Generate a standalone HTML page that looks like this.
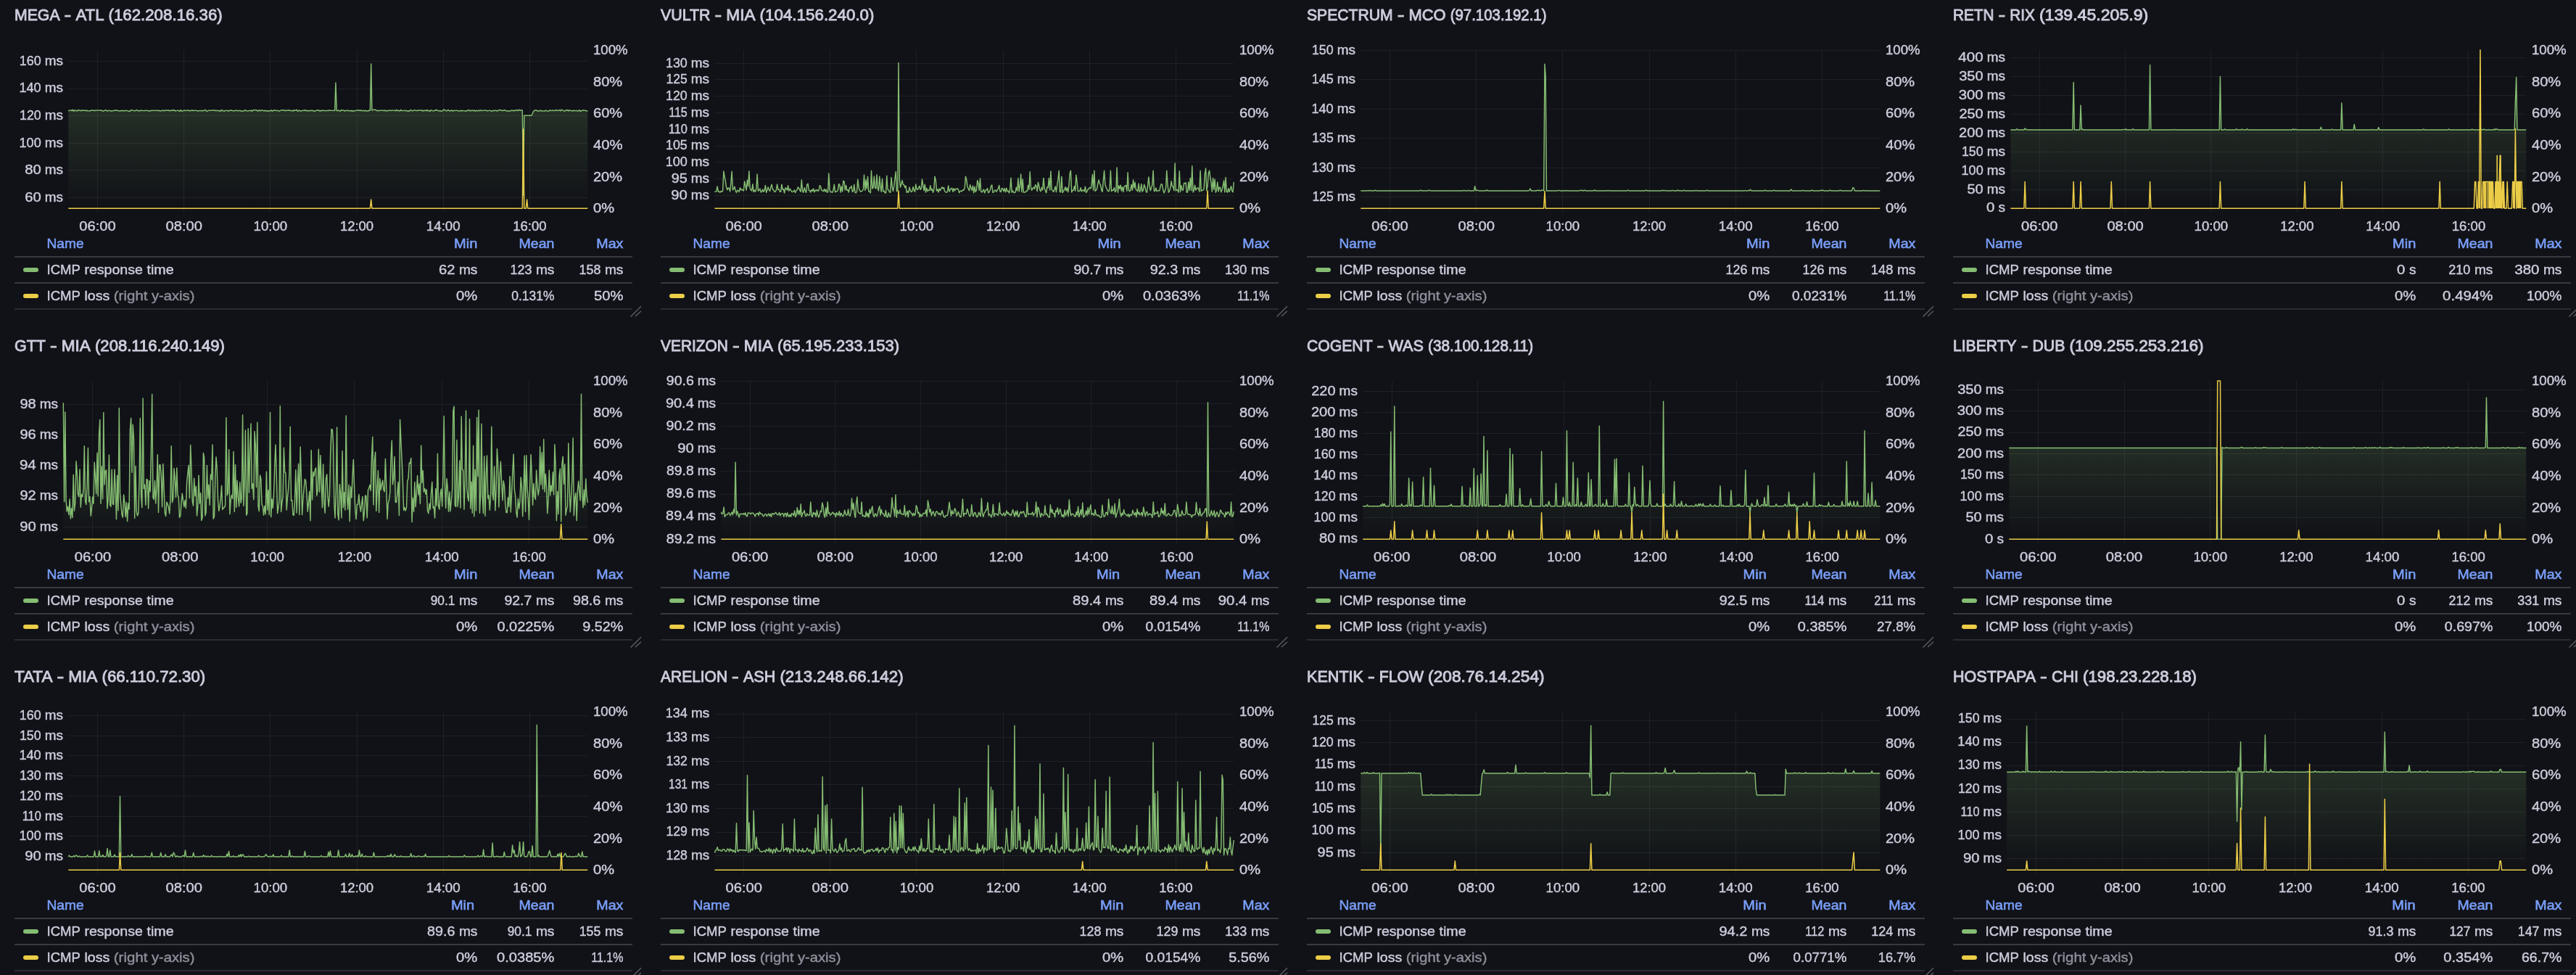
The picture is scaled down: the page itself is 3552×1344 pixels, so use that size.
<!DOCTYPE html>
<html><head><meta charset="utf-8"><title>ICMP dashboard</title><style>
html,body{margin:0;padding:0;background:#111217;}
body{width:3552px;height:1344px;overflow:hidden;}
svg{display:block;font-family:"Liberation Sans",sans-serif;font-size:19px;fill:#ccccdc;will-change:transform;}
text{stroke:#ccccdc;stroke-width:0.45px;}
.t{font-size:22.2px;stroke-width:0.9px;}
.h{stroke:#799ef8;stroke-width:0.6px;}
.g{stroke:#1f2025;stroke-width:1px;fill:none;shape-rendering:crispEdges;}
.gl{stroke:#85bd72;stroke-width:1.45px;fill:none;stroke-linejoin:round;}
.yl{stroke:#eccd47;stroke-width:1.5px;fill:none;stroke-linejoin:round;}
.r{stroke:#393a41;stroke-width:2px;fill:none;}
.r2{stroke:#2b2c32;stroke-width:2px;fill:none;}
.rh{stroke:#5a5b65;stroke-width:1.5px;fill:none;}
</style></head><body>
<svg width="3552" height="1344" viewBox="0 0 3552 1344">
<defs><linearGradient id="gf" gradientUnits="userSpaceOnUse" x1="0" y1="68.9" x2="0" y2="287.2"><stop offset="0" stop-color="#85bd72" stop-opacity="0.27"/><stop offset="1" stop-color="#85bd72" stop-opacity="0"/></linearGradient></defs>
<g transform="translate(0,0)">
<text x="20" y="28" class="t" textLength="62.57" lengthAdjust="spacingAndGlyphs">MEGA</text><text x="88.6" y="28" class="t" textLength="9.70" lengthAdjust="spacingAndGlyphs">-</text><text x="104.4" y="28" class="t" textLength="39.11" lengthAdjust="spacingAndGlyphs">ATL</text><text x="149.5" y="28" class="t" textLength="157.20" lengthAdjust="spacingAndGlyphs">(162.208.16.36)</text>
<path class="g" d="M94.3 84.5H810.3M94.3 122.5H810.3M94.3 159.5H810.3M94.3 197.5H810.3M94.3 234.5H810.3M94.3 272.5H810.3M134.5 68.9V293.2M253.5 68.9V293.2M372.5 68.9V293.2M492.5 68.9V293.2M611.5 68.9V293.2M730.5 68.9V293.2"/>
<path d="M94.3 153.2L95.5 152.1L96.8 152.1L98 151.9L99.3 152.8L100.5 151.2L101.8 153.3L103 152L104.3 152.6L105.5 152.3L106.8 153.1L108 151.4L109.3 152.2L110.5 152.2L111.8 153L113 151.9L114.3 152.3L115.5 152L116.8 152.4L118 152.7L119.3 151.8L120.5 153L121.8 152.9L123 152.7L124.3 152.9L125.5 152.1L126.8 152.3L128 151.9L129.3 152.3L130.5 152.7L131.8 152.1L133 152.2L134.3 152.1L135.5 152L136.8 152.1L138 152.4L139.3 151.8L140.5 152.5L141.8 153.2L143 152.8L144.3 152.3L145.5 152L146.8 152L148 153.2L149.3 152.4L150.5 152.1L151.8 152.5L153 153.5L154.3 152.5L155.5 152.7L156.8 152.6L158 152.2L159.3 151.8L160.5 152.2L161.8 152.3L163 152.7L164.3 152.8L165.5 152.9L166.8 152.5L168 152.8L169.3 152L170.5 153L171.8 152.7L173 152.3L174.3 152.6L175.5 152.4L176.8 153L178 153.2L179.3 153.5L180.5 151.7L181.8 151.7L183 152.1L184.3 152.5L185.5 152.8L186.8 152.6L188 151.4L189.3 152.2L190.5 152.8L191.8 152.5L193 152.8L194.3 152.3L195.5 152.3L196.8 152.5L198 152.6L199.3 152.5L200.5 152.5L201.8 152.1L203 152.6L204.3 152.5L205.5 153L206.8 153L208 152.5L209.3 152.2L210.5 152.1L211.8 152.6L213 152.4L214.3 152.2L215.5 152.4L216.8 152.1L218 152.7L219.3 152.2L220.5 153L221.8 152.6L223 152.7L224.3 151.9L225.5 152.5L226.8 152.8L228 151.9L229.3 152.3L230.5 152.4L231.8 151.7L233 152.6L234.3 152.8L235.5 152L236.8 152.6L238 151.7L239.2 152.4L240.5 151.6L241.7 153L243 152.6L244.2 152.4L245.5 152L246.7 153L248 153.4L249.2 151.5L250.5 153L251.7 153.2L253 152.6L254.2 151.8L255.5 152.8L256.7 152.3L258 152.1L259.2 151.8L260.5 152.7L261.7 152.8L263 152.1L264.2 152.7L265.5 151.8L266.7 152.8L268 152.4L269.2 152.3L270.5 152.3L271.7 152.8L273 152.8L274.2 152.7L275.5 152.5L276.7 152.4L278 152.7L279.2 152.5L280.5 152.7L281.7 152.2L283 151.2L284.2 152.9L285.5 153.5L286.7 152.6L288 152.3L290.5 152.3L291.7 152.4L293 151.8L294.2 152.1L295.5 151.9L296.7 152.5L298 152.3L299.2 152.6L300.5 152.3L301.7 152.9L303 152.5L304.2 153.5L305.5 151.5L306.7 152.1L308 152.9L309.2 153.6L310.5 152.3L311.7 152.4L313 152.3L314.2 153.1L315.5 152.3L316.7 152.7L318 152.2L319.2 151.8L320.5 152.6L321.7 152.7L323 153L324.2 152.3L325.5 152.1L326.7 152.7L328 152.5L329.2 152.5L330.5 152.4L331.7 153L333 152.6L334.2 153.4L335.5 153L336.7 152.7L338 151.6L339.2 152.7L340.5 152.6L341.7 152.8L343 152.9L344.2 152.2L345.5 152.8L346.7 152.1L348 153.4L349.2 151.7L350.5 151.5L351.7 151.6L353 152L354.2 151.8L355.5 153.4L356.7 152.2L358 151.7L359.2 153L360.5 152.1L361.7 151.8L363 152.8L364.2 152.7L365.5 152.2L366.7 153.1L368 152.5L369.2 153.2L370.5 152.7L371.7 153.2L373 152.5L374.2 151.8L375.5 153.6L376.7 152.1L378 152.3L379.2 152L380.5 152.3L381.7 152.5L382.9 152.5L384.2 152.7L385.4 153.3L386.7 152.3L387.9 151.8L389.2 151.8L390.4 152.1L391.7 151.6L392.9 152.8L394.2 152.2L395.4 152.2L396.7 152.4L397.9 151.7L399.2 152L400.4 152.7L401.7 152.7L402.9 152.2L404.2 153.3L405.4 151.7L406.7 152.2L407.9 152.3L409.2 151.2L410.4 153.4L411.7 152.6L412.9 151.9L414.2 153.4L415.4 152.7L416.7 152.6L417.9 152.1L419.2 152.5L420.4 151.6L421.7 152.8L422.9 152.2L424.2 152.5L425.4 153L426.7 152.5L429.2 152.5L430.4 152L431.7 152.8L432.9 153.2L434.2 152.8L435.4 152.8L436.7 152L437.9 152L439.2 151.7L440.4 153L441.7 152.3L442.9 153.1L444.2 152L445.4 152.2L446.7 152.4L447.9 152.9L449.2 152.4L450.4 152.5L451.7 152.4L452.9 152.5L454.2 151.8L455.4 152.4L456.7 152.3L457.9 152.4L459.2 152.6L460.4 152.1L461.7 152.4L462.9 114L464.2 152.6L465.4 152.8L466.7 151.9L467.9 152.7L469.2 153.4L470.4 151.7L471.7 152L472.9 152L474.2 152.3L475.4 153.2L476.7 152.4L477.9 152.1L479.2 152.7L480.4 152.1L481.7 153L482.9 152.6L484.2 153.1L485.4 152.1L486.7 153.6L487.9 152.8L489.2 152.7L490.4 152.4L491.7 152L492.9 152L494.2 152.3L495.4 152L496.7 152.5L497.9 152L499.2 152.7L500.4 152.9L501.7 152L502.9 153L504.2 152.3L505.4 153L506.7 152.6L507.9 153L509.2 151.9L510.4 152.3L511.7 88L512.9 152.1L514.2 151.4L515.4 151.4L516.7 151.2L517.9 151.3L519.2 152.2L520.4 153L521.7 152.2L522.9 152.6L524.1 152.3L525.4 152.4L526.6 152.3L527.9 152.3L529.1 152.6L530.4 151.8L531.6 152.9L532.9 152.9L534.1 152.3L535.4 152.8L536.6 152L537.9 152.1L539.1 152.5L540.4 152.3L541.6 152.2L542.9 152.1L544.1 152.1L545.4 152.9L546.6 151.4L547.9 152.6L549.1 152.3L550.4 152.8L551.6 152.7L552.9 151.2L554.1 152.7L555.4 152.6L556.6 152.4L557.9 152.2L559.1 152.8L560.4 152.2L561.6 153.3L562.9 152.7L564.1 153.5L565.4 152L566.6 151.5L567.9 152.8L569.1 152.8L570.4 152.4L571.6 151.6L572.9 152.2L574.1 152.7L575.4 152.3L576.6 152.3L577.9 152.3L579.1 151.9L580.4 152.1L581.6 151.7L582.9 153.3L584.1 152.2L585.4 152.6L586.6 151.9L587.9 152.8L589.1 151.5L590.4 152.9L591.6 152.4L592.9 153.5L594.1 151.7L595.4 152.4L596.6 152.6L597.9 153L599.1 152.2L600.4 152.4L601.6 151.3L602.9 152L604.1 152.6L605.4 153L606.6 152.3L607.9 153.4L609.1 153.3L610.4 152.4L611.6 151.2L612.9 151.5L614.1 152L615.4 153L616.6 152.6L617.9 151.4L619.1 152.3L620.4 153.2L621.6 152.2L622.9 152L624.1 153.4L625.4 152.4L626.6 152.2L627.9 152.6L629.1 152.4L630.4 152.2L631.6 153L632.9 153L634.1 152.8L635.4 152.3L636.6 153L637.9 152.4L639.1 152.6L640.4 152.9L641.6 152.8L642.9 153.3L644.1 152.6L645.4 151.6L646.6 151.8L647.9 153.1L649.1 152.2L650.4 152.6L651.6 152L652.9 152.9L654.1 152.2L655.4 153.1L656.6 152.1L657.9 153L659.1 152.7L660.4 152L661.6 152.9L662.9 151.9L664.1 152L665.4 152.8L666.6 152.1L667.8 152.1L669.1 152.2L670.3 151.9L671.6 152.9L672.8 152.7L674.1 152.4L675.3 152.3L676.6 152.6L677.8 153.3L679.1 152.8L680.3 152.1L681.6 152.8L682.8 152.3L684.1 152.3L685.3 153.3L686.6 152.2L687.8 152.2L689.1 151.4L690.3 151.7L691.6 152.6L692.8 152.1L694.1 152.7L695.3 151.8L696.6 152L697.8 152.7L699.1 153.1L700.3 152.7L701.6 153L702.8 153.3L704.1 152.9L705.3 151.9L706.6 152.3L707.8 152.7L709.1 152.2L710.3 152.6L711.6 151.6L712.8 152L714.1 152.7L715.3 151.3L716.6 151.8L717.8 152.4L719.1 151.5L720.3 152.4L721.6 269.4L722.8 159.3L732.8 159.3L734.1 157L735.3 154L736.6 152.7L737.8 152L739.1 152L740.3 152.7L741.6 152.5L742.8 153L744.1 153.1L745.3 152.1L746.6 152.5L747.8 153.3L749.1 152.9L750.3 152.8L751.6 153.1L752.8 152.1L754.1 152.7L755.3 153.1L756.6 153.2L757.8 152L759.1 152.3L760.3 152.6L761.6 152.3L762.8 152.2L764.1 152.7L765.3 152.2L766.6 151.5L767.8 152.6L769.1 152.2L770.3 152L771.6 151.6L772.8 152.9L774.1 151.3L775.3 151.6L776.6 152.3L777.8 153L779.1 153.1L780.3 151.8L781.6 152.3L782.8 151.6L784.1 152.9L785.3 151.7L786.6 152.3L787.8 152.9L789.1 152.3L790.3 153.1L791.6 152L792.8 152.6L794.1 152.8L795.3 152.3L796.6 153.1L797.8 152.7L799.1 151.6L800.3 153.6L801.6 152.7L802.8 152.5L804.1 151.7L805.3 152.4L806.6 152.2L807.8 152.7L809.1 152.6L810.3 153.3L810.3 287.2L94.3 287.2Z" fill="url(#gf)" stroke="none"/>
<path class="gl" d="M94.3 153.2L95.5 152.1L96.8 152.1L98 151.9L99.3 152.8L100.5 151.2L101.8 153.3L103 152L104.3 152.6L105.5 152.3L106.8 153.1L108 151.4L109.3 152.2L110.5 152.2L111.8 153L113 151.9L114.3 152.3L115.5 152L116.8 152.4L118 152.7L119.3 151.8L120.5 153L121.8 152.9L123 152.7L124.3 152.9L125.5 152.1L126.8 152.3L128 151.9L129.3 152.3L130.5 152.7L131.8 152.1L133 152.2L134.3 152.1L135.5 152L136.8 152.1L138 152.4L139.3 151.8L140.5 152.5L141.8 153.2L143 152.8L144.3 152.3L145.5 152L146.8 152L148 153.2L149.3 152.4L150.5 152.1L151.8 152.5L153 153.5L154.3 152.5L155.5 152.7L156.8 152.6L158 152.2L159.3 151.8L160.5 152.2L161.8 152.3L163 152.7L164.3 152.8L165.5 152.9L166.8 152.5L168 152.8L169.3 152L170.5 153L171.8 152.7L173 152.3L174.3 152.6L175.5 152.4L176.8 153L178 153.2L179.3 153.5L180.5 151.7L181.8 151.7L183 152.1L184.3 152.5L185.5 152.8L186.8 152.6L188 151.4L189.3 152.2L190.5 152.8L191.8 152.5L193 152.8L194.3 152.3L195.5 152.3L196.8 152.5L198 152.6L199.3 152.5L200.5 152.5L201.8 152.1L203 152.6L204.3 152.5L205.5 153L206.8 153L208 152.5L209.3 152.2L210.5 152.1L211.8 152.6L213 152.4L214.3 152.2L215.5 152.4L216.8 152.1L218 152.7L219.3 152.2L220.5 153L221.8 152.6L223 152.7L224.3 151.9L225.5 152.5L226.8 152.8L228 151.9L229.3 152.3L230.5 152.4L231.8 151.7L233 152.6L234.3 152.8L235.5 152L236.8 152.6L238 151.7L239.2 152.4L240.5 151.6L241.7 153L243 152.6L244.2 152.4L245.5 152L246.7 153L248 153.4L249.2 151.5L250.5 153L251.7 153.2L253 152.6L254.2 151.8L255.5 152.8L256.7 152.3L258 152.1L259.2 151.8L260.5 152.7L261.7 152.8L263 152.1L264.2 152.7L265.5 151.8L266.7 152.8L268 152.4L269.2 152.3L270.5 152.3L271.7 152.8L273 152.8L274.2 152.7L275.5 152.5L276.7 152.4L278 152.7L279.2 152.5L280.5 152.7L281.7 152.2L283 151.2L284.2 152.9L285.5 153.5L286.7 152.6L288 152.3L290.5 152.3L291.7 152.4L293 151.8L294.2 152.1L295.5 151.9L296.7 152.5L298 152.3L299.2 152.6L300.5 152.3L301.7 152.9L303 152.5L304.2 153.5L305.5 151.5L306.7 152.1L308 152.9L309.2 153.6L310.5 152.3L311.7 152.4L313 152.3L314.2 153.1L315.5 152.3L316.7 152.7L318 152.2L319.2 151.8L320.5 152.6L321.7 152.7L323 153L324.2 152.3L325.5 152.1L326.7 152.7L328 152.5L329.2 152.5L330.5 152.4L331.7 153L333 152.6L334.2 153.4L335.5 153L336.7 152.7L338 151.6L339.2 152.7L340.5 152.6L341.7 152.8L343 152.9L344.2 152.2L345.5 152.8L346.7 152.1L348 153.4L349.2 151.7L350.5 151.5L351.7 151.6L353 152L354.2 151.8L355.5 153.4L356.7 152.2L358 151.7L359.2 153L360.5 152.1L361.7 151.8L363 152.8L364.2 152.7L365.5 152.2L366.7 153.1L368 152.5L369.2 153.2L370.5 152.7L371.7 153.2L373 152.5L374.2 151.8L375.5 153.6L376.7 152.1L378 152.3L379.2 152L380.5 152.3L381.7 152.5L382.9 152.5L384.2 152.7L385.4 153.3L386.7 152.3L387.9 151.8L389.2 151.8L390.4 152.1L391.7 151.6L392.9 152.8L394.2 152.2L395.4 152.2L396.7 152.4L397.9 151.7L399.2 152L400.4 152.7L401.7 152.7L402.9 152.2L404.2 153.3L405.4 151.7L406.7 152.2L407.9 152.3L409.2 151.2L410.4 153.4L411.7 152.6L412.9 151.9L414.2 153.4L415.4 152.7L416.7 152.6L417.9 152.1L419.2 152.5L420.4 151.6L421.7 152.8L422.9 152.2L424.2 152.5L425.4 153L426.7 152.5L429.2 152.5L430.4 152L431.7 152.8L432.9 153.2L434.2 152.8L435.4 152.8L436.7 152L437.9 152L439.2 151.7L440.4 153L441.7 152.3L442.9 153.1L444.2 152L445.4 152.2L446.7 152.4L447.9 152.9L449.2 152.4L450.4 152.5L451.7 152.4L452.9 152.5L454.2 151.8L455.4 152.4L456.7 152.3L457.9 152.4L459.2 152.6L460.4 152.1L461.7 152.4L462.9 114L464.2 152.6L465.4 152.8L466.7 151.9L467.9 152.7L469.2 153.4L470.4 151.7L471.7 152L472.9 152L474.2 152.3L475.4 153.2L476.7 152.4L477.9 152.1L479.2 152.7L480.4 152.1L481.7 153L482.9 152.6L484.2 153.1L485.4 152.1L486.7 153.6L487.9 152.8L489.2 152.7L490.4 152.4L491.7 152L492.9 152L494.2 152.3L495.4 152L496.7 152.5L497.9 152L499.2 152.7L500.4 152.9L501.7 152L502.9 153L504.2 152.3L505.4 153L506.7 152.6L507.9 153L509.2 151.9L510.4 152.3L511.7 88L512.9 152.1L514.2 151.4L515.4 151.4L516.7 151.2L517.9 151.3L519.2 152.2L520.4 153L521.7 152.2L522.9 152.6L524.1 152.3L525.4 152.4L526.6 152.3L527.9 152.3L529.1 152.6L530.4 151.8L531.6 152.9L532.9 152.9L534.1 152.3L535.4 152.8L536.6 152L537.9 152.1L539.1 152.5L540.4 152.3L541.6 152.2L542.9 152.1L544.1 152.1L545.4 152.9L546.6 151.4L547.9 152.6L549.1 152.3L550.4 152.8L551.6 152.7L552.9 151.2L554.1 152.7L555.4 152.6L556.6 152.4L557.9 152.2L559.1 152.8L560.4 152.2L561.6 153.3L562.9 152.7L564.1 153.5L565.4 152L566.6 151.5L567.9 152.8L569.1 152.8L570.4 152.4L571.6 151.6L572.9 152.2L574.1 152.7L575.4 152.3L576.6 152.3L577.9 152.3L579.1 151.9L580.4 152.1L581.6 151.7L582.9 153.3L584.1 152.2L585.4 152.6L586.6 151.9L587.9 152.8L589.1 151.5L590.4 152.9L591.6 152.4L592.9 153.5L594.1 151.7L595.4 152.4L596.6 152.6L597.9 153L599.1 152.2L600.4 152.4L601.6 151.3L602.9 152L604.1 152.6L605.4 153L606.6 152.3L607.9 153.4L609.1 153.3L610.4 152.4L611.6 151.2L612.9 151.5L614.1 152L615.4 153L616.6 152.6L617.9 151.4L619.1 152.3L620.4 153.2L621.6 152.2L622.9 152L624.1 153.4L625.4 152.4L626.6 152.2L627.9 152.6L629.1 152.4L630.4 152.2L631.6 153L632.9 153L634.1 152.8L635.4 152.3L636.6 153L637.9 152.4L639.1 152.6L640.4 152.9L641.6 152.8L642.9 153.3L644.1 152.6L645.4 151.6L646.6 151.8L647.9 153.1L649.1 152.2L650.4 152.6L651.6 152L652.9 152.9L654.1 152.2L655.4 153.1L656.6 152.1L657.9 153L659.1 152.7L660.4 152L661.6 152.9L662.9 151.9L664.1 152L665.4 152.8L666.6 152.1L667.8 152.1L669.1 152.2L670.3 151.9L671.6 152.9L672.8 152.7L674.1 152.4L675.3 152.3L676.6 152.6L677.8 153.3L679.1 152.8L680.3 152.1L681.6 152.8L682.8 152.3L684.1 152.3L685.3 153.3L686.6 152.2L687.8 152.2L689.1 151.4L690.3 151.7L691.6 152.6L692.8 152.1L694.1 152.7L695.3 151.8L696.6 152L697.8 152.7L699.1 153.1L700.3 152.7L701.6 153L702.8 153.3L704.1 152.9L705.3 151.9L706.6 152.3L707.8 152.7L709.1 152.2L710.3 152.6L711.6 151.6L712.8 152L714.1 152.7L715.3 151.3L716.6 151.8L717.8 152.4L719.1 151.5L720.3 152.4L721.6 269.4L722.8 159.3L732.8 159.3L734.1 157L735.3 154L736.6 152.7L737.8 152L739.1 152L740.3 152.7L741.6 152.5L742.8 153L744.1 153.1L745.3 152.1L746.6 152.5L747.8 153.3L749.1 152.9L750.3 152.8L751.6 153.1L752.8 152.1L754.1 152.7L755.3 153.1L756.6 153.2L757.8 152L759.1 152.3L760.3 152.6L761.6 152.3L762.8 152.2L764.1 152.7L765.3 152.2L766.6 151.5L767.8 152.6L769.1 152.2L770.3 152L771.6 151.6L772.8 152.9L774.1 151.3L775.3 151.6L776.6 152.3L777.8 153L779.1 153.1L780.3 151.8L781.6 152.3L782.8 151.6L784.1 152.9L785.3 151.7L786.6 152.3L787.8 152.9L789.1 152.3L790.3 153.1L791.6 152L792.8 152.6L794.1 152.8L795.3 152.3L796.6 153.1L797.8 152.7L799.1 151.6L800.3 153.6L801.6 152.7L802.8 152.5L804.1 151.7L805.3 152.4L806.6 152.2L807.8 152.7L809.1 152.6L810.3 153.3"/>
<path class="yl" d="M94.3 287.2L510.4 287.2L511.7 275.1L512.9 287.2L720.3 287.2L721.6 178L722.8 287.2L725.3 287.2L726.6 275.1L727.8 287.2L810.3 287.2"/>
<text x="26.8" y="89.7" textLength="29.84" lengthAdjust="spacingAndGlyphs">160</text><text x="61.7" y="89.7" textLength="25.27" lengthAdjust="spacingAndGlyphs">ms</text>
<text x="26.4" y="127.3" textLength="30.31" lengthAdjust="spacingAndGlyphs">140</text><text x="61.7" y="127.3" textLength="25.27" lengthAdjust="spacingAndGlyphs">ms</text>
<text x="27" y="165" textLength="29.67" lengthAdjust="spacingAndGlyphs">120</text><text x="61.7" y="165" textLength="25.27" lengthAdjust="spacingAndGlyphs">ms</text>
<text x="26.6" y="202.6" textLength="30.05" lengthAdjust="spacingAndGlyphs">100</text><text x="61.7" y="202.6" textLength="25.27" lengthAdjust="spacingAndGlyphs">ms</text>
<text x="34.2" y="240.3" textLength="22.50" lengthAdjust="spacingAndGlyphs">80</text><text x="61.7" y="240.3" textLength="25.27" lengthAdjust="spacingAndGlyphs">ms</text>
<text x="34.2" y="277.9" textLength="22.52" lengthAdjust="spacingAndGlyphs">60</text><text x="61.7" y="277.9" textLength="25.27" lengthAdjust="spacingAndGlyphs">ms</text>
<text x="818" y="75.1" textLength="47.72" lengthAdjust="spacingAndGlyphs">100%</text>
<text x="818" y="118.8" textLength="40.17" lengthAdjust="spacingAndGlyphs">80%</text>
<text x="818" y="162.4" textLength="40.19" lengthAdjust="spacingAndGlyphs">60%</text>
<text x="818" y="206.1" textLength="40.66" lengthAdjust="spacingAndGlyphs">40%</text>
<text x="818" y="249.7" textLength="40.02" lengthAdjust="spacingAndGlyphs">20%</text>
<text x="818" y="293.4" textLength="29.03" lengthAdjust="spacingAndGlyphs">0%</text>
<text x="109.3" y="318.2" textLength="50.42" lengthAdjust="spacingAndGlyphs">06:00</text>
<text x="228.5" y="318.2" textLength="50.41" lengthAdjust="spacingAndGlyphs">08:00</text>
<text x="349.6" y="318.2" textLength="46.59" lengthAdjust="spacingAndGlyphs">10:00</text>
<text x="468.9" y="318.2" textLength="46.22" lengthAdjust="spacingAndGlyphs">12:00</text>
<text x="587.8" y="318.2" textLength="46.86" lengthAdjust="spacingAndGlyphs">14:00</text>
<text x="707.2" y="318.2" textLength="46.39" lengthAdjust="spacingAndGlyphs">16:00</text>
<text x="64.5" y="341.8" class="h" style="fill:#799ef8;stroke:#799ef8" textLength="51.07" lengthAdjust="spacingAndGlyphs">Name</text>
<text x="626.1" y="341.8" class="h" style="fill:#799ef8;stroke:#799ef8" textLength="32.23" lengthAdjust="spacingAndGlyphs">Min</text>
<text x="715.5" y="341.8" class="h" style="fill:#799ef8;stroke:#799ef8" textLength="48.89" lengthAdjust="spacingAndGlyphs">Mean</text>
<text x="822.3" y="341.8" class="h" style="fill:#799ef8;stroke:#799ef8" textLength="37.12" lengthAdjust="spacingAndGlyphs">Max</text>
<path class="r" d="M20 354H872M20 390H872"/><path class="r2" d="M20 426H872"/>
<rect x="32" y="369" width="21" height="6" rx="3" fill="#85bd72"/>
<rect x="32" y="405" width="21" height="6" rx="3" fill="#eccd47"/>
<text x="64.5" y="377.9" textLength="46.42" lengthAdjust="spacingAndGlyphs">ICMP</text><text x="116.4" y="377.9" textLength="80.51" lengthAdjust="spacingAndGlyphs">response</text><text x="202.5" y="377.9" textLength="37.19" lengthAdjust="spacingAndGlyphs">time</text>
<text x="64.5" y="413.9" textLength="46.42" lengthAdjust="spacingAndGlyphs">ICMP</text><text x="116.4" y="413.9" textLength="34.83" lengthAdjust="spacingAndGlyphs">loss</text>
<text x="156.8" y="413.9" style="fill:#8e8e9b;stroke:#8e8e9b" textLength="46.69" lengthAdjust="spacingAndGlyphs">(right</text><text x="209" y="413.9" style="fill:#8e8e9b;stroke:#8e8e9b" textLength="59.38" lengthAdjust="spacingAndGlyphs">y-axis)</text>
<text x="605" y="377.9" textLength="22.37" lengthAdjust="spacingAndGlyphs">62</text><text x="632.9" y="377.9" textLength="25.49" lengthAdjust="spacingAndGlyphs">ms</text>
<text x="703.5" y="377.9" textLength="29.89" lengthAdjust="spacingAndGlyphs">123</text><text x="738.9" y="377.9" textLength="25.49" lengthAdjust="spacingAndGlyphs">ms</text>
<text x="798.5" y="377.9" textLength="29.86" lengthAdjust="spacingAndGlyphs">158</text><text x="833.9" y="377.9" textLength="25.49" lengthAdjust="spacingAndGlyphs">ms</text>
<text x="629.1" y="413.9" textLength="29.26" lengthAdjust="spacingAndGlyphs">0%</text>
<text x="705.3" y="413.9" textLength="59.11" lengthAdjust="spacingAndGlyphs">0.131%</text>
<text x="819" y="413.9" textLength="40.42" lengthAdjust="spacingAndGlyphs">50%</text>
<path class="rh" d="M869.5 436.5L884 422.3M876 436L884 428.8"/>
</g>
<g transform="translate(891,0)">
<text x="20" y="28" class="t" textLength="68.54" lengthAdjust="spacingAndGlyphs">VULTR</text><text x="94.6" y="28" class="t" textLength="9.70" lengthAdjust="spacingAndGlyphs">-</text><text x="110.3" y="28" class="t" textLength="40.23" lengthAdjust="spacingAndGlyphs">MIA</text><text x="156.6" y="28" class="t" textLength="157.92" lengthAdjust="spacingAndGlyphs">(104.156.240.0)</text>
<path class="g" d="M94.4 87.5H810.3M94.4 109.5H810.3M94.4 132.5H810.3M94.4 155.5H810.3M94.4 178.5H810.3M94.4 201.5H810.3M94.4 223.5H810.3M94.4 246.5H810.3M94.4 269.5H810.3M134.5 68.9V293.2M253.5 68.9V293.2M372.5 68.9V293.2M492.5 68.9V293.2M611.5 68.9V293.2M730.5 68.9V293.2"/>
<path d="M94.4 264.2L95.6 264.3L96.9 263.7L98.1 257L99.4 264.3L100.6 263.9L101.9 265.2L103.1 263.4L104.4 264.3L105.6 263.2L106.9 236L108.1 243.3L109.4 250.1L110.6 258.5L111.9 261.6L113.1 258.9L114.4 259.9L115.6 263.9L116.9 252.1L118.1 236.3L119.4 261.7L120.6 260.5L121.9 257.2L123.1 262.7L124.4 265.5L125.6 262.2L126.9 262.8L128.1 264.7L129.4 258.8L130.6 262.1L131.9 260.7L133.1 262.3L134.4 263L135.6 250L136.9 255.9L138.1 262L139.4 248.5L140.6 256.6L141.9 235.7L143.1 259.2L144.4 261.9L145.6 263.1L146.9 253.7L148.1 264.6L149.4 262.1L150.6 264.2L151.9 259.5L153.1 240L154.4 263.4L155.6 262L156.9 260.1L158.1 264.8L159.4 264.5L160.6 261L161.9 264.3L163.1 262.3L164.4 255.5L165.6 265.5L166.9 261.8L168.1 257.9L169.4 261.9L170.6 263.5L171.9 257.9L173.1 254.3L174.4 261.1L175.6 261.6L176.9 264.5L178.1 264.2L179.4 261.8L180.6 254L181.9 261.2L183.1 260.9L184.4 264.3L185.6 264.4L186.9 254.2L188.1 261.2L189.4 260.7L190.6 266L191.9 258.9L193.1 259.8L194.4 262.2L195.6 255.8L196.8 263.2L198.1 260.3L199.3 261.7L200.6 264.3L201.8 264.6L203.1 263.7L204.3 261.9L205.6 265.6L206.8 262.7L208.1 261.7L209.3 258L210.6 259.4L211.8 262.2L213.1 264.3L214.3 248L215.6 263.2L216.8 265.3L218.1 258.8L219.3 262.7L220.6 265.5L221.8 254.4L223.1 253.3L224.3 262.6L225.6 262.6L226.8 265.1L228.1 261.5L229.3 263.5L230.6 260L231.8 264.9L233.1 262.1L234.3 263L235.6 261.5L236.8 263.4L238.1 262.5L239.3 255.6L240.6 257.1L241.8 262L243.1 263.1L244.3 263.7L245.6 260.6L246.8 264.1L248.1 261L249.3 265L250.6 264.9L251.8 239L253.1 262.3L254.3 264.8L255.6 264.4L256.8 265.3L258.1 261.7L259.3 254.3L260.6 264.8L261.8 264L263.1 263.7L264.3 262.4L265.6 253.5L266.8 254.6L268.1 265.1L269.3 257L270.6 264L271.8 249.2L273.1 250.3L274.3 262L275.6 255.4L276.8 262.4L278.1 261.6L279.3 265.1L280.6 258.7L281.8 259L283.1 256.3L284.3 264.5L285.6 263.5L286.8 254.3L288.1 265.4L289.3 265.9L290.6 263.5L291.8 247.4L293.1 258.4L294.3 262.3L295.6 264.2L296.8 263.4L298.1 263.2L299.3 260.7L300.5 241L301.8 262.5L303 248L304.3 260.3L305.5 243.4L306.8 263.9L308 263.8L309.3 265.9L310.5 235.3L311.8 260L313 258.7L314.3 243.3L315.5 258.8L316.8 259.9L318 240.9L319.3 259.9L320.5 263.1L321.8 243.3L323 257.6L324.3 264.3L325.5 246.4L326.8 264L328 263L329.3 266L330.5 266L331.8 242.2L333 261.1L334.3 261.8L335.5 264.9L336.8 265.2L338 244.6L339.3 257.8L340.5 263.6L341.8 256.2L343 246.2L344.3 236.5L345.5 263.9L346.8 261.9L348 86.6L349.3 246.2L350.5 258.1L351.8 253.6L353 248.7L354.3 254.3L355.5 254.7L356.8 258.6L358 256.1L359.3 265.5L360.5 263.7L361.8 265.2L363 258.1L364.3 262.7L365.5 264.6L366.8 263.6L368 257.6L369.3 262.5L370.5 264.5L371.8 254L373 260.8L374.3 261.4L375.5 259.2L376.8 256.2L378 261.3L379.3 259.9L380.5 247L381.8 255.6L383 262.7L384.3 254.2L385.5 265.1L386.8 259.5L388 263.6L389.3 262L390.5 262.5L391.8 255.8L393 262.4L394.3 260.3L395.5 265.3L396.8 261.4L398 243.2L399.3 248.9L400.5 263.1L401.7 260.7L403 265L404.2 260.2L405.5 262.7L406.7 260L408 257.8L409.2 260.2L410.5 258.4L411.7 263.8L413 264.8L414.2 265.3L415.5 263.7L416.7 255.9L418 264.2L419.2 262L420.5 259.9L421.7 259.3L423 264.2L424.2 259.7L425.5 263L426.7 260.4L428 260.8L429.2 259.7L430.5 261.4L431.7 265.7L433 263.6L434.2 263L435.5 263.7L436.7 261.8L438 262.1L439.2 258.9L440.5 243.1L441.7 247.6L443 257.5L444.2 260L445.5 262.9L446.7 254.6L448 259.1L449.2 262.4L450.5 256.1L451.7 265.8L453 257.3L454.2 264.6L455.5 261.9L456.7 248.7L458 252.7L459.2 262.5L460.5 246L461.7 263.9L463 265L464.2 263.2L465.5 261.1L466.7 266L468 262.2L469.2 262.1L470.5 259.7L471.7 265.7L473 264.7L474.2 262L475.5 256.9L476.7 254.9L478 265.3L479.2 265L480.5 262.3L481.7 262.2L483 264.3L484.2 261.9L485.5 259.8L486.7 255.5L488 264.1L489.2 264.6L490.5 259.4L491.7 260.1L493 263.7L494.2 259.8L495.5 264.9L496.7 259.3L498 263.7L499.2 263.2L500.5 266L501.7 260.3L503 245.3L504.2 265.3L505.4 262.9L506.7 265.2L507.9 265.8L509.2 264.6L510.4 258.2L511.7 263L512.9 245.7L514.2 263.8L515.4 256.2L516.7 240L517.9 264.8L519.2 247L520.4 265.2L521.7 264.9L522.9 265L524.2 263.1L525.4 263.3L526.7 255.2L527.9 261.4L529.2 236.8L530.4 257.9L531.7 262.4L532.9 259.6L534.2 258.1L535.4 260.5L536.7 254.7L537.9 256.2L539.2 263.6L540.4 251.3L541.7 256L542.9 262.3L544.2 263.7L545.4 258.5L546.7 261.8L547.9 245.4L549.2 259.4L550.4 262.7L551.7 265.9L552.9 257.9L554.2 258.5L555.4 245.5L556.7 262L557.9 236L559.2 261.5L560.4 262.5L561.7 264.5L562.9 261.2L564.2 257.1L565.4 264.7L566.7 255.5L567.9 247.5L569.2 235.3L570.4 264.5L571.7 264.7L572.9 243.5L574.2 265.7L575.4 263.1L576.7 262L577.9 257.7L579.2 263.1L580.4 258.8L581.7 264.8L582.9 255.7L584.2 238.9L585.4 235.3L586.7 265L587.9 262.4L589.2 262.3L590.4 256.7L591.7 263.2L592.9 241.3L594.2 252.2L595.4 263.6L596.7 263.7L597.9 263.2L599.2 258.8L600.4 263.9L601.7 262.7L602.9 261.9L604.2 263.8L605.4 257.2L606.6 265.5L607.9 263.9L609.1 261.1L610.4 259.9L611.6 258.5L612.9 259.9L614.1 256.1L615.4 240.5L616.6 262.3L617.9 235.3L619.1 263.5L620.4 262.1L621.6 260.4L622.9 252.7L624.1 248.1L625.4 253.2L626.6 255L627.9 262.4L629.1 264.3L630.4 248.3L631.6 235.3L632.9 254.7L634.1 258L635.4 260.7L636.6 263.3L637.9 263.7L639.1 260.2L640.4 235.3L641.6 263.8L642.9 262.1L644.1 262.4L645.4 258.7L646.6 264.5L647.9 263.1L649.1 231L650.4 265.2L651.6 255.9L652.9 260.1L654.1 255.2L655.4 263.2L656.6 257.7L657.9 264.5L659.1 257L660.4 256.2L661.6 255.6L662.9 263.3L664.1 237.8L665.4 262L666.6 263.8L667.9 262L669.1 254.4L670.4 262.4L671.6 247.9L672.9 259L674.1 251.3L675.4 261.6L676.6 262L677.9 263.7L679.1 252.9L680.4 264.7L681.6 262.4L682.9 253.6L684.1 264.2L685.4 262.1L686.6 254.3L687.9 257.7L689.1 263.6L690.4 265.3L691.6 256.2L692.9 243.9L694.1 257.3L695.4 262.8L696.6 258.3L697.9 254.7L699.1 235.3L700.4 263.2L701.6 263.5L702.9 259L704.1 263.5L705.4 262.9L706.6 262.7L707.9 262.9L709.1 256.7L710.3 253.5L711.6 254.7L712.8 262L714.1 265.9L715.3 263.2L716.6 258.5L717.8 235.3L719.1 255.7L720.3 265.2L721.6 263.2L722.8 259.1L724.1 249.8L725.3 256.6L726.6 257.2L727.8 262.7L729.1 225L730.3 262.9L731.6 261.3L732.8 262.4L734.1 265.2L735.3 235.8L736.6 264.5L737.8 255.7L739.1 261.6L740.3 262.4L741.6 252.4L742.8 252.9L744.1 251.7L745.3 265.1L746.6 265L747.8 250.9L749.1 262.2L750.3 245.4L751.6 262.6L752.8 228.7L754.1 265L755.3 262.5L756.6 255.2L757.8 262.2L759.1 259.9L760.3 258.9L761.6 259.8L762.8 264L764.1 235.3L765.3 263.6L766.6 262.2L767.8 262L769.1 260.7L770.3 240.3L771.6 232L772.8 262.7L774.1 256.2L775.3 239.3L776.6 235.3L777.8 244.1L779.1 252.2L780.3 264.1L781.6 245.4L782.8 261.2L784.1 247.3L785.3 265.3L786.6 262L787.8 251.1L789.1 264L790.3 258.3L791.6 258.3L792.8 264.8L794.1 261.4L795.3 256.5L796.6 248.9L797.8 264.9L799.1 244.5L800.3 264.2L801.6 265.1L802.8 259.7L804.1 264.6L805.3 260.8L806.6 256.8L807.8 263.1L809.1 264.8L810.3 251.1L810.3 287.2L94.4 287.2Z" fill="url(#gf)" stroke="none"/>
<path class="gl" d="M94.4 264.2L95.6 264.3L96.9 263.7L98.1 257L99.4 264.3L100.6 263.9L101.9 265.2L103.1 263.4L104.4 264.3L105.6 263.2L106.9 236L108.1 243.3L109.4 250.1L110.6 258.5L111.9 261.6L113.1 258.9L114.4 259.9L115.6 263.9L116.9 252.1L118.1 236.3L119.4 261.7L120.6 260.5L121.9 257.2L123.1 262.7L124.4 265.5L125.6 262.2L126.9 262.8L128.1 264.7L129.4 258.8L130.6 262.1L131.9 260.7L133.1 262.3L134.4 263L135.6 250L136.9 255.9L138.1 262L139.4 248.5L140.6 256.6L141.9 235.7L143.1 259.2L144.4 261.9L145.6 263.1L146.9 253.7L148.1 264.6L149.4 262.1L150.6 264.2L151.9 259.5L153.1 240L154.4 263.4L155.6 262L156.9 260.1L158.1 264.8L159.4 264.5L160.6 261L161.9 264.3L163.1 262.3L164.4 255.5L165.6 265.5L166.9 261.8L168.1 257.9L169.4 261.9L170.6 263.5L171.9 257.9L173.1 254.3L174.4 261.1L175.6 261.6L176.9 264.5L178.1 264.2L179.4 261.8L180.6 254L181.9 261.2L183.1 260.9L184.4 264.3L185.6 264.4L186.9 254.2L188.1 261.2L189.4 260.7L190.6 266L191.9 258.9L193.1 259.8L194.4 262.2L195.6 255.8L196.8 263.2L198.1 260.3L199.3 261.7L200.6 264.3L201.8 264.6L203.1 263.7L204.3 261.9L205.6 265.6L206.8 262.7L208.1 261.7L209.3 258L210.6 259.4L211.8 262.2L213.1 264.3L214.3 248L215.6 263.2L216.8 265.3L218.1 258.8L219.3 262.7L220.6 265.5L221.8 254.4L223.1 253.3L224.3 262.6L225.6 262.6L226.8 265.1L228.1 261.5L229.3 263.5L230.6 260L231.8 264.9L233.1 262.1L234.3 263L235.6 261.5L236.8 263.4L238.1 262.5L239.3 255.6L240.6 257.1L241.8 262L243.1 263.1L244.3 263.7L245.6 260.6L246.8 264.1L248.1 261L249.3 265L250.6 264.9L251.8 239L253.1 262.3L254.3 264.8L255.6 264.4L256.8 265.3L258.1 261.7L259.3 254.3L260.6 264.8L261.8 264L263.1 263.7L264.3 262.4L265.6 253.5L266.8 254.6L268.1 265.1L269.3 257L270.6 264L271.8 249.2L273.1 250.3L274.3 262L275.6 255.4L276.8 262.4L278.1 261.6L279.3 265.1L280.6 258.7L281.8 259L283.1 256.3L284.3 264.5L285.6 263.5L286.8 254.3L288.1 265.4L289.3 265.9L290.6 263.5L291.8 247.4L293.1 258.4L294.3 262.3L295.6 264.2L296.8 263.4L298.1 263.2L299.3 260.7L300.5 241L301.8 262.5L303 248L304.3 260.3L305.5 243.4L306.8 263.9L308 263.8L309.3 265.9L310.5 235.3L311.8 260L313 258.7L314.3 243.3L315.5 258.8L316.8 259.9L318 240.9L319.3 259.9L320.5 263.1L321.8 243.3L323 257.6L324.3 264.3L325.5 246.4L326.8 264L328 263L329.3 266L330.5 266L331.8 242.2L333 261.1L334.3 261.8L335.5 264.9L336.8 265.2L338 244.6L339.3 257.8L340.5 263.6L341.8 256.2L343 246.2L344.3 236.5L345.5 263.9L346.8 261.9L348 86.6L349.3 246.2L350.5 258.1L351.8 253.6L353 248.7L354.3 254.3L355.5 254.7L356.8 258.6L358 256.1L359.3 265.5L360.5 263.7L361.8 265.2L363 258.1L364.3 262.7L365.5 264.6L366.8 263.6L368 257.6L369.3 262.5L370.5 264.5L371.8 254L373 260.8L374.3 261.4L375.5 259.2L376.8 256.2L378 261.3L379.3 259.9L380.5 247L381.8 255.6L383 262.7L384.3 254.2L385.5 265.1L386.8 259.5L388 263.6L389.3 262L390.5 262.5L391.8 255.8L393 262.4L394.3 260.3L395.5 265.3L396.8 261.4L398 243.2L399.3 248.9L400.5 263.1L401.7 260.7L403 265L404.2 260.2L405.5 262.7L406.7 260L408 257.8L409.2 260.2L410.5 258.4L411.7 263.8L413 264.8L414.2 265.3L415.5 263.7L416.7 255.9L418 264.2L419.2 262L420.5 259.9L421.7 259.3L423 264.2L424.2 259.7L425.5 263L426.7 260.4L428 260.8L429.2 259.7L430.5 261.4L431.7 265.7L433 263.6L434.2 263L435.5 263.7L436.7 261.8L438 262.1L439.2 258.9L440.5 243.1L441.7 247.6L443 257.5L444.2 260L445.5 262.9L446.7 254.6L448 259.1L449.2 262.4L450.5 256.1L451.7 265.8L453 257.3L454.2 264.6L455.5 261.9L456.7 248.7L458 252.7L459.2 262.5L460.5 246L461.7 263.9L463 265L464.2 263.2L465.5 261.1L466.7 266L468 262.2L469.2 262.1L470.5 259.7L471.7 265.7L473 264.7L474.2 262L475.5 256.9L476.7 254.9L478 265.3L479.2 265L480.5 262.3L481.7 262.2L483 264.3L484.2 261.9L485.5 259.8L486.7 255.5L488 264.1L489.2 264.6L490.5 259.4L491.7 260.1L493 263.7L494.2 259.8L495.5 264.9L496.7 259.3L498 263.7L499.2 263.2L500.5 266L501.7 260.3L503 245.3L504.2 265.3L505.4 262.9L506.7 265.2L507.9 265.8L509.2 264.6L510.4 258.2L511.7 263L512.9 245.7L514.2 263.8L515.4 256.2L516.7 240L517.9 264.8L519.2 247L520.4 265.2L521.7 264.9L522.9 265L524.2 263.1L525.4 263.3L526.7 255.2L527.9 261.4L529.2 236.8L530.4 257.9L531.7 262.4L532.9 259.6L534.2 258.1L535.4 260.5L536.7 254.7L537.9 256.2L539.2 263.6L540.4 251.3L541.7 256L542.9 262.3L544.2 263.7L545.4 258.5L546.7 261.8L547.9 245.4L549.2 259.4L550.4 262.7L551.7 265.9L552.9 257.9L554.2 258.5L555.4 245.5L556.7 262L557.9 236L559.2 261.5L560.4 262.5L561.7 264.5L562.9 261.2L564.2 257.1L565.4 264.7L566.7 255.5L567.9 247.5L569.2 235.3L570.4 264.5L571.7 264.7L572.9 243.5L574.2 265.7L575.4 263.1L576.7 262L577.9 257.7L579.2 263.1L580.4 258.8L581.7 264.8L582.9 255.7L584.2 238.9L585.4 235.3L586.7 265L587.9 262.4L589.2 262.3L590.4 256.7L591.7 263.2L592.9 241.3L594.2 252.2L595.4 263.6L596.7 263.7L597.9 263.2L599.2 258.8L600.4 263.9L601.7 262.7L602.9 261.9L604.2 263.8L605.4 257.2L606.6 265.5L607.9 263.9L609.1 261.1L610.4 259.9L611.6 258.5L612.9 259.9L614.1 256.1L615.4 240.5L616.6 262.3L617.9 235.3L619.1 263.5L620.4 262.1L621.6 260.4L622.9 252.7L624.1 248.1L625.4 253.2L626.6 255L627.9 262.4L629.1 264.3L630.4 248.3L631.6 235.3L632.9 254.7L634.1 258L635.4 260.7L636.6 263.3L637.9 263.7L639.1 260.2L640.4 235.3L641.6 263.8L642.9 262.1L644.1 262.4L645.4 258.7L646.6 264.5L647.9 263.1L649.1 231L650.4 265.2L651.6 255.9L652.9 260.1L654.1 255.2L655.4 263.2L656.6 257.7L657.9 264.5L659.1 257L660.4 256.2L661.6 255.6L662.9 263.3L664.1 237.8L665.4 262L666.6 263.8L667.9 262L669.1 254.4L670.4 262.4L671.6 247.9L672.9 259L674.1 251.3L675.4 261.6L676.6 262L677.9 263.7L679.1 252.9L680.4 264.7L681.6 262.4L682.9 253.6L684.1 264.2L685.4 262.1L686.6 254.3L687.9 257.7L689.1 263.6L690.4 265.3L691.6 256.2L692.9 243.9L694.1 257.3L695.4 262.8L696.6 258.3L697.9 254.7L699.1 235.3L700.4 263.2L701.6 263.5L702.9 259L704.1 263.5L705.4 262.9L706.6 262.7L707.9 262.9L709.1 256.7L710.3 253.5L711.6 254.7L712.8 262L714.1 265.9L715.3 263.2L716.6 258.5L717.8 235.3L719.1 255.7L720.3 265.2L721.6 263.2L722.8 259.1L724.1 249.8L725.3 256.6L726.6 257.2L727.8 262.7L729.1 225L730.3 262.9L731.6 261.3L732.8 262.4L734.1 265.2L735.3 235.8L736.6 264.5L737.8 255.7L739.1 261.6L740.3 262.4L741.6 252.4L742.8 252.9L744.1 251.7L745.3 265.1L746.6 265L747.8 250.9L749.1 262.2L750.3 245.4L751.6 262.6L752.8 228.7L754.1 265L755.3 262.5L756.6 255.2L757.8 262.2L759.1 259.9L760.3 258.9L761.6 259.8L762.8 264L764.1 235.3L765.3 263.6L766.6 262.2L767.8 262L769.1 260.7L770.3 240.3L771.6 232L772.8 262.7L774.1 256.2L775.3 239.3L776.6 235.3L777.8 244.1L779.1 252.2L780.3 264.1L781.6 245.4L782.8 261.2L784.1 247.3L785.3 265.3L786.6 262L787.8 251.1L789.1 264L790.3 258.3L791.6 258.3L792.8 264.8L794.1 261.4L795.3 256.5L796.6 248.9L797.8 264.9L799.1 244.5L800.3 264.2L801.6 265.1L802.8 259.7L804.1 264.6L805.3 260.8L806.6 256.8L807.8 263.1L809.1 264.8L810.3 251.1"/>
<path class="yl" d="M94.4 287.2L346.8 287.2L348 263L349.3 287.2L772.8 287.2L774.1 263L775.3 287.2L810.3 287.2"/>
<text x="27" y="92.5" textLength="29.81" lengthAdjust="spacingAndGlyphs">130</text><text x="61.8" y="92.5" textLength="25.27" lengthAdjust="spacingAndGlyphs">ms</text>
<text x="27.5" y="115.3" textLength="29.25" lengthAdjust="spacingAndGlyphs">125</text><text x="61.8" y="115.3" textLength="25.27" lengthAdjust="spacingAndGlyphs">ms</text>
<text x="27.1" y="138.1" textLength="29.67" lengthAdjust="spacingAndGlyphs">120</text><text x="61.8" y="138.1" textLength="25.27" lengthAdjust="spacingAndGlyphs">ms</text>
<text x="31.2" y="160.9" textLength="25.59" lengthAdjust="spacingAndGlyphs">115</text><text x="61.8" y="160.9" textLength="25.27" lengthAdjust="spacingAndGlyphs">ms</text>
<text x="30.8" y="183.7" textLength="26.02" lengthAdjust="spacingAndGlyphs">110</text><text x="61.8" y="183.7" textLength="25.27" lengthAdjust="spacingAndGlyphs">ms</text>
<text x="27.1" y="206.4" textLength="29.62" lengthAdjust="spacingAndGlyphs">105</text><text x="61.8" y="206.4" textLength="25.27" lengthAdjust="spacingAndGlyphs">ms</text>
<text x="26.7" y="229.2" textLength="30.05" lengthAdjust="spacingAndGlyphs">100</text><text x="61.8" y="229.2" textLength="25.27" lengthAdjust="spacingAndGlyphs">ms</text>
<text x="34.7" y="252" textLength="22.09" lengthAdjust="spacingAndGlyphs">95</text><text x="61.8" y="252" textLength="25.27" lengthAdjust="spacingAndGlyphs">ms</text>
<text x="34.3" y="274.8" textLength="22.52" lengthAdjust="spacingAndGlyphs">90</text><text x="61.8" y="274.8" textLength="25.27" lengthAdjust="spacingAndGlyphs">ms</text>
<text x="818" y="75.1" textLength="47.72" lengthAdjust="spacingAndGlyphs">100%</text>
<text x="818" y="118.8" textLength="40.17" lengthAdjust="spacingAndGlyphs">80%</text>
<text x="818" y="162.4" textLength="40.19" lengthAdjust="spacingAndGlyphs">60%</text>
<text x="818" y="206.1" textLength="40.66" lengthAdjust="spacingAndGlyphs">40%</text>
<text x="818" y="249.7" textLength="40.02" lengthAdjust="spacingAndGlyphs">20%</text>
<text x="818" y="293.4" textLength="29.03" lengthAdjust="spacingAndGlyphs">0%</text>
<text x="109.4" y="318.2" textLength="50.42" lengthAdjust="spacingAndGlyphs">06:00</text>
<text x="228.6" y="318.2" textLength="50.41" lengthAdjust="spacingAndGlyphs">08:00</text>
<text x="349.6" y="318.2" textLength="46.59" lengthAdjust="spacingAndGlyphs">10:00</text>
<text x="469" y="318.2" textLength="46.22" lengthAdjust="spacingAndGlyphs">12:00</text>
<text x="587.8" y="318.2" textLength="46.86" lengthAdjust="spacingAndGlyphs">14:00</text>
<text x="707.2" y="318.2" textLength="46.39" lengthAdjust="spacingAndGlyphs">16:00</text>
<text x="64.5" y="341.8" class="h" style="fill:#799ef8;stroke:#799ef8" textLength="51.07" lengthAdjust="spacingAndGlyphs">Name</text>
<text x="622.5" y="341.8" class="h" style="fill:#799ef8;stroke:#799ef8" textLength="32.23" lengthAdjust="spacingAndGlyphs">Min</text>
<text x="715.5" y="341.8" class="h" style="fill:#799ef8;stroke:#799ef8" textLength="48.89" lengthAdjust="spacingAndGlyphs">Mean</text>
<text x="822.3" y="341.8" class="h" style="fill:#799ef8;stroke:#799ef8" textLength="37.12" lengthAdjust="spacingAndGlyphs">Max</text>
<path class="r" d="M20 354H872M20 390H872"/><path class="r2" d="M20 426H872"/>
<rect x="32" y="369" width="21" height="6" rx="3" fill="#85bd72"/>
<rect x="32" y="405" width="21" height="6" rx="3" fill="#eccd47"/>
<text x="64.5" y="377.9" textLength="46.42" lengthAdjust="spacingAndGlyphs">ICMP</text><text x="116.4" y="377.9" textLength="80.51" lengthAdjust="spacingAndGlyphs">response</text><text x="202.5" y="377.9" textLength="37.19" lengthAdjust="spacingAndGlyphs">time</text>
<text x="64.5" y="413.9" textLength="46.42" lengthAdjust="spacingAndGlyphs">ICMP</text><text x="116.4" y="413.9" textLength="34.83" lengthAdjust="spacingAndGlyphs">loss</text>
<text x="156.8" y="413.9" style="fill:#8e8e9b;stroke:#8e8e9b" textLength="46.69" lengthAdjust="spacingAndGlyphs">(right</text><text x="209" y="413.9" style="fill:#8e8e9b;stroke:#8e8e9b" textLength="59.38" lengthAdjust="spacingAndGlyphs">y-axis)</text>
<text x="589.5" y="377.9" textLength="37.86" lengthAdjust="spacingAndGlyphs">90.7</text><text x="632.9" y="377.9" textLength="25.49" lengthAdjust="spacingAndGlyphs">ms</text>
<text x="694.7" y="377.9" textLength="38.64" lengthAdjust="spacingAndGlyphs">92.3</text><text x="738.9" y="377.9" textLength="25.49" lengthAdjust="spacingAndGlyphs">ms</text>
<text x="798.1" y="377.9" textLength="30.26" lengthAdjust="spacingAndGlyphs">130</text><text x="833.9" y="377.9" textLength="25.49" lengthAdjust="spacingAndGlyphs">ms</text>
<text x="629.1" y="413.9" textLength="29.26" lengthAdjust="spacingAndGlyphs">0%</text>
<text x="684.9" y="413.9" textLength="79.43" lengthAdjust="spacingAndGlyphs">0.0363%</text>
<text x="815.2" y="413.9" textLength="44.18" lengthAdjust="spacingAndGlyphs">11.1%</text>
<path class="rh" d="M869.5 436.5L884 422.3M876 436L884 428.8"/>
</g>
<g transform="translate(1782,0)">
<text x="20" y="28" class="t" textLength="118.70" lengthAdjust="spacingAndGlyphs">SPECTRUM</text><text x="144.7" y="28" class="t" textLength="9.70" lengthAdjust="spacingAndGlyphs">-</text><text x="160.5" y="28" class="t" textLength="51.12" lengthAdjust="spacingAndGlyphs">MCO</text><text x="217.7" y="28" class="t" textLength="132.78" lengthAdjust="spacingAndGlyphs">(97.103.192.1)</text>
<path class="g" d="M94.3 69.5H810.3M94.3 109.5H810.3M94.3 150.5H810.3M94.3 190.5H810.3M94.3 231.5H810.3M94.3 271.5H810.3M134.5 68.9V293.2M253.5 68.9V293.2M372.5 68.9V293.2M492.5 68.9V293.2M611.5 68.9V293.2M730.5 68.9V293.2"/>
<path d="M94.3 262.9L103 262.9L104.3 262.6L105.5 262.9L106.8 262.5L108 262.9L113 262.9L114.3 262.2L115.5 262.9L175.5 262.9L176.8 262.1L178 262.9L186.8 262.9L188 262.3L189.3 262.5L190.5 262.9L235.5 262.9L236.8 262.3L238 262.9L241.7 262.9L243 262.4L244.2 262.9L250.5 262.9L251.7 256.6L253 262.9L254.2 262.1L255.5 262.3L256.7 262.9L266.7 262.9L268 261.9L269.2 262.9L325.5 262.9L326.7 262.5L328 260L329.2 262.9L336.7 262.9L338 262L339.2 262.9L340.5 262.2L341.7 262.9L343 262.9L344.2 262L345.5 262.1L346.7 262.9L348 88.2L349.2 105L350.5 262.9L365.5 262.9L366.7 262.6L368 262.4L369.2 262.9L376.7 262.9L378 262.5L379.2 262.9L395.4 262.9L396.7 262.4L397.9 262.9L399.2 262L400.4 262.9L401.7 262.9L402.9 262L404.2 262.9L415.4 262.9L416.7 261.9L417.9 262.9L434.2 262.9L435.4 262.5L436.7 262.9L461.7 262.9L462.9 262.1L464.2 262.9L486.7 262.9L487.9 262L489.2 262.9L509.2 262.9L510.4 262.2L511.7 262.9L512.9 262.9L514.2 262.4L515.4 262.9L522.9 262.9L524.1 262.4L525.4 262.9L530.4 262.9L531.6 262L532.9 262.9L539.1 262.9L540.4 262.2L541.6 262.9L555.4 262.9L556.6 262.4L557.9 262.9L570.4 262.9L571.6 262.2L572.9 262.9L622.9 262.9L624.1 262.6L625.4 262.9L627.9 262.9L629.1 262.4L630.4 262.9L631.6 261.3L632.9 262.9L650.4 262.9L651.6 262.1L652.9 262.9L662.9 262.9L664.1 262.2L665.4 262.9L686.6 262.9L687.8 261L689.1 262.9L702.8 262.9L704.1 262.4L705.3 262.9L715.3 262.9L716.6 262.1L717.8 262.9L727.8 262.9L729.1 262.1L730.3 262.9L731.6 262.1L732.8 262.9L740.3 262.9L741.6 262.1L742.8 262.9L754.1 262.9L755.3 262L756.6 262.9L771.6 262.9L772.8 258.7L774.1 258.9L775.3 262.9L786.6 262.9L787.8 262.3L789.1 262.9L810.3 262.9L810.3 287.2L94.3 287.2Z" fill="url(#gf)" stroke="none"/>
<path class="gl" d="M94.3 262.9L103 262.9L104.3 262.6L105.5 262.9L106.8 262.5L108 262.9L113 262.9L114.3 262.2L115.5 262.9L175.5 262.9L176.8 262.1L178 262.9L186.8 262.9L188 262.3L189.3 262.5L190.5 262.9L235.5 262.9L236.8 262.3L238 262.9L241.7 262.9L243 262.4L244.2 262.9L250.5 262.9L251.7 256.6L253 262.9L254.2 262.1L255.5 262.3L256.7 262.9L266.7 262.9L268 261.9L269.2 262.9L325.5 262.9L326.7 262.5L328 260L329.2 262.9L336.7 262.9L338 262L339.2 262.9L340.5 262.2L341.7 262.9L343 262.9L344.2 262L345.5 262.1L346.7 262.9L348 88.2L349.2 105L350.5 262.9L365.5 262.9L366.7 262.6L368 262.4L369.2 262.9L376.7 262.9L378 262.5L379.2 262.9L395.4 262.9L396.7 262.4L397.9 262.9L399.2 262L400.4 262.9L401.7 262.9L402.9 262L404.2 262.9L415.4 262.9L416.7 261.9L417.9 262.9L434.2 262.9L435.4 262.5L436.7 262.9L461.7 262.9L462.9 262.1L464.2 262.9L486.7 262.9L487.9 262L489.2 262.9L509.2 262.9L510.4 262.2L511.7 262.9L512.9 262.9L514.2 262.4L515.4 262.9L522.9 262.9L524.1 262.4L525.4 262.9L530.4 262.9L531.6 262L532.9 262.9L539.1 262.9L540.4 262.2L541.6 262.9L555.4 262.9L556.6 262.4L557.9 262.9L570.4 262.9L571.6 262.2L572.9 262.9L622.9 262.9L624.1 262.6L625.4 262.9L627.9 262.9L629.1 262.4L630.4 262.9L631.6 261.3L632.9 262.9L650.4 262.9L651.6 262.1L652.9 262.9L662.9 262.9L664.1 262.2L665.4 262.9L686.6 262.9L687.8 261L689.1 262.9L702.8 262.9L704.1 262.4L705.3 262.9L715.3 262.9L716.6 262.1L717.8 262.9L727.8 262.9L729.1 262.1L730.3 262.9L731.6 262.1L732.8 262.9L740.3 262.9L741.6 262.1L742.8 262.9L754.1 262.9L755.3 262L756.6 262.9L771.6 262.9L772.8 258.7L774.1 258.9L775.3 262.9L786.6 262.9L787.8 262.3L789.1 262.9L810.3 262.9"/>
<path class="yl" d="M94.3 287.2L346.7 287.2L348 263.6L349.2 287.2L810.3 287.2"/>
<text x="27" y="74.8" textLength="29.62" lengthAdjust="spacingAndGlyphs">150</text><text x="61.7" y="74.8" textLength="25.27" lengthAdjust="spacingAndGlyphs">ms</text>
<text x="26.8" y="115.2" textLength="29.89" lengthAdjust="spacingAndGlyphs">145</text><text x="61.7" y="115.2" textLength="25.27" lengthAdjust="spacingAndGlyphs">ms</text>
<text x="26.4" y="155.6" textLength="30.31" lengthAdjust="spacingAndGlyphs">140</text><text x="61.7" y="155.6" textLength="25.27" lengthAdjust="spacingAndGlyphs">ms</text>
<text x="27.3" y="196.1" textLength="29.39" lengthAdjust="spacingAndGlyphs">135</text><text x="61.7" y="196.1" textLength="25.27" lengthAdjust="spacingAndGlyphs">ms</text>
<text x="26.9" y="236.5" textLength="29.81" lengthAdjust="spacingAndGlyphs">130</text><text x="61.7" y="236.5" textLength="25.27" lengthAdjust="spacingAndGlyphs">ms</text>
<text x="27.4" y="276.9" textLength="29.25" lengthAdjust="spacingAndGlyphs">125</text><text x="61.7" y="276.9" textLength="25.27" lengthAdjust="spacingAndGlyphs">ms</text>
<text x="818" y="75.1" textLength="47.72" lengthAdjust="spacingAndGlyphs">100%</text>
<text x="818" y="118.8" textLength="40.17" lengthAdjust="spacingAndGlyphs">80%</text>
<text x="818" y="162.4" textLength="40.19" lengthAdjust="spacingAndGlyphs">60%</text>
<text x="818" y="206.1" textLength="40.66" lengthAdjust="spacingAndGlyphs">40%</text>
<text x="818" y="249.7" textLength="40.02" lengthAdjust="spacingAndGlyphs">20%</text>
<text x="818" y="293.4" textLength="29.03" lengthAdjust="spacingAndGlyphs">0%</text>
<text x="109.3" y="318.2" textLength="50.42" lengthAdjust="spacingAndGlyphs">06:00</text>
<text x="228.5" y="318.2" textLength="50.41" lengthAdjust="spacingAndGlyphs">08:00</text>
<text x="349.6" y="318.2" textLength="46.59" lengthAdjust="spacingAndGlyphs">10:00</text>
<text x="468.9" y="318.2" textLength="46.22" lengthAdjust="spacingAndGlyphs">12:00</text>
<text x="587.8" y="318.2" textLength="46.86" lengthAdjust="spacingAndGlyphs">14:00</text>
<text x="707.2" y="318.2" textLength="46.39" lengthAdjust="spacingAndGlyphs">16:00</text>
<text x="64.5" y="341.8" class="h" style="fill:#799ef8;stroke:#799ef8" textLength="51.07" lengthAdjust="spacingAndGlyphs">Name</text>
<text x="626.1" y="341.8" class="h" style="fill:#799ef8;stroke:#799ef8" textLength="32.23" lengthAdjust="spacingAndGlyphs">Min</text>
<text x="715.5" y="341.8" class="h" style="fill:#799ef8;stroke:#799ef8" textLength="48.89" lengthAdjust="spacingAndGlyphs">Mean</text>
<text x="822.3" y="341.8" class="h" style="fill:#799ef8;stroke:#799ef8" textLength="37.12" lengthAdjust="spacingAndGlyphs">Max</text>
<path class="r" d="M20 354H872M20 390H872"/><path class="r2" d="M20 426H872"/>
<rect x="32" y="369" width="21" height="6" rx="3" fill="#85bd72"/>
<rect x="32" y="405" width="21" height="6" rx="3" fill="#eccd47"/>
<text x="64.5" y="377.9" textLength="46.42" lengthAdjust="spacingAndGlyphs">ICMP</text><text x="116.4" y="377.9" textLength="80.51" lengthAdjust="spacingAndGlyphs">response</text><text x="202.5" y="377.9" textLength="37.19" lengthAdjust="spacingAndGlyphs">time</text>
<text x="64.5" y="413.9" textLength="46.42" lengthAdjust="spacingAndGlyphs">ICMP</text><text x="116.4" y="413.9" textLength="34.83" lengthAdjust="spacingAndGlyphs">loss</text>
<text x="156.8" y="413.9" style="fill:#8e8e9b;stroke:#8e8e9b" textLength="46.69" lengthAdjust="spacingAndGlyphs">(right</text><text x="209" y="413.9" style="fill:#8e8e9b;stroke:#8e8e9b" textLength="59.38" lengthAdjust="spacingAndGlyphs">y-axis)</text>
<text x="597.5" y="377.9" textLength="29.92" lengthAdjust="spacingAndGlyphs">126</text><text x="632.9" y="377.9" textLength="25.49" lengthAdjust="spacingAndGlyphs">ms</text>
<text x="703.5" y="377.9" textLength="29.92" lengthAdjust="spacingAndGlyphs">126</text><text x="738.9" y="377.9" textLength="25.49" lengthAdjust="spacingAndGlyphs">ms</text>
<text x="797.8" y="377.9" textLength="30.54" lengthAdjust="spacingAndGlyphs">148</text><text x="833.9" y="377.9" textLength="25.49" lengthAdjust="spacingAndGlyphs">ms</text>
<text x="629.1" y="413.9" textLength="29.26" lengthAdjust="spacingAndGlyphs">0%</text>
<text x="688.9" y="413.9" textLength="75.46" lengthAdjust="spacingAndGlyphs">0.0231%</text>
<text x="815.2" y="413.9" textLength="44.18" lengthAdjust="spacingAndGlyphs">11.1%</text>
<path class="rh" d="M869.5 436.5L884 422.3M876 436L884 428.8"/>
</g>
<g transform="translate(2673,0)">
<text x="20" y="28" class="t" textLength="56.53" lengthAdjust="spacingAndGlyphs">RETN</text><text x="82.6" y="28" class="t" textLength="9.70" lengthAdjust="spacingAndGlyphs">-</text><text x="98.3" y="28" class="t" textLength="34.50" lengthAdjust="spacingAndGlyphs">RIX</text><text x="138.9" y="28" class="t" textLength="150.32" lengthAdjust="spacingAndGlyphs">(139.45.205.9)</text>
<path class="g" d="M99.3 79.5H810.3M99.3 105.5H810.3M99.3 131.5H810.3M99.3 157.5H810.3M99.3 183.5H810.3M99.3 209.5H810.3M99.3 235.5H810.3M99.3 261.5H810.3M139.5 68.9V293.2M257.5 68.9V293.2M375.5 68.9V293.2M494.5 68.9V293.2M612.5 68.9V293.2M730.5 68.9V293.2"/>
<path d="M99.3 178.9L106.7 178.9L108 177.8L109.2 178.9L117.9 178.9L119.2 177L120.4 178.9L121.6 178.3L122.9 178.9L184.9 178.9L186.2 113.4L187.4 178.9L194.8 178.9L196.1 145.1L197.3 178.9L198.6 178L199.8 178.9L253.2 178.9L254.4 178.5L255.6 178.6L256.9 178.9L258.1 177.7L259.4 178.9L266.8 178.9L268.1 177.7L269.3 178.9L290.4 178.9L291.6 89.5L292.9 178.9L323.9 178.9L325.1 178.4L326.4 178.9L387.2 178.9L388.4 105.5L389.7 178.9L393.4 178.9L394.6 178L395.9 178.9L409.5 178.9L410.8 177.9L412 178.9L417 178.9L418.2 178L419.4 178.9L424.4 178.9L425.6 177.8L426.9 178.9L487.7 178.9L488.9 177.8L490.2 178.9L491.4 178.9L492.6 178.1L493.9 178.9L526.1 178.9L527.4 175.2L528.6 178.9L541 178.9L542.3 178.2L543.5 178.9L554.7 178.9L555.9 142L557.2 178.9L572.1 178.9L573.3 171.4L574.5 178.9L595.6 178.9L596.9 178.5L598.1 178.9L605.6 178.9L606.8 175.5L608 178.9L667.6 178.9L668.8 178.1L670.1 178.9L702.3 178.9L703.6 178.1L704.8 178.9L734.6 178.9L735.8 178.1L737.1 178.9L747 178.9L748.3 178.2L749.5 178.9L750.7 178.9L752 178L753.2 178.9L765.6 178.9L766.9 177.7L768.1 178.9L769.4 177.9L770.6 178.2L771.8 178.9L794.2 178.9L795.4 140.7L796.7 106.5L797.9 178.9L810.3 178.9L810.3 287.2L99.3 287.2Z" fill="url(#gf)" stroke="none"/>
<path class="gl" d="M99.3 178.9L106.7 178.9L108 177.8L109.2 178.9L117.9 178.9L119.2 177L120.4 178.9L121.6 178.3L122.9 178.9L184.9 178.9L186.2 113.4L187.4 178.9L194.8 178.9L196.1 145.1L197.3 178.9L198.6 178L199.8 178.9L253.2 178.9L254.4 178.5L255.6 178.6L256.9 178.9L258.1 177.7L259.4 178.9L266.8 178.9L268.1 177.7L269.3 178.9L290.4 178.9L291.6 89.5L292.9 178.9L323.9 178.9L325.1 178.4L326.4 178.9L387.2 178.9L388.4 105.5L389.7 178.9L393.4 178.9L394.6 178L395.9 178.9L409.5 178.9L410.8 177.9L412 178.9L417 178.9L418.2 178L419.4 178.9L424.4 178.9L425.6 177.8L426.9 178.9L487.7 178.9L488.9 177.8L490.2 178.9L491.4 178.9L492.6 178.1L493.9 178.9L526.1 178.9L527.4 175.2L528.6 178.9L541 178.9L542.3 178.2L543.5 178.9L554.7 178.9L555.9 142L557.2 178.9L572.1 178.9L573.3 171.4L574.5 178.9L595.6 178.9L596.9 178.5L598.1 178.9L605.6 178.9L606.8 175.5L608 178.9L667.6 178.9L668.8 178.1L670.1 178.9L702.3 178.9L703.6 178.1L704.8 178.9L734.6 178.9L735.8 178.1L737.1 178.9L747 178.9L748.3 178.2L749.5 178.9L750.7 178.9L752 178L753.2 178.9L765.6 178.9L766.9 177.7L768.1 178.9L769.4 177.9L770.6 178.2L771.8 178.9L794.2 178.9L795.4 140.7L796.7 106.5L797.9 178.9L810.3 178.9"/>
<path class="yl" d="M99.3 287.2L117.9 287.2L119.2 250.5L120.4 287.2L184.9 287.2L186.2 250.5L187.4 287.2L194.8 287.2L196.1 250.5L197.3 287.2L237 287.2L238.3 250.5L239.5 287.2L290.4 287.2L291.6 250.5L292.9 287.2L387.2 287.2L388.4 250.5L389.7 287.2L503.8 287.2L505.1 250.5L506.3 287.2L554.7 287.2L555.9 250.5L557.2 287.2L689.9 287.2L691.2 250.5L692.4 287.2L738.3 287.2L739.6 250.5L740.8 250.5L742.1 287.2L743.3 287.2L744.5 250.5L745.8 250.5L747 68.7L748.3 287.2L749.5 287.2L750.7 250.5L764.4 250.5L765.6 287.2L766.9 287.2L768.1 250.5L773.1 250.5L774.3 214L775.6 250.5L776.8 287.2L778 250.5L779.3 250.5L780.5 287.2L783 287.2L784.2 250.5L785.5 287.2L790.4 287.2L791.7 250.5L792.9 250.5L794.2 287.2L795.4 177.4L796.7 287.2L797.9 250.5L804.1 250.5L805.3 287.2L810.3 287.2"/>
<g fill="#eccd47"><rect x="744.4" y="250.5" width="2.5" height="36.7"/><rect x="751.2" y="250.5" width="4" height="36.7"/><rect x="755.9" y="250.5" width="1.3" height="36.7"/><rect x="757.9" y="250.5" width="6.9" height="36.7"/><rect x="767.6" y="250.5" width="8.6" height="36.7"/><rect x="778" y="250.5" width="2" height="36.7"/><rect x="792" y="250.5" width="2.2" height="36.7"/><rect x="797.6" y="250.5" width="6" height="36.7"/><rect x="769.4" y="214" width="1.6" height="40"/><rect x="774.2" y="214" width="1.6" height="40"/></g>
<text x="27.3" y="85.1" textLength="34.34" lengthAdjust="spacingAndGlyphs">400</text><text x="66.7" y="85.1" textLength="25.27" lengthAdjust="spacingAndGlyphs">ms</text>
<text x="28.2" y="111" textLength="33.42" lengthAdjust="spacingAndGlyphs">350</text><text x="66.7" y="111" textLength="25.27" lengthAdjust="spacingAndGlyphs">ms</text>
<text x="27.8" y="136.9" textLength="33.84" lengthAdjust="spacingAndGlyphs">300</text><text x="66.7" y="136.9" textLength="25.27" lengthAdjust="spacingAndGlyphs">ms</text>
<text x="28.4" y="162.8" textLength="33.28" lengthAdjust="spacingAndGlyphs">250</text><text x="66.7" y="162.8" textLength="25.27" lengthAdjust="spacingAndGlyphs">ms</text>
<text x="28" y="188.8" textLength="33.70" lengthAdjust="spacingAndGlyphs">200</text><text x="66.7" y="188.8" textLength="25.27" lengthAdjust="spacingAndGlyphs">ms</text>
<text x="32" y="214.7" textLength="29.62" lengthAdjust="spacingAndGlyphs">150</text><text x="66.7" y="214.7" textLength="25.27" lengthAdjust="spacingAndGlyphs">ms</text>
<text x="31.6" y="240.6" textLength="30.05" lengthAdjust="spacingAndGlyphs">100</text><text x="66.7" y="240.6" textLength="25.27" lengthAdjust="spacingAndGlyphs">ms</text>
<text x="39.4" y="266.5" textLength="22.30" lengthAdjust="spacingAndGlyphs">50</text><text x="66.7" y="266.5" textLength="25.27" lengthAdjust="spacingAndGlyphs">ms</text>
<text x="66.1" y="292.4" textLength="11.36" lengthAdjust="spacingAndGlyphs">0</text><text x="82.5" y="292.4" textLength="9.50" lengthAdjust="spacingAndGlyphs">s</text>
<text x="818" y="75.1" textLength="47.72" lengthAdjust="spacingAndGlyphs">100%</text>
<text x="818" y="118.8" textLength="40.17" lengthAdjust="spacingAndGlyphs">80%</text>
<text x="818" y="162.4" textLength="40.19" lengthAdjust="spacingAndGlyphs">60%</text>
<text x="818" y="206.1" textLength="40.66" lengthAdjust="spacingAndGlyphs">40%</text>
<text x="818" y="249.7" textLength="40.02" lengthAdjust="spacingAndGlyphs">20%</text>
<text x="818" y="293.4" textLength="29.03" lengthAdjust="spacingAndGlyphs">0%</text>
<text x="114" y="318.2" textLength="50.42" lengthAdjust="spacingAndGlyphs">06:00</text>
<text x="232.4" y="318.2" textLength="50.41" lengthAdjust="spacingAndGlyphs">08:00</text>
<text x="352.6" y="318.2" textLength="46.59" lengthAdjust="spacingAndGlyphs">10:00</text>
<text x="471.2" y="318.2" textLength="46.22" lengthAdjust="spacingAndGlyphs">12:00</text>
<text x="589.2" y="318.2" textLength="46.86" lengthAdjust="spacingAndGlyphs">14:00</text>
<text x="707.8" y="318.2" textLength="46.39" lengthAdjust="spacingAndGlyphs">16:00</text>
<text x="64.5" y="341.8" class="h" style="fill:#799ef8;stroke:#799ef8" textLength="51.07" lengthAdjust="spacingAndGlyphs">Name</text>
<text x="626.1" y="341.8" class="h" style="fill:#799ef8;stroke:#799ef8" textLength="32.23" lengthAdjust="spacingAndGlyphs">Min</text>
<text x="715.5" y="341.8" class="h" style="fill:#799ef8;stroke:#799ef8" textLength="48.89" lengthAdjust="spacingAndGlyphs">Mean</text>
<text x="822.3" y="341.8" class="h" style="fill:#799ef8;stroke:#799ef8" textLength="37.12" lengthAdjust="spacingAndGlyphs">Max</text>
<path class="r" d="M20 354H872M20 390H872"/><path class="r2" d="M20 426H872"/>
<rect x="32" y="369" width="21" height="6" rx="3" fill="#85bd72"/>
<rect x="32" y="405" width="21" height="6" rx="3" fill="#eccd47"/>
<text x="64.5" y="377.9" textLength="46.42" lengthAdjust="spacingAndGlyphs">ICMP</text><text x="116.4" y="377.9" textLength="80.51" lengthAdjust="spacingAndGlyphs">response</text><text x="202.5" y="377.9" textLength="37.19" lengthAdjust="spacingAndGlyphs">time</text>
<text x="64.5" y="413.9" textLength="46.42" lengthAdjust="spacingAndGlyphs">ICMP</text><text x="116.4" y="413.9" textLength="34.83" lengthAdjust="spacingAndGlyphs">loss</text>
<text x="156.8" y="413.9" style="fill:#8e8e9b;stroke:#8e8e9b" textLength="46.69" lengthAdjust="spacingAndGlyphs">(right</text><text x="209" y="413.9" style="fill:#8e8e9b;stroke:#8e8e9b" textLength="59.38" lengthAdjust="spacingAndGlyphs">y-axis)</text>
<text x="632" y="377.9" textLength="11.36" lengthAdjust="spacingAndGlyphs">0</text><text x="648.9" y="377.9" textLength="9.50" lengthAdjust="spacingAndGlyphs">s</text>
<text x="703.2" y="377.9" textLength="30.12" lengthAdjust="spacingAndGlyphs">210</text><text x="738.9" y="377.9" textLength="25.49" lengthAdjust="spacingAndGlyphs">ms</text>
<text x="794.3" y="377.9" textLength="34.08" lengthAdjust="spacingAndGlyphs">380</text><text x="833.9" y="377.9" textLength="25.49" lengthAdjust="spacingAndGlyphs">ms</text>
<text x="629.1" y="413.9" textLength="29.26" lengthAdjust="spacingAndGlyphs">0%</text>
<text x="695.1" y="413.9" textLength="69.30" lengthAdjust="spacingAndGlyphs">0.494%</text>
<text x="811" y="413.9" textLength="48.39" lengthAdjust="spacingAndGlyphs">100%</text>
<path class="rh" d="M869.5 436.5L884 422.3M876 436L884 428.8"/>
</g>
<g transform="translate(0,456)">
<text x="20" y="28" class="t" textLength="42.92" lengthAdjust="spacingAndGlyphs">GTT</text><text x="69" y="28" class="t" textLength="9.70" lengthAdjust="spacingAndGlyphs">-</text><text x="84.7" y="28" class="t" textLength="40.23" lengthAdjust="spacingAndGlyphs">MIA</text><text x="131" y="28" class="t" textLength="178.88" lengthAdjust="spacingAndGlyphs">(208.116.240.149)</text>
<path class="g" d="M87.3 101.5H810.3M87.3 143.5H810.3M87.3 185.5H810.3M87.3 228.5H810.3M87.3 270.5H810.3M127.5 68.9V293.2M248.5 68.9V293.2M368.5 68.9V293.2M488.5 68.9V293.2M609.5 68.9V293.2M729.5 68.9V293.2"/>
<path d="M87.3 99.3L88.6 235.6L89.8 112.1L91.1 233.3L92.3 248.9L93.6 242.3L94.9 253.6L96.1 231.9L97.4 259L98.7 244.7L99.9 257.5L101.2 198.5L102.4 248.2L103.7 238.1L105 179.8L106.2 195.2L107.5 225.2L108.8 228.8L110 191L111.3 243.2L112.5 225.5L113.8 228.7L115.1 218.1L116.3 158.7L117.6 234.9L118.8 239.5L120.1 215.2L121.4 161.5L122.6 235.7L123.9 228.6L125.2 255.2L126.4 244.5L127.7 228.9L128.9 238.4L130.2 181.2L131.5 202.2L132.7 224.8L134 168.2L135.2 227.8L136.5 144.4L137.8 122.5L139 238.2L140.3 186.8L141.6 231.8L142.8 112.8L144.1 212L145.3 193.5L146.6 191.9L147.9 245L149.1 232.2L150.4 171.1L151.7 240.1L152.9 242.3L154.2 191.3L155.4 238.7L156.7 239.6L158 191.1L159.2 219.1L160.5 259.8L161.7 199.2L163 247.7L164.3 106.4L165.5 223.7L166.8 239.8L168.1 253.2L169.3 257.2L170.6 225.9L171.8 236.8L173.1 256.5L174.4 236.6L175.6 262.6L176.9 237.7L178.1 245.9L179.4 136.9L180.7 120.2L181.9 195.3L183.2 129.2L184.5 149.7L185.7 258.4L187 186.5L188.2 248.6L189.5 255.1L190.8 251.6L192 210.2L193.3 120.4L194.6 226.5L195.8 243.6L197.1 93L198.3 217.6L199.6 212.1L200.9 240.3L202.1 204.6L203.4 205.4L204.6 244.9L205.9 206.8L207.2 221.7L208.4 166.1L209.7 87.5L211 230L212.2 232.5L213.5 206.4L214.7 237.9L216 216L217.3 170.8L218.5 250.5L219.8 184.9L221 184.7L222.3 199.8L223.6 242.7L224.8 183.4L226.1 217.5L227.4 251L228.6 255.5L229.9 236.1L231.1 238.6L232.4 243L233.7 251.9L234.9 232.7L236.2 158.7L237.5 236.6L238.7 231.5L240 189.6L241.2 203.9L242.5 229.7L243.8 188.9L245 225.9L246.3 229.5L247.5 257.3L248.8 254.8L250.1 236.8L251.3 224.1L252.6 235.1L253.9 242.7L255.1 233.4L256.4 244.6L257.6 209L258.9 196L260.2 185.3L261.4 230.7L262.7 157.5L263.9 187.5L265.2 234.4L266.5 241.1L267.7 203.2L269 227.6L270.3 214.1L271.5 255.1L272.8 241.8L274 199.3L275.3 238.2L276.6 223.6L277.8 261.6L279.1 257.4L280.4 168.4L281.6 175L282.9 254.8L284.1 250.4L285.4 185.5L286.7 231L287.9 212.1L289.2 240.2L290.4 198.1L291.7 205.1L293 157L294.2 259.3L295.5 256L296.8 202.5L298 173.9L299.3 190.6L300.5 232.5L301.8 248.3L303.1 241.5L304.3 231.4L305.6 213.4L306.8 246.4L308.1 244.3L309.4 243.1L310.6 240.8L311.9 119.7L313.2 226.8L314.4 223.5L315.7 163.7L316.9 252.8L318.2 233L319.5 226.5L320.7 231.3L322 166.5L323.3 249.4L324.5 184.6L325.8 243.6L327 206.3L328.3 229.3L329.6 242L330.8 208.8L332.1 237.2L333.3 230.7L334.6 116L335.9 241.3L337.1 211L338.4 136.9L339.7 254.2L340.9 251.6L342.2 134.8L343.4 223L344.7 161.9L346 127.9L347.2 217.4L348.5 210.8L349.8 232.6L351 138.6L352.3 158.1L353.5 215.5L354.8 126.2L356.1 241.9L357.3 248.7L358.6 199.1L359.8 203.8L361.1 239.4L362.4 242L363.6 254.2L364.9 241.5L366.2 252.9L367.4 194.3L368.7 247.1L369.9 219.6L371.2 253.7L372.5 112.4L373.7 256.8L375 231.7L376.2 244.4L377.5 225.9L378.8 184.4L380 157.1L381.3 200.5L382.6 251.7L383.8 244.2L385.1 233L386.3 103.7L387.6 249.4L388.9 235.9L390.1 228.8L391.4 161.2L392.7 194.9L393.9 195.9L395.2 246.9L396.4 230.1L397.7 217.9L399 196.9L400.2 132.3L401.5 234.3L402.7 233.3L404 253.8L405.3 254.2L406.5 234.5L407.8 191.7L409.1 251L410.3 211L411.6 183.3L412.8 253.4L414.1 159.9L415.4 201.7L416.6 253.6L417.9 230.9L419.1 217.7L420.4 204.4L421.7 207.2L422.9 224.1L424.2 249.3L425.5 236L426.7 221.3L428 261.7L429.2 164.6L430.5 233L431.8 194.4L433 200.3L434.3 192.1L435.6 188.8L436.8 227.1L438.1 219.2L439.3 163.2L440.6 222L441.9 171.6L443.1 207.6L444.4 243.8L445.6 184L446.9 237.4L448.2 251.1L449.4 204.2L450.7 197.8L452 228.1L453.2 242.3L454.5 226.3L455.7 167.5L457 135.6L458.3 136.2L459.5 154.8L460.8 236.9L462 258L463.3 220.9L464.6 133L465.8 252.3L467.1 260.8L468.4 211.4L469.6 224.8L470.9 258L472.1 165.7L473.4 243.8L474.7 222.8L475.9 247.1L477.2 117L478.5 228L479.7 246.3L481 212.3L482.2 262.7L483.5 214.7L484.8 230.2L486 201.6L487.3 177.5L488.5 212.5L489.8 246L491.1 259.6L492.3 239.2L493.6 239.3L494.9 225.5L496.1 241.1L497.4 249.2L498.6 239.3L499.9 228.6L501.2 261.8L502.4 250.9L503.7 226.7L504.9 228.3L506.2 257.9L507.5 219.5L508.7 217.2L510 212.4L511.3 220.3L512.5 174.2L513.8 146.3L515 239.9L516.3 179.4L517.6 167.2L518.8 248.4L520.1 217.7L521.4 192.6L522.6 250.4L523.9 203.8L525.1 219.3L526.4 211.7L527.7 206.1L528.9 218.9L530.2 221.8L531.4 176.5L532.7 212.9L534 259.5L535.2 237.9L536.5 233.3L537.8 222.7L539 176.7L540.3 151.2L541.5 211.7L542.8 203.2L544.1 173.4L545.3 236.3L546.6 236.5L547.8 224.5L549.1 208.5L550.4 254.5L551.6 122.4L552.9 152.4L554.2 178.8L555.4 207.8L556.7 247.5L557.9 243.6L559.2 248.1L560.5 243.5L561.7 207.1L563 203.7L564.3 182L565.5 182.8L566.8 175.5L568 263.6L569.3 230.4L570.6 249.3L571.8 208.5L573.1 242.6L574.3 223.8L575.6 199.6L576.9 226.2L578.1 211L579.4 238.5L580.7 158.1L581.9 209.6L583.2 192.6L584.4 222.1L585.7 217.4L587 225.2L588.2 218.8L589.5 247.5L590.8 251.7L592 238L593.3 246.4L594.5 224L595.8 208.3L597.1 244.2L598.3 242.4L599.6 258.3L600.8 217.6L602.1 241L603.4 169.3L604.6 241.9L605.9 246.1L607.2 224.7L608.4 218.1L609.7 241.9L610.9 200.1L612.2 117.4L613.5 212.3L614.7 244.5L616 203.6L617.2 216.3L618.5 249.2L619.8 221.9L621 248.7L622.3 234.3L623.6 218.7L624.8 111L626.1 104.2L627.3 240.3L628.6 242.7L629.9 150.4L631.1 242.3L632.4 228L633.7 178.9L634.9 243.9L636.2 117.9L637.4 191.1L638.7 192.1L640 246.3L641.2 203.9L642.5 110.1L643.7 215.5L645 229.8L646.3 234.9L647.5 121.7L648.8 245.1L650.1 208.1L651.3 251.3L652.6 158.3L653.8 255.8L655.1 191.3L656.4 248L657.6 119.5L658.9 200.8L660.1 109.2L661.4 251.3L662.7 224.8L663.9 128.3L665.2 227.7L666.5 251.8L667.7 173L669 255.2L670.2 199.5L671.5 172.1L672.8 231.1L674 226.7L675.3 247.2L676.6 226.7L677.8 132.1L679.1 224.4L680.3 233.2L681.6 186.9L682.9 247.7L684.1 218.6L685.4 162.7L686.6 182.3L687.9 243L689.2 198.5L690.4 180.1L691.7 209.9L693 233.8L694.2 206.8L695.5 214.2L696.7 237.2L698 250.2L699.3 250.7L700.5 229.8L701.8 242.4L703 200.7L704.3 249.9L705.6 221.9L706.8 194.1L708.1 170L709.4 219.1L710.6 226.8L711.9 250.5L713.1 257.2L714.4 231.3L715.7 245.2L716.9 235.4L718.2 201.9L719.5 216.3L720.7 255.8L722 219.2L723.2 172.2L724.5 249.2L725.8 171.8L727 215.8L728.3 232.2L729.5 260.4L730.8 210.4L732.1 170.6L733.3 201L734.6 240.2L735.9 210.5L737.1 228.2L738.4 232.4L739.6 192.2L740.9 214.2L742.2 226.4L743.4 217.4L744.7 159.7L745.9 212.3L747.2 167.8L748.5 218.3L749.7 149.4L751 222L752.3 197.3L753.5 214.2L754.8 251.7L756 234.8L757.3 192.1L758.6 227.1L759.8 213.3L761.1 221.3L762.4 194.8L763.6 226L764.9 156.7L766.1 186.1L767.4 261.8L768.7 221.4L769.9 252.6L771.2 199.3L772.4 190.2L773.7 262.9L775 183.1L776.2 173.3L777.5 211.2L778.8 184L780 254.2L781.3 246.3L782.5 241.8L783.8 155L785.1 215.7L786.3 249.8L787.6 227.1L788.8 206.3L790.1 147.8L791.4 254.7L792.6 230.7L793.9 223.4L795.2 261.8L796.4 220.3L797.7 207.3L798.9 221.4L800.2 233.8L801.5 87.3L802.7 222.6L804 243.6L805.3 219.1L806.5 240.1L807.8 203.9L809 227.2L810.3 236.8L810.3 287.2L87.3 287.2Z" fill="url(#gf)" stroke="none"/>
<path class="gl" d="M87.3 99.3L88.6 235.6L89.8 112.1L91.1 233.3L92.3 248.9L93.6 242.3L94.9 253.6L96.1 231.9L97.4 259L98.7 244.7L99.9 257.5L101.2 198.5L102.4 248.2L103.7 238.1L105 179.8L106.2 195.2L107.5 225.2L108.8 228.8L110 191L111.3 243.2L112.5 225.5L113.8 228.7L115.1 218.1L116.3 158.7L117.6 234.9L118.8 239.5L120.1 215.2L121.4 161.5L122.6 235.7L123.9 228.6L125.2 255.2L126.4 244.5L127.7 228.9L128.9 238.4L130.2 181.2L131.5 202.2L132.7 224.8L134 168.2L135.2 227.8L136.5 144.4L137.8 122.5L139 238.2L140.3 186.8L141.6 231.8L142.8 112.8L144.1 212L145.3 193.5L146.6 191.9L147.9 245L149.1 232.2L150.4 171.1L151.7 240.1L152.9 242.3L154.2 191.3L155.4 238.7L156.7 239.6L158 191.1L159.2 219.1L160.5 259.8L161.7 199.2L163 247.7L164.3 106.4L165.5 223.7L166.8 239.8L168.1 253.2L169.3 257.2L170.6 225.9L171.8 236.8L173.1 256.5L174.4 236.6L175.6 262.6L176.9 237.7L178.1 245.9L179.4 136.9L180.7 120.2L181.9 195.3L183.2 129.2L184.5 149.7L185.7 258.4L187 186.5L188.2 248.6L189.5 255.1L190.8 251.6L192 210.2L193.3 120.4L194.6 226.5L195.8 243.6L197.1 93L198.3 217.6L199.6 212.1L200.9 240.3L202.1 204.6L203.4 205.4L204.6 244.9L205.9 206.8L207.2 221.7L208.4 166.1L209.7 87.5L211 230L212.2 232.5L213.5 206.4L214.7 237.9L216 216L217.3 170.8L218.5 250.5L219.8 184.9L221 184.7L222.3 199.8L223.6 242.7L224.8 183.4L226.1 217.5L227.4 251L228.6 255.5L229.9 236.1L231.1 238.6L232.4 243L233.7 251.9L234.9 232.7L236.2 158.7L237.5 236.6L238.7 231.5L240 189.6L241.2 203.9L242.5 229.7L243.8 188.9L245 225.9L246.3 229.5L247.5 257.3L248.8 254.8L250.1 236.8L251.3 224.1L252.6 235.1L253.9 242.7L255.1 233.4L256.4 244.6L257.6 209L258.9 196L260.2 185.3L261.4 230.7L262.7 157.5L263.9 187.5L265.2 234.4L266.5 241.1L267.7 203.2L269 227.6L270.3 214.1L271.5 255.1L272.8 241.8L274 199.3L275.3 238.2L276.6 223.6L277.8 261.6L279.1 257.4L280.4 168.4L281.6 175L282.9 254.8L284.1 250.4L285.4 185.5L286.7 231L287.9 212.1L289.2 240.2L290.4 198.1L291.7 205.1L293 157L294.2 259.3L295.5 256L296.8 202.5L298 173.9L299.3 190.6L300.5 232.5L301.8 248.3L303.1 241.5L304.3 231.4L305.6 213.4L306.8 246.4L308.1 244.3L309.4 243.1L310.6 240.8L311.9 119.7L313.2 226.8L314.4 223.5L315.7 163.7L316.9 252.8L318.2 233L319.5 226.5L320.7 231.3L322 166.5L323.3 249.4L324.5 184.6L325.8 243.6L327 206.3L328.3 229.3L329.6 242L330.8 208.8L332.1 237.2L333.3 230.7L334.6 116L335.9 241.3L337.1 211L338.4 136.9L339.7 254.2L340.9 251.6L342.2 134.8L343.4 223L344.7 161.9L346 127.9L347.2 217.4L348.5 210.8L349.8 232.6L351 138.6L352.3 158.1L353.5 215.5L354.8 126.2L356.1 241.9L357.3 248.7L358.6 199.1L359.8 203.8L361.1 239.4L362.4 242L363.6 254.2L364.9 241.5L366.2 252.9L367.4 194.3L368.7 247.1L369.9 219.6L371.2 253.7L372.5 112.4L373.7 256.8L375 231.7L376.2 244.4L377.5 225.9L378.8 184.4L380 157.1L381.3 200.5L382.6 251.7L383.8 244.2L385.1 233L386.3 103.7L387.6 249.4L388.9 235.9L390.1 228.8L391.4 161.2L392.7 194.9L393.9 195.9L395.2 246.9L396.4 230.1L397.7 217.9L399 196.9L400.2 132.3L401.5 234.3L402.7 233.3L404 253.8L405.3 254.2L406.5 234.5L407.8 191.7L409.1 251L410.3 211L411.6 183.3L412.8 253.4L414.1 159.9L415.4 201.7L416.6 253.6L417.9 230.9L419.1 217.7L420.4 204.4L421.7 207.2L422.9 224.1L424.2 249.3L425.5 236L426.7 221.3L428 261.7L429.2 164.6L430.5 233L431.8 194.4L433 200.3L434.3 192.1L435.6 188.8L436.8 227.1L438.1 219.2L439.3 163.2L440.6 222L441.9 171.6L443.1 207.6L444.4 243.8L445.6 184L446.9 237.4L448.2 251.1L449.4 204.2L450.7 197.8L452 228.1L453.2 242.3L454.5 226.3L455.7 167.5L457 135.6L458.3 136.2L459.5 154.8L460.8 236.9L462 258L463.3 220.9L464.6 133L465.8 252.3L467.1 260.8L468.4 211.4L469.6 224.8L470.9 258L472.1 165.7L473.4 243.8L474.7 222.8L475.9 247.1L477.2 117L478.5 228L479.7 246.3L481 212.3L482.2 262.7L483.5 214.7L484.8 230.2L486 201.6L487.3 177.5L488.5 212.5L489.8 246L491.1 259.6L492.3 239.2L493.6 239.3L494.9 225.5L496.1 241.1L497.4 249.2L498.6 239.3L499.9 228.6L501.2 261.8L502.4 250.9L503.7 226.7L504.9 228.3L506.2 257.9L507.5 219.5L508.7 217.2L510 212.4L511.3 220.3L512.5 174.2L513.8 146.3L515 239.9L516.3 179.4L517.6 167.2L518.8 248.4L520.1 217.7L521.4 192.6L522.6 250.4L523.9 203.8L525.1 219.3L526.4 211.7L527.7 206.1L528.9 218.9L530.2 221.8L531.4 176.5L532.7 212.9L534 259.5L535.2 237.9L536.5 233.3L537.8 222.7L539 176.7L540.3 151.2L541.5 211.7L542.8 203.2L544.1 173.4L545.3 236.3L546.6 236.5L547.8 224.5L549.1 208.5L550.4 254.5L551.6 122.4L552.9 152.4L554.2 178.8L555.4 207.8L556.7 247.5L557.9 243.6L559.2 248.1L560.5 243.5L561.7 207.1L563 203.7L564.3 182L565.5 182.8L566.8 175.5L568 263.6L569.3 230.4L570.6 249.3L571.8 208.5L573.1 242.6L574.3 223.8L575.6 199.6L576.9 226.2L578.1 211L579.4 238.5L580.7 158.1L581.9 209.6L583.2 192.6L584.4 222.1L585.7 217.4L587 225.2L588.2 218.8L589.5 247.5L590.8 251.7L592 238L593.3 246.4L594.5 224L595.8 208.3L597.1 244.2L598.3 242.4L599.6 258.3L600.8 217.6L602.1 241L603.4 169.3L604.6 241.9L605.9 246.1L607.2 224.7L608.4 218.1L609.7 241.9L610.9 200.1L612.2 117.4L613.5 212.3L614.7 244.5L616 203.6L617.2 216.3L618.5 249.2L619.8 221.9L621 248.7L622.3 234.3L623.6 218.7L624.8 111L626.1 104.2L627.3 240.3L628.6 242.7L629.9 150.4L631.1 242.3L632.4 228L633.7 178.9L634.9 243.9L636.2 117.9L637.4 191.1L638.7 192.1L640 246.3L641.2 203.9L642.5 110.1L643.7 215.5L645 229.8L646.3 234.9L647.5 121.7L648.8 245.1L650.1 208.1L651.3 251.3L652.6 158.3L653.8 255.8L655.1 191.3L656.4 248L657.6 119.5L658.9 200.8L660.1 109.2L661.4 251.3L662.7 224.8L663.9 128.3L665.2 227.7L666.5 251.8L667.7 173L669 255.2L670.2 199.5L671.5 172.1L672.8 231.1L674 226.7L675.3 247.2L676.6 226.7L677.8 132.1L679.1 224.4L680.3 233.2L681.6 186.9L682.9 247.7L684.1 218.6L685.4 162.7L686.6 182.3L687.9 243L689.2 198.5L690.4 180.1L691.7 209.9L693 233.8L694.2 206.8L695.5 214.2L696.7 237.2L698 250.2L699.3 250.7L700.5 229.8L701.8 242.4L703 200.7L704.3 249.9L705.6 221.9L706.8 194.1L708.1 170L709.4 219.1L710.6 226.8L711.9 250.5L713.1 257.2L714.4 231.3L715.7 245.2L716.9 235.4L718.2 201.9L719.5 216.3L720.7 255.8L722 219.2L723.2 172.2L724.5 249.2L725.8 171.8L727 215.8L728.3 232.2L729.5 260.4L730.8 210.4L732.1 170.6L733.3 201L734.6 240.2L735.9 210.5L737.1 228.2L738.4 232.4L739.6 192.2L740.9 214.2L742.2 226.4L743.4 217.4L744.7 159.7L745.9 212.3L747.2 167.8L748.5 218.3L749.7 149.4L751 222L752.3 197.3L753.5 214.2L754.8 251.7L756 234.8L757.3 192.1L758.6 227.1L759.8 213.3L761.1 221.3L762.4 194.8L763.6 226L764.9 156.7L766.1 186.1L767.4 261.8L768.7 221.4L769.9 252.6L771.2 199.3L772.4 190.2L773.7 262.9L775 183.1L776.2 173.3L777.5 211.2L778.8 184L780 254.2L781.3 246.3L782.5 241.8L783.8 155L785.1 215.7L786.3 249.8L787.6 227.1L788.8 206.3L790.1 147.8L791.4 254.7L792.6 230.7L793.9 223.4L795.2 261.8L796.4 220.3L797.7 207.3L798.9 221.4L800.2 233.8L801.5 87.3L802.7 222.6L804 243.6L805.3 219.1L806.5 240.1L807.8 203.9L809 227.2L810.3 236.8"/>
<path class="yl" d="M87.3 287.2L772.4 287.2L773.7 266.4L775 287.2L810.3 287.2"/>
<text x="27.4" y="106.7" textLength="22.30" lengthAdjust="spacingAndGlyphs">98</text><text x="54.7" y="106.7" textLength="25.27" lengthAdjust="spacingAndGlyphs">ms</text>
<text x="27.4" y="149" textLength="22.31" lengthAdjust="spacingAndGlyphs">96</text><text x="54.7" y="149" textLength="25.27" lengthAdjust="spacingAndGlyphs">ms</text>
<text x="26.9" y="191.2" textLength="22.78" lengthAdjust="spacingAndGlyphs">94</text><text x="54.7" y="191.2" textLength="25.27" lengthAdjust="spacingAndGlyphs">ms</text>
<text x="27.5" y="233.4" textLength="22.14" lengthAdjust="spacingAndGlyphs">92</text><text x="54.7" y="233.4" textLength="25.27" lengthAdjust="spacingAndGlyphs">ms</text>
<text x="27.2" y="275.7" textLength="22.52" lengthAdjust="spacingAndGlyphs">90</text><text x="54.7" y="275.7" textLength="25.27" lengthAdjust="spacingAndGlyphs">ms</text>
<text x="818" y="75.1" textLength="47.72" lengthAdjust="spacingAndGlyphs">100%</text>
<text x="818" y="118.8" textLength="40.17" lengthAdjust="spacingAndGlyphs">80%</text>
<text x="818" y="162.4" textLength="40.19" lengthAdjust="spacingAndGlyphs">60%</text>
<text x="818" y="206.1" textLength="40.66" lengthAdjust="spacingAndGlyphs">40%</text>
<text x="818" y="249.7" textLength="40.02" lengthAdjust="spacingAndGlyphs">20%</text>
<text x="818" y="293.4" textLength="29.03" lengthAdjust="spacingAndGlyphs">0%</text>
<text x="102.7" y="318.2" textLength="50.42" lengthAdjust="spacingAndGlyphs">06:00</text>
<text x="223" y="318.2" textLength="50.41" lengthAdjust="spacingAndGlyphs">08:00</text>
<text x="345.3" y="318.2" textLength="46.59" lengthAdjust="spacingAndGlyphs">10:00</text>
<text x="465.8" y="318.2" textLength="46.22" lengthAdjust="spacingAndGlyphs">12:00</text>
<text x="585.8" y="318.2" textLength="46.86" lengthAdjust="spacingAndGlyphs">14:00</text>
<text x="706.4" y="318.2" textLength="46.39" lengthAdjust="spacingAndGlyphs">16:00</text>
<text x="64.5" y="341.8" class="h" style="fill:#799ef8;stroke:#799ef8" textLength="51.07" lengthAdjust="spacingAndGlyphs">Name</text>
<text x="626.1" y="341.8" class="h" style="fill:#799ef8;stroke:#799ef8" textLength="32.23" lengthAdjust="spacingAndGlyphs">Min</text>
<text x="715.5" y="341.8" class="h" style="fill:#799ef8;stroke:#799ef8" textLength="48.89" lengthAdjust="spacingAndGlyphs">Mean</text>
<text x="822.3" y="341.8" class="h" style="fill:#799ef8;stroke:#799ef8" textLength="37.12" lengthAdjust="spacingAndGlyphs">Max</text>
<path class="r" d="M20 354H872M20 390H872"/><path class="r2" d="M20 426H872"/>
<rect x="32" y="369" width="21" height="6" rx="3" fill="#85bd72"/>
<rect x="32" y="405" width="21" height="6" rx="3" fill="#eccd47"/>
<text x="64.5" y="377.9" textLength="46.42" lengthAdjust="spacingAndGlyphs">ICMP</text><text x="116.4" y="377.9" textLength="80.51" lengthAdjust="spacingAndGlyphs">response</text><text x="202.5" y="377.9" textLength="37.19" lengthAdjust="spacingAndGlyphs">time</text>
<text x="64.5" y="413.9" textLength="46.42" lengthAdjust="spacingAndGlyphs">ICMP</text><text x="116.4" y="413.9" textLength="34.83" lengthAdjust="spacingAndGlyphs">loss</text>
<text x="156.8" y="413.9" style="fill:#8e8e9b;stroke:#8e8e9b" textLength="46.69" lengthAdjust="spacingAndGlyphs">(right</text><text x="209" y="413.9" style="fill:#8e8e9b;stroke:#8e8e9b" textLength="59.38" lengthAdjust="spacingAndGlyphs">y-axis)</text>
<text x="593.7" y="377.9" textLength="33.69" lengthAdjust="spacingAndGlyphs">90.1</text><text x="632.9" y="377.9" textLength="25.49" lengthAdjust="spacingAndGlyphs">ms</text>
<text x="695.4" y="377.9" textLength="37.94" lengthAdjust="spacingAndGlyphs">92.7</text><text x="738.9" y="377.9" textLength="25.49" lengthAdjust="spacingAndGlyphs">ms</text>
<text x="789.9" y="377.9" textLength="38.46" lengthAdjust="spacingAndGlyphs">98.6</text><text x="833.9" y="377.9" textLength="25.49" lengthAdjust="spacingAndGlyphs">ms</text>
<text x="629.1" y="413.9" textLength="29.26" lengthAdjust="spacingAndGlyphs">0%</text>
<text x="685.4" y="413.9" textLength="78.93" lengthAdjust="spacingAndGlyphs">0.0225%</text>
<text x="803.2" y="413.9" textLength="56.13" lengthAdjust="spacingAndGlyphs">9.52%</text>
<path class="rh" d="M869.5 436.5L884 422.3M876 436L884 428.8"/>
</g>
<g transform="translate(891,456)">
<text x="20" y="28" class="t" textLength="92.96" lengthAdjust="spacingAndGlyphs">VERIZON</text><text x="119" y="28" class="t" textLength="9.70" lengthAdjust="spacingAndGlyphs">-</text><text x="134.8" y="28" class="t" textLength="40.23" lengthAdjust="spacingAndGlyphs">MIA</text><text x="181" y="28" class="t" textLength="168.06" lengthAdjust="spacingAndGlyphs">(65.195.233.153)</text>
<path class="g" d="M103.4 69.5H810.3M103.4 100.5H810.3M103.4 131.5H810.3M103.4 162.5H810.3M103.4 193.5H810.3M103.4 225.5H810.3M103.4 256.5H810.3M143.5 68.9V293.2M260.5 68.9V293.2M378.5 68.9V293.2M496.5 68.9V293.2M613.5 68.9V293.2M731.5 68.9V293.2"/>
<path d="M103.4 249.8L104.6 252.6L105.9 251.9L107.1 243L108.3 256.4L109.6 253.7L110.8 253.4L112 253.5L113.3 251L114.5 250.9L115.7 254.6L117 252.6L118.2 249.9L119.4 253.8L120.7 246.1L121.9 251L123.1 181.2L124.4 254.2L125.6 248.6L126.8 252.2L128.1 257L129.3 252.5L130.5 252.3L131.8 252.8L133 253L134.2 251.6L135.5 253.6L136.7 250.8L137.9 254.6L139.2 255.8L140.4 251L141.6 250.9L142.9 251.3L144.1 252.7L145.3 251.2L146.6 251.3L147.8 251.5L149 253.4L150.3 255.8L151.5 252.3L152.7 252.4L154 251.2L155.2 254.6L156.4 249.7L157.7 252.3L158.9 252.3L160.1 253L161.4 255.7L162.6 254.9L163.9 252.6L165.1 252.6L166.3 255.6L167.6 253.7L168.8 252.1L170 255.3L171.3 252.5L172.5 256.2L173.7 251.7L175 251.8L176.2 253.3L177.4 251.9L178.7 250.3L179.9 252.2L181.1 253.8L182.4 253.2L183.6 250.4L184.8 254.9L186.1 252.2L187.3 252.2L188.5 251.6L189.8 256.1L191 252L192.2 251.4L193.5 256.2L194.7 250.7L195.9 254.8L197.2 256.3L198.4 253.1L199.6 256.3L200.9 251.5L202.1 252.8L203.3 254.6L204.6 247.9L205.8 256.5L207 254.2L208.3 243.7L209.5 253.3L210.7 247.7L212 253.6L213.2 238.7L214.4 256.6L215.7 251.1L216.9 251.1L218.1 247.6L219.4 254.9L220.6 255.4L221.8 252L223.1 253.9L224.3 253.9L225.5 254.4L226.8 235.9L228 254.7L229.2 256.5L230.5 250.2L231.7 252.8L232.9 251L234.2 256.2L235.4 247.2L236.6 253.6L237.9 257.1L239.1 253.9L240.3 248.3L241.6 249.7L242.8 236.9L244 241.6L245.3 254.3L246.5 257.1L247.7 244L249 255.3L250.2 235.9L251.4 251.7L252.7 250.4L253.9 254.3L255.1 253.3L256.4 250.8L257.6 250.1L258.8 253L260.1 251.9L261.3 256.6L262.5 250.4L263.8 253.4L265 254.1L266.2 248.8L267.5 255.6L268.7 251.2L269.9 253.5L271.2 255.8L272.4 254.1L273.6 247.3L274.9 252.1L276.1 254.4L277.3 253.5L278.6 245.9L279.8 254.3L281.1 255.1L282.3 251.3L283.5 231L284.8 246.5L286 237.6L287.2 253L288.5 257.2L289.7 237.3L290.9 229L292.2 249.6L293.4 250.9L294.6 251.9L295.9 252.6L297.1 235.9L298.3 255.5L299.6 254.4L300.8 255.7L302 256.5L303.3 249.2L304.5 255.8L305.7 251.4L307 257.1L308.2 246L309.4 251.9L310.7 245.8L311.9 241.9L313.1 254L314.4 256.5L315.6 252L316.8 253.1L318.1 255.7L319.3 251.4L320.5 245.4L321.8 241.8L323 254.2L324.2 246.1L325.5 251.7L326.7 251.7L327.9 254.1L329.2 256L330.4 247.4L331.6 255.7L332.9 257.2L334.1 250.7L335.3 254.8L336.6 256.6L337.8 249.4L339 230L340.3 244.1L341.5 245.8L342.7 255.3L344 226L345.2 257.3L346.4 247.4L347.7 251.6L348.9 251.8L350.1 246.5L351.4 252.5L352.6 252.3L353.8 253.3L355.1 253.2L356.3 240.8L357.5 255.6L358.8 252.1L360 248.6L361.2 256.8L362.5 247.8L363.7 248.7L364.9 250.9L366.2 252L367.4 255.1L368.6 251.3L369.9 254.4L371.1 253.6L372.3 240.8L373.6 243.7L374.8 251.7L376 250.2L377.3 256.7L378.5 252.4L379.7 255.7L381 254.5L382.2 251.2L383.4 251.7L384.7 252L385.9 246.7L387.1 255.8L388.4 234L389.6 240.4L390.8 250.1L392.1 245.7L393.3 254.7L394.5 251L395.8 248.8L397 252.9L398.3 255.5L399.5 249.8L400.7 248.8L402 250.8L403.2 253.1L404.4 251.2L405.7 254.3L406.9 252.1L408.1 247.7L409.4 253L410.6 256.4L411.8 257.2L413.1 254.6L414.3 254.5L415.5 254.4L416.8 246.1L418 236.3L419.2 246.3L420.5 255.2L421.7 247.4L422.9 252.3L424.2 251.1L425.4 244.9L426.6 246.5L427.9 255L429.1 253.4L430.3 249.4L431.6 253.3L432.8 256.6L434 256.8L435.3 248.2L436.5 232L437.7 255.4L439 251.8L440.2 252L441.4 252.4L442.7 245.5L443.9 249.1L445.1 253.6L446.4 255.8L447.6 253.7L448.8 239.8L450.1 253.2L451.3 255.6L452.5 251L453.8 250.4L455 254.6L456.2 257L457.5 254.7L458.7 250.2L459.9 252.8L461.2 255.6L462.4 231L463.6 251.9L464.9 256.4L466.1 251.2L467.3 250L468.6 246.6L469.8 246.7L471 236.6L472.3 254.7L473.5 252.6L474.7 254.1L476 256.9L477.2 252.5L478.4 239.2L479.7 255.9L480.9 252L482.1 252.4L483.4 252.1L484.6 254.3L485.8 253.6L487.1 237L488.3 251.9L489.5 252.2L490.8 254.3L492 253.7L493.2 250.9L494.5 255L495.7 253.5L496.9 248L498.2 252L499.4 250.5L500.6 253.8L501.9 252.7L503.1 254.9L504.3 251.1L505.6 246.5L506.8 251.5L508 256.1L509.3 249L510.5 254.1L511.7 248L513 256.3L514.2 255.5L515.4 251L516.7 249.2L517.9 251.7L519.2 249.7L520.4 248.7L521.6 252.8L522.9 256L524.1 256.5L525.3 236.3L526.6 253.5L527.8 252.3L529 252.4L530.3 253.2L531.5 252.5L532.7 249.9L534 254.7L535.2 252.2L536.4 251.7L537.7 235.9L538.9 256.8L540.1 243L541.4 245.1L542.6 251.5L543.8 256.8L545.1 251.5L546.3 253.4L547.5 254.7L548.8 253.1L550 241L551.2 253.4L552.5 252.3L553.7 255L554.9 256.7L556.2 257.3L557.4 239.8L558.6 250.6L559.9 246.1L561.1 251.9L562.3 251.4L563.6 256.9L564.8 247.6L566 249.5L567.3 243.9L568.5 253.2L569.7 248.8L571 245.6L572.2 251.2L573.4 256L574.7 253.7L575.9 257L577.1 247L578.4 254.9L579.6 251.4L580.8 246.9L582.1 255.5L583.3 233L584.5 248.5L585.8 254.5L587 252.6L588.2 252.3L589.5 253.7L590.7 255.6L591.9 256.1L593.2 249.4L594.4 254.3L595.6 242.3L596.9 256.6L598.1 253.1L599.3 246.7L600.6 253.9L601.8 237L603 256.9L604.3 255.5L605.5 253.4L606.7 248L608 254.4L609.2 243.7L610.4 253L611.7 245.5L612.9 239.9L614.1 253.7L615.4 251.5L616.6 253L617.8 254.5L619.1 246.4L620.3 253.8L621.5 253.6L622.8 254.9L624 254L625.2 256.3L626.5 257.2L627.7 257L628.9 240.1L630.2 253.7L631.4 256.4L632.6 255L633.9 250.5L635.1 250.3L636.4 254L637.6 232L638.8 244.9L640.1 249.9L641.3 252.1L642.5 241.6L643.8 252.4L645 252.8L646.2 238.3L647.5 257.3L648.7 253.1L649.9 248.2L651.2 244.1L652.4 232L653.6 251L654.9 255.9L656.1 251.2L657.3 254L658.6 246.5L659.8 252.4L661 252.8L662.3 254.2L663.5 255.1L664.7 252.6L666 256.6L667.2 252.9L668.4 254.6L669.7 254L670.9 247.3L672.1 251.4L673.4 253.8L674.6 250.4L675.8 256.6L677.1 245.6L678.3 252.9L679.5 250.1L680.8 253.9L682 253.4L683.2 250.2L684.5 255.2L685.7 242.9L686.9 249.4L688.2 255.7L689.4 250.5L690.6 249.2L691.9 254.5L693.1 253.1L694.3 252.1L695.6 252.8L696.8 253.9L698 257.2L699.3 235.9L700.5 254L701.7 251.1L703 251.9L704.2 251.2L705.4 248.8L706.7 256.5L707.9 255.2L709.1 253.4L710.4 244.2L711.6 251.7L712.8 248.3L714.1 254L715.3 237.9L716.5 254.8L717.8 255L719 253.1L720.2 251.5L721.5 253.7L722.7 254.5L723.9 254.7L725.2 253.9L726.4 252.3L727.6 247.6L728.9 247.2L730.1 252.7L731.3 256.6L732.6 239.3L733.8 246.2L735 255.6L736.3 253.8L737.5 255L738.7 247.9L740 252.2L741.2 254L742.4 253.6L743.7 252.9L744.9 236L746.1 251L747.4 253.3L748.6 252.9L749.8 253.5L751.1 253.9L752.3 257L753.6 253.9L754.8 253.6L756 253.7L757.3 253L758.5 236.4L759.7 249.5L761 251.9L762.2 254.8L763.4 244.8L764.7 254.5L765.9 254.9L767.1 252.1L768.4 251.2L769.6 249.8L770.8 245.6L772.1 244.9L773.3 256.4L774.5 98.7L775.8 253.3L777 255.7L778.2 252.4L779.5 247.7L780.7 254.4L781.9 253.6L783.2 247.9L784.4 256.6L785.6 254L786.9 249.7L788.1 252.1L789.3 256.4L790.6 253.7L791.8 247L793 248.9L794.3 251.9L795.5 251.4L796.7 253.5L798 256.8L799.2 249.8L800.4 253.2L801.7 249.8L802.9 249.9L804.1 252.7L805.4 255L806.6 236L807.8 256.2L809.1 255.2L810.3 249.1L810.3 287.2L103.4 287.2Z" fill="url(#gf)" stroke="none"/>
<path class="gl" d="M103.4 249.8L104.6 252.6L105.9 251.9L107.1 243L108.3 256.4L109.6 253.7L110.8 253.4L112 253.5L113.3 251L114.5 250.9L115.7 254.6L117 252.6L118.2 249.9L119.4 253.8L120.7 246.1L121.9 251L123.1 181.2L124.4 254.2L125.6 248.6L126.8 252.2L128.1 257L129.3 252.5L130.5 252.3L131.8 252.8L133 253L134.2 251.6L135.5 253.6L136.7 250.8L137.9 254.6L139.2 255.8L140.4 251L141.6 250.9L142.9 251.3L144.1 252.7L145.3 251.2L146.6 251.3L147.8 251.5L149 253.4L150.3 255.8L151.5 252.3L152.7 252.4L154 251.2L155.2 254.6L156.4 249.7L157.7 252.3L158.9 252.3L160.1 253L161.4 255.7L162.6 254.9L163.9 252.6L165.1 252.6L166.3 255.6L167.6 253.7L168.8 252.1L170 255.3L171.3 252.5L172.5 256.2L173.7 251.7L175 251.8L176.2 253.3L177.4 251.9L178.7 250.3L179.9 252.2L181.1 253.8L182.4 253.2L183.6 250.4L184.8 254.9L186.1 252.2L187.3 252.2L188.5 251.6L189.8 256.1L191 252L192.2 251.4L193.5 256.2L194.7 250.7L195.9 254.8L197.2 256.3L198.4 253.1L199.6 256.3L200.9 251.5L202.1 252.8L203.3 254.6L204.6 247.9L205.8 256.5L207 254.2L208.3 243.7L209.5 253.3L210.7 247.7L212 253.6L213.2 238.7L214.4 256.6L215.7 251.1L216.9 251.1L218.1 247.6L219.4 254.9L220.6 255.4L221.8 252L223.1 253.9L224.3 253.9L225.5 254.4L226.8 235.9L228 254.7L229.2 256.5L230.5 250.2L231.7 252.8L232.9 251L234.2 256.2L235.4 247.2L236.6 253.6L237.9 257.1L239.1 253.9L240.3 248.3L241.6 249.7L242.8 236.9L244 241.6L245.3 254.3L246.5 257.1L247.7 244L249 255.3L250.2 235.9L251.4 251.7L252.7 250.4L253.9 254.3L255.1 253.3L256.4 250.8L257.6 250.1L258.8 253L260.1 251.9L261.3 256.6L262.5 250.4L263.8 253.4L265 254.1L266.2 248.8L267.5 255.6L268.7 251.2L269.9 253.5L271.2 255.8L272.4 254.1L273.6 247.3L274.9 252.1L276.1 254.4L277.3 253.5L278.6 245.9L279.8 254.3L281.1 255.1L282.3 251.3L283.5 231L284.8 246.5L286 237.6L287.2 253L288.5 257.2L289.7 237.3L290.9 229L292.2 249.6L293.4 250.9L294.6 251.9L295.9 252.6L297.1 235.9L298.3 255.5L299.6 254.4L300.8 255.7L302 256.5L303.3 249.2L304.5 255.8L305.7 251.4L307 257.1L308.2 246L309.4 251.9L310.7 245.8L311.9 241.9L313.1 254L314.4 256.5L315.6 252L316.8 253.1L318.1 255.7L319.3 251.4L320.5 245.4L321.8 241.8L323 254.2L324.2 246.1L325.5 251.7L326.7 251.7L327.9 254.1L329.2 256L330.4 247.4L331.6 255.7L332.9 257.2L334.1 250.7L335.3 254.8L336.6 256.6L337.8 249.4L339 230L340.3 244.1L341.5 245.8L342.7 255.3L344 226L345.2 257.3L346.4 247.4L347.7 251.6L348.9 251.8L350.1 246.5L351.4 252.5L352.6 252.3L353.8 253.3L355.1 253.2L356.3 240.8L357.5 255.6L358.8 252.1L360 248.6L361.2 256.8L362.5 247.8L363.7 248.7L364.9 250.9L366.2 252L367.4 255.1L368.6 251.3L369.9 254.4L371.1 253.6L372.3 240.8L373.6 243.7L374.8 251.7L376 250.2L377.3 256.7L378.5 252.4L379.7 255.7L381 254.5L382.2 251.2L383.4 251.7L384.7 252L385.9 246.7L387.1 255.8L388.4 234L389.6 240.4L390.8 250.1L392.1 245.7L393.3 254.7L394.5 251L395.8 248.8L397 252.9L398.3 255.5L399.5 249.8L400.7 248.8L402 250.8L403.2 253.1L404.4 251.2L405.7 254.3L406.9 252.1L408.1 247.7L409.4 253L410.6 256.4L411.8 257.2L413.1 254.6L414.3 254.5L415.5 254.4L416.8 246.1L418 236.3L419.2 246.3L420.5 255.2L421.7 247.4L422.9 252.3L424.2 251.1L425.4 244.9L426.6 246.5L427.9 255L429.1 253.4L430.3 249.4L431.6 253.3L432.8 256.6L434 256.8L435.3 248.2L436.5 232L437.7 255.4L439 251.8L440.2 252L441.4 252.4L442.7 245.5L443.9 249.1L445.1 253.6L446.4 255.8L447.6 253.7L448.8 239.8L450.1 253.2L451.3 255.6L452.5 251L453.8 250.4L455 254.6L456.2 257L457.5 254.7L458.7 250.2L459.9 252.8L461.2 255.6L462.4 231L463.6 251.9L464.9 256.4L466.1 251.2L467.3 250L468.6 246.6L469.8 246.7L471 236.6L472.3 254.7L473.5 252.6L474.7 254.1L476 256.9L477.2 252.5L478.4 239.2L479.7 255.9L480.9 252L482.1 252.4L483.4 252.1L484.6 254.3L485.8 253.6L487.1 237L488.3 251.9L489.5 252.2L490.8 254.3L492 253.7L493.2 250.9L494.5 255L495.7 253.5L496.9 248L498.2 252L499.4 250.5L500.6 253.8L501.9 252.7L503.1 254.9L504.3 251.1L505.6 246.5L506.8 251.5L508 256.1L509.3 249L510.5 254.1L511.7 248L513 256.3L514.2 255.5L515.4 251L516.7 249.2L517.9 251.7L519.2 249.7L520.4 248.7L521.6 252.8L522.9 256L524.1 256.5L525.3 236.3L526.6 253.5L527.8 252.3L529 252.4L530.3 253.2L531.5 252.5L532.7 249.9L534 254.7L535.2 252.2L536.4 251.7L537.7 235.9L538.9 256.8L540.1 243L541.4 245.1L542.6 251.5L543.8 256.8L545.1 251.5L546.3 253.4L547.5 254.7L548.8 253.1L550 241L551.2 253.4L552.5 252.3L553.7 255L554.9 256.7L556.2 257.3L557.4 239.8L558.6 250.6L559.9 246.1L561.1 251.9L562.3 251.4L563.6 256.9L564.8 247.6L566 249.5L567.3 243.9L568.5 253.2L569.7 248.8L571 245.6L572.2 251.2L573.4 256L574.7 253.7L575.9 257L577.1 247L578.4 254.9L579.6 251.4L580.8 246.9L582.1 255.5L583.3 233L584.5 248.5L585.8 254.5L587 252.6L588.2 252.3L589.5 253.7L590.7 255.6L591.9 256.1L593.2 249.4L594.4 254.3L595.6 242.3L596.9 256.6L598.1 253.1L599.3 246.7L600.6 253.9L601.8 237L603 256.9L604.3 255.5L605.5 253.4L606.7 248L608 254.4L609.2 243.7L610.4 253L611.7 245.5L612.9 239.9L614.1 253.7L615.4 251.5L616.6 253L617.8 254.5L619.1 246.4L620.3 253.8L621.5 253.6L622.8 254.9L624 254L625.2 256.3L626.5 257.2L627.7 257L628.9 240.1L630.2 253.7L631.4 256.4L632.6 255L633.9 250.5L635.1 250.3L636.4 254L637.6 232L638.8 244.9L640.1 249.9L641.3 252.1L642.5 241.6L643.8 252.4L645 252.8L646.2 238.3L647.5 257.3L648.7 253.1L649.9 248.2L651.2 244.1L652.4 232L653.6 251L654.9 255.9L656.1 251.2L657.3 254L658.6 246.5L659.8 252.4L661 252.8L662.3 254.2L663.5 255.1L664.7 252.6L666 256.6L667.2 252.9L668.4 254.6L669.7 254L670.9 247.3L672.1 251.4L673.4 253.8L674.6 250.4L675.8 256.6L677.1 245.6L678.3 252.9L679.5 250.1L680.8 253.9L682 253.4L683.2 250.2L684.5 255.2L685.7 242.9L686.9 249.4L688.2 255.7L689.4 250.5L690.6 249.2L691.9 254.5L693.1 253.1L694.3 252.1L695.6 252.8L696.8 253.9L698 257.2L699.3 235.9L700.5 254L701.7 251.1L703 251.9L704.2 251.2L705.4 248.8L706.7 256.5L707.9 255.2L709.1 253.4L710.4 244.2L711.6 251.7L712.8 248.3L714.1 254L715.3 237.9L716.5 254.8L717.8 255L719 253.1L720.2 251.5L721.5 253.7L722.7 254.5L723.9 254.7L725.2 253.9L726.4 252.3L727.6 247.6L728.9 247.2L730.1 252.7L731.3 256.6L732.6 239.3L733.8 246.2L735 255.6L736.3 253.8L737.5 255L738.7 247.9L740 252.2L741.2 254L742.4 253.6L743.7 252.9L744.9 236L746.1 251L747.4 253.3L748.6 252.9L749.8 253.5L751.1 253.9L752.3 257L753.6 253.9L754.8 253.6L756 253.7L757.3 253L758.5 236.4L759.7 249.5L761 251.9L762.2 254.8L763.4 244.8L764.7 254.5L765.9 254.9L767.1 252.1L768.4 251.2L769.6 249.8L770.8 245.6L772.1 244.9L773.3 256.4L774.5 98.7L775.8 253.3L777 255.7L778.2 252.4L779.5 247.7L780.7 254.4L781.9 253.6L783.2 247.9L784.4 256.6L785.6 254L786.9 249.7L788.1 252.1L789.3 256.4L790.6 253.7L791.8 247L793 248.9L794.3 251.9L795.5 251.4L796.7 253.5L798 256.8L799.2 249.8L800.4 253.2L801.7 249.8L802.9 249.9L804.1 252.7L805.4 255L806.6 236L807.8 256.2L809.1 255.2L810.3 249.1"/>
<path class="yl" d="M103.4 287.2L772.1 287.2L773.3 263L774.5 287.2L810.3 287.2"/>
<text x="27.8" y="74.9" textLength="37.95" lengthAdjust="spacingAndGlyphs">90.6</text><text x="70.8" y="74.9" textLength="25.27" lengthAdjust="spacingAndGlyphs">ms</text>
<text x="26.9" y="106" textLength="38.88" lengthAdjust="spacingAndGlyphs">90.4</text><text x="70.8" y="106" textLength="25.27" lengthAdjust="spacingAndGlyphs">ms</text>
<text x="27.5" y="137.1" textLength="38.23" lengthAdjust="spacingAndGlyphs">90.2</text><text x="70.8" y="137.1" textLength="25.27" lengthAdjust="spacingAndGlyphs">ms</text>
<text x="43.3" y="168.2" textLength="22.52" lengthAdjust="spacingAndGlyphs">90</text><text x="70.8" y="168.2" textLength="25.27" lengthAdjust="spacingAndGlyphs">ms</text>
<text x="28" y="199.2" textLength="37.77" lengthAdjust="spacingAndGlyphs">89.8</text><text x="70.8" y="199.2" textLength="25.27" lengthAdjust="spacingAndGlyphs">ms</text>
<text x="28" y="230.3" textLength="37.73" lengthAdjust="spacingAndGlyphs">89.6</text><text x="70.8" y="230.3" textLength="25.27" lengthAdjust="spacingAndGlyphs">ms</text>
<text x="27.1" y="261.4" textLength="38.66" lengthAdjust="spacingAndGlyphs">89.4</text><text x="70.8" y="261.4" textLength="25.27" lengthAdjust="spacingAndGlyphs">ms</text>
<text x="27.8" y="292.5" textLength="38.02" lengthAdjust="spacingAndGlyphs">89.2</text><text x="70.8" y="292.5" textLength="25.27" lengthAdjust="spacingAndGlyphs">ms</text>
<text x="818" y="75.1" textLength="47.72" lengthAdjust="spacingAndGlyphs">100%</text>
<text x="818" y="118.8" textLength="40.17" lengthAdjust="spacingAndGlyphs">80%</text>
<text x="818" y="162.4" textLength="40.19" lengthAdjust="spacingAndGlyphs">60%</text>
<text x="818" y="206.1" textLength="40.66" lengthAdjust="spacingAndGlyphs">40%</text>
<text x="818" y="249.7" textLength="40.02" lengthAdjust="spacingAndGlyphs">20%</text>
<text x="818" y="293.4" textLength="29.03" lengthAdjust="spacingAndGlyphs">0%</text>
<text x="117.9" y="318.2" textLength="50.42" lengthAdjust="spacingAndGlyphs">06:00</text>
<text x="235.5" y="318.2" textLength="50.41" lengthAdjust="spacingAndGlyphs">08:00</text>
<text x="355.1" y="318.2" textLength="46.59" lengthAdjust="spacingAndGlyphs">10:00</text>
<text x="473" y="318.2" textLength="46.22" lengthAdjust="spacingAndGlyphs">12:00</text>
<text x="590.3" y="318.2" textLength="46.86" lengthAdjust="spacingAndGlyphs">14:00</text>
<text x="708.2" y="318.2" textLength="46.39" lengthAdjust="spacingAndGlyphs">16:00</text>
<text x="64.5" y="341.8" class="h" style="fill:#799ef8;stroke:#799ef8" textLength="51.07" lengthAdjust="spacingAndGlyphs">Name</text>
<text x="621" y="341.8" class="h" style="fill:#799ef8;stroke:#799ef8" textLength="32.23" lengthAdjust="spacingAndGlyphs">Min</text>
<text x="715.5" y="341.8" class="h" style="fill:#799ef8;stroke:#799ef8" textLength="48.89" lengthAdjust="spacingAndGlyphs">Mean</text>
<text x="822.3" y="341.8" class="h" style="fill:#799ef8;stroke:#799ef8" textLength="37.12" lengthAdjust="spacingAndGlyphs">Max</text>
<path class="r" d="M20 354H872M20 390H872"/><path class="r2" d="M20 426H872"/>
<rect x="32" y="369" width="21" height="6" rx="3" fill="#85bd72"/>
<rect x="32" y="405" width="21" height="6" rx="3" fill="#eccd47"/>
<text x="64.5" y="377.9" textLength="46.42" lengthAdjust="spacingAndGlyphs">ICMP</text><text x="116.4" y="377.9" textLength="80.51" lengthAdjust="spacingAndGlyphs">response</text><text x="202.5" y="377.9" textLength="37.19" lengthAdjust="spacingAndGlyphs">time</text>
<text x="64.5" y="413.9" textLength="46.42" lengthAdjust="spacingAndGlyphs">ICMP</text><text x="116.4" y="413.9" textLength="34.83" lengthAdjust="spacingAndGlyphs">loss</text>
<text x="156.8" y="413.9" style="fill:#8e8e9b;stroke:#8e8e9b" textLength="46.69" lengthAdjust="spacingAndGlyphs">(right</text><text x="209" y="413.9" style="fill:#8e8e9b;stroke:#8e8e9b" textLength="59.38" lengthAdjust="spacingAndGlyphs">y-axis)</text>
<text x="588" y="377.9" textLength="39.33" lengthAdjust="spacingAndGlyphs">89.4</text><text x="632.9" y="377.9" textLength="25.49" lengthAdjust="spacingAndGlyphs">ms</text>
<text x="694" y="377.9" textLength="39.33" lengthAdjust="spacingAndGlyphs">89.4</text><text x="738.9" y="377.9" textLength="25.49" lengthAdjust="spacingAndGlyphs">ms</text>
<text x="788.8" y="377.9" textLength="39.55" lengthAdjust="spacingAndGlyphs">90.4</text><text x="833.9" y="377.9" textLength="25.49" lengthAdjust="spacingAndGlyphs">ms</text>
<text x="629.1" y="413.9" textLength="29.26" lengthAdjust="spacingAndGlyphs">0%</text>
<text x="688.5" y="413.9" textLength="75.91" lengthAdjust="spacingAndGlyphs">0.0154%</text>
<text x="815.2" y="413.9" textLength="44.18" lengthAdjust="spacingAndGlyphs">11.1%</text>
<path class="rh" d="M869.5 436.5L884 422.3M876 436L884 428.8"/>
</g>
<g transform="translate(1782,456)">
<text x="20" y="28" class="t" textLength="90.58" lengthAdjust="spacingAndGlyphs">COGENT</text><text x="116.6" y="28" class="t" textLength="9.70" lengthAdjust="spacingAndGlyphs">-</text><text x="132.4" y="28" class="t" textLength="48.56" lengthAdjust="spacingAndGlyphs">WAS</text><text x="187" y="28" class="t" textLength="145.26" lengthAdjust="spacingAndGlyphs">(38.100.128.11)</text>
<path class="g" d="M97.2 83.5H810.3M97.2 112.5H810.3M97.2 141.5H810.3M97.2 170.5H810.3M97.2 199.5H810.3M97.2 228.5H810.3M97.2 257.5H810.3M137.5 68.9V293.2M255.5 68.9V293.2M374.5 68.9V293.2M493.5 68.9V293.2M612.5 68.9V293.2M730.5 68.9V293.2"/>
<path d="M97.2 241.8L102.2 241.8L103.4 239.9L104.7 241.8L120.8 241.8L122.1 239.8L123.3 241.8L124.6 238.1L125.8 241.8L127.1 238.5L128.3 241.8L133.3 241.8L134.5 238.1L135.8 139.1L137 241.8L139.5 241.8L140.8 104L142 241.8L145.7 241.8L147 240.9L148.2 241.8L149.5 241.8L150.7 238.6L152 241.8L155.7 241.8L156.9 239.9L158.2 241.8L159.4 241.8L160.7 203.1L161.9 241.8L163.2 239.9L164.4 241.8L165.6 208.3L166.9 241.8L175.6 241.8L176.8 240.2L178.1 240.8L179.3 241.8L180.6 201.8L181.8 241.8L189.3 241.8L190.5 189.2L191.8 241.8L194.3 241.8L195.5 213.2L196.8 241.8L215.4 241.8L216.7 240.5L217.9 241.8L219.2 238.9L220.4 241.8L232.9 241.8L234.1 214.5L235.3 241.8L236.6 241.8L237.8 239.9L239.1 241.8L244.1 241.8L245.3 216.6L246.5 241.8L249 241.8L250.3 189.8L251.5 241.8L254 241.8L255.3 199.4L256.5 241.8L257.7 241.8L259 238.2L260.2 197.2L261.5 241.8L262.7 241.8L264 145.5L265.2 241.8L266.5 239.8L267.7 241.8L268.9 164.9L270.2 241.8L285.1 241.8L286.4 239.4L287.6 241.8L293.8 241.8L295.1 225.2L296.3 241.8L298.8 241.8L300.1 162.2L301.3 238L302.5 241.8L303.8 170.2L305 241.8L312.5 241.8L313.7 217.5L315 241.8L316.2 241.8L317.5 239.7L318.7 241.8L326.2 241.8L327.4 240.8L328.7 231.4L329.9 241.8L342.4 241.8L343.6 166.2L344.9 241.8L348.6 241.8L349.8 239.2L351.1 241.8L352.3 241.8L353.6 235L354.8 238.8L356.1 241.8L362.3 241.8L363.5 210.2L364.8 241.8L372.2 241.8L373.5 229.5L374.7 241.8L377.2 241.8L378.5 137.8L379.7 240.4L380.9 241.8L382.2 236.3L383.4 241.8L385.9 241.8L387.2 181.2L388.4 241.8L389.7 241.8L390.9 239.3L392.1 241.8L393.4 203.1L394.6 241.8L397.1 241.8L398.4 236L399.6 241.8L403.3 241.8L404.6 238.9L405.8 241.8L407.1 241.8L408.3 195.7L409.6 241.8L410.8 241.8L412.1 204.9L413.3 241.8L415.8 241.8L417 240.5L418.3 239L419.5 241.8L422 241.8L423.3 131.1L424.5 241.8L427 241.8L428.2 237.9L429.5 241.8L432 241.8L433.2 232.6L434.5 241.8L443.2 241.8L444.4 177.2L445.7 241.8L446.9 176.3L448.1 239.9L449.4 241.8L458.1 241.8L459.4 239L460.6 241.8L463.1 241.8L464.3 195.7L465.6 241.8L466.8 241.8L468.1 250.8L469.3 239.6L470.6 241.8L471.8 215.4L473 238L474.3 241.8L475.5 239.2L476.8 240.6L478 241.8L481.8 241.8L483 186.2L484.2 241.8L490.5 241.8L491.7 237.8L493 206.5L494.2 238.1L495.4 241.8L501.7 241.8L502.9 237.9L504.2 241.8L510.4 241.8L511.6 97.2L512.9 241.8L514.1 238.8L515.4 241.8L520.3 241.8L521.6 238.9L522.8 241.8L525.3 241.8L526.6 207.7L527.8 240.6L529 241.8L531.5 241.8L532.8 238.4L534 241.8L535.3 241.8L536.5 235L537.8 241.8L541.5 241.8L542.7 238.7L544 241.8L549 241.8L550.2 240.9L551.4 241.8L555.2 241.8L556.4 239.1L557.7 241.8L558.9 241.8L560.2 238.4L561.4 241.8L562.6 238.3L563.9 240.3L565.1 241.8L566.4 238.1L567.6 241.8L575.1 241.8L576.3 239L577.6 241.8L581.3 241.8L582.6 239.9L583.8 241.8L588.8 241.8L590 213.8L591.3 241.8L592.5 241.8L593.8 240.1L595 241.8L603.7 241.8L605 220L606.2 241.8L612.4 241.8L613.7 239.8L614.9 241.8L616.2 238.8L617.4 241.8L622.4 241.8L623.6 239.1L624.9 192L626.1 241.8L629.8 241.8L631.1 250.8L632.3 241.8L633.6 238.1L634.8 241.8L639.8 241.8L641 232.6L642.3 240.1L643.5 241.8L646 241.8L647.3 239.5L648.5 240.4L649.8 241.8L651 229.5L652.2 241.8L653.5 239.7L654.7 241.8L656 213.2L657.2 241.8L665.9 241.8L667.2 238.8L668.4 241.8L677.1 241.8L678.4 240.6L679.6 238.8L680.9 241.8L683.4 241.8L684.6 222.2L685.8 241.8L687.1 239.5L688.3 241.8L689.6 239.6L690.8 241.8L692.1 238.6L693.3 241.8L694.6 240.4L695.8 250.8L697.1 241.8L703.3 241.8L704.5 238.2L705.8 241.8L708.3 241.8L709.5 235.7L710.7 241.8L718.2 241.8L719.5 196L720.7 241.8L725.7 241.8L726.9 239.2L728.2 241.8L729.4 240.4L730.7 240.9L731.9 241.8L738.1 241.8L739.4 236.3L740.6 241.8L745.6 241.8L746.8 239.2L748.1 241.8L756.8 241.8L758 235L759.3 241.8L760.5 240.7L761.8 241.8L763 241.8L764.3 180L765.5 241.8L766.7 237.8L768 241.8L769.2 235L770.5 240.4L771.7 241.8L773 241.8L774.2 235L775.5 241.8L777.9 241.8L779.2 235L780.4 241.8L787.9 241.8L789.1 137.8L790.4 241.8L792.9 241.8L794.1 224L795.4 241.8L797.9 241.8L799.1 208.9L800.3 240.5L801.6 241.8L802.8 241.8L804.1 233.8L805.3 241.8L810.3 241.8L810.3 287.2L97.2 287.2Z" fill="url(#gf)" stroke="none"/>
<path class="gl" d="M97.2 241.8L102.2 241.8L103.4 239.9L104.7 241.8L120.8 241.8L122.1 239.8L123.3 241.8L124.6 238.1L125.8 241.8L127.1 238.5L128.3 241.8L133.3 241.8L134.5 238.1L135.8 139.1L137 241.8L139.5 241.8L140.8 104L142 241.8L145.7 241.8L147 240.9L148.2 241.8L149.5 241.8L150.7 238.6L152 241.8L155.7 241.8L156.9 239.9L158.2 241.8L159.4 241.8L160.7 203.1L161.9 241.8L163.2 239.9L164.4 241.8L165.6 208.3L166.9 241.8L175.6 241.8L176.8 240.2L178.1 240.8L179.3 241.8L180.6 201.8L181.8 241.8L189.3 241.8L190.5 189.2L191.8 241.8L194.3 241.8L195.5 213.2L196.8 241.8L215.4 241.8L216.7 240.5L217.9 241.8L219.2 238.9L220.4 241.8L232.9 241.8L234.1 214.5L235.3 241.8L236.6 241.8L237.8 239.9L239.1 241.8L244.1 241.8L245.3 216.6L246.5 241.8L249 241.8L250.3 189.8L251.5 241.8L254 241.8L255.3 199.4L256.5 241.8L257.7 241.8L259 238.2L260.2 197.2L261.5 241.8L262.7 241.8L264 145.5L265.2 241.8L266.5 239.8L267.7 241.8L268.9 164.9L270.2 241.8L285.1 241.8L286.4 239.4L287.6 241.8L293.8 241.8L295.1 225.2L296.3 241.8L298.8 241.8L300.1 162.2L301.3 238L302.5 241.8L303.8 170.2L305 241.8L312.5 241.8L313.7 217.5L315 241.8L316.2 241.8L317.5 239.7L318.7 241.8L326.2 241.8L327.4 240.8L328.7 231.4L329.9 241.8L342.4 241.8L343.6 166.2L344.9 241.8L348.6 241.8L349.8 239.2L351.1 241.8L352.3 241.8L353.6 235L354.8 238.8L356.1 241.8L362.3 241.8L363.5 210.2L364.8 241.8L372.2 241.8L373.5 229.5L374.7 241.8L377.2 241.8L378.5 137.8L379.7 240.4L380.9 241.8L382.2 236.3L383.4 241.8L385.9 241.8L387.2 181.2L388.4 241.8L389.7 241.8L390.9 239.3L392.1 241.8L393.4 203.1L394.6 241.8L397.1 241.8L398.4 236L399.6 241.8L403.3 241.8L404.6 238.9L405.8 241.8L407.1 241.8L408.3 195.7L409.6 241.8L410.8 241.8L412.1 204.9L413.3 241.8L415.8 241.8L417 240.5L418.3 239L419.5 241.8L422 241.8L423.3 131.1L424.5 241.8L427 241.8L428.2 237.9L429.5 241.8L432 241.8L433.2 232.6L434.5 241.8L443.2 241.8L444.4 177.2L445.7 241.8L446.9 176.3L448.1 239.9L449.4 241.8L458.1 241.8L459.4 239L460.6 241.8L463.1 241.8L464.3 195.7L465.6 241.8L466.8 241.8L468.1 250.8L469.3 239.6L470.6 241.8L471.8 215.4L473 238L474.3 241.8L475.5 239.2L476.8 240.6L478 241.8L481.8 241.8L483 186.2L484.2 241.8L490.5 241.8L491.7 237.8L493 206.5L494.2 238.1L495.4 241.8L501.7 241.8L502.9 237.9L504.2 241.8L510.4 241.8L511.6 97.2L512.9 241.8L514.1 238.8L515.4 241.8L520.3 241.8L521.6 238.9L522.8 241.8L525.3 241.8L526.6 207.7L527.8 240.6L529 241.8L531.5 241.8L532.8 238.4L534 241.8L535.3 241.8L536.5 235L537.8 241.8L541.5 241.8L542.7 238.7L544 241.8L549 241.8L550.2 240.9L551.4 241.8L555.2 241.8L556.4 239.1L557.7 241.8L558.9 241.8L560.2 238.4L561.4 241.8L562.6 238.3L563.9 240.3L565.1 241.8L566.4 238.1L567.6 241.8L575.1 241.8L576.3 239L577.6 241.8L581.3 241.8L582.6 239.9L583.8 241.8L588.8 241.8L590 213.8L591.3 241.8L592.5 241.8L593.8 240.1L595 241.8L603.7 241.8L605 220L606.2 241.8L612.4 241.8L613.7 239.8L614.9 241.8L616.2 238.8L617.4 241.8L622.4 241.8L623.6 239.1L624.9 192L626.1 241.8L629.8 241.8L631.1 250.8L632.3 241.8L633.6 238.1L634.8 241.8L639.8 241.8L641 232.6L642.3 240.1L643.5 241.8L646 241.8L647.3 239.5L648.5 240.4L649.8 241.8L651 229.5L652.2 241.8L653.5 239.7L654.7 241.8L656 213.2L657.2 241.8L665.9 241.8L667.2 238.8L668.4 241.8L677.1 241.8L678.4 240.6L679.6 238.8L680.9 241.8L683.4 241.8L684.6 222.2L685.8 241.8L687.1 239.5L688.3 241.8L689.6 239.6L690.8 241.8L692.1 238.6L693.3 241.8L694.6 240.4L695.8 250.8L697.1 241.8L703.3 241.8L704.5 238.2L705.8 241.8L708.3 241.8L709.5 235.7L710.7 241.8L718.2 241.8L719.5 196L720.7 241.8L725.7 241.8L726.9 239.2L728.2 241.8L729.4 240.4L730.7 240.9L731.9 241.8L738.1 241.8L739.4 236.3L740.6 241.8L745.6 241.8L746.8 239.2L748.1 241.8L756.8 241.8L758 235L759.3 241.8L760.5 240.7L761.8 241.8L763 241.8L764.3 180L765.5 241.8L766.7 237.8L768 241.8L769.2 235L770.5 240.4L771.7 241.8L773 241.8L774.2 235L775.5 241.8L777.9 241.8L779.2 235L780.4 241.8L787.9 241.8L789.1 137.8L790.4 241.8L792.9 241.8L794.1 224L795.4 241.8L797.9 241.8L799.1 208.9L800.3 240.5L801.6 241.8L802.8 241.8L804.1 233.8L805.3 241.8L810.3 241.8"/>
<path class="yl" d="M97.2 287.2L134.5 287.2L135.8 275L137 287.2L139.5 287.2L140.8 262.8L142 287.2L164.4 287.2L165.6 275L166.9 287.2L184.3 287.2L185.6 275L186.8 287.2L194.3 287.2L195.5 275L196.8 287.2L254 287.2L255.3 275L256.5 287.2L267.7 287.2L268.9 275L270.2 287.2L297.6 287.2L298.8 275L300.1 287.2L302.5 287.2L303.8 275L305 287.2L342.4 287.2L343.6 250.8L344.9 287.2L377.2 287.2L378.5 275L379.7 287.2L380.9 287.2L382.2 275L383.4 287.2L415.8 287.2L417 275L418.3 287.2L420.8 287.2L422 275L423.3 287.2L451.9 287.2L453.1 275L454.4 287.2L466.8 287.2L468.1 250.8L469.3 287.2L480.5 287.2L481.8 275L483 287.2L510.4 287.2L511.6 225L512.9 287.2L515.4 287.2L516.6 275L517.8 287.2L529 287.2L530.3 275L531.5 287.2L629.8 287.2L631.1 250.8L632.3 287.2L648.5 287.2L649.8 275L651 287.2L683.4 287.2L684.6 275L685.8 287.2L694.6 287.2L695.8 250.8L697.1 287.2L712 287.2L713.2 262.8L714.5 287.2L718.2 287.2L719.5 275L720.7 287.2L751.8 287.2L753.1 275L754.3 287.2L763 287.2L764.3 275L765.5 287.2L777.9 287.2L779.2 275L780.4 287.2L782.9 287.2L784.2 275L785.4 287.2L787.9 287.2L789.1 275L790.4 287.2L810.3 287.2"/>
<text x="26.2" y="88.7" textLength="33.33" lengthAdjust="spacingAndGlyphs">220</text><text x="64.6" y="88.7" textLength="25.27" lengthAdjust="spacingAndGlyphs">ms</text>
<text x="25.9" y="117.8" textLength="33.70" lengthAdjust="spacingAndGlyphs">200</text><text x="64.6" y="117.8" textLength="25.27" lengthAdjust="spacingAndGlyphs">ms</text>
<text x="29.7" y="146.8" textLength="29.83" lengthAdjust="spacingAndGlyphs">180</text><text x="64.6" y="146.8" textLength="25.27" lengthAdjust="spacingAndGlyphs">ms</text>
<text x="29.7" y="175.9" textLength="29.84" lengthAdjust="spacingAndGlyphs">160</text><text x="64.6" y="175.9" textLength="25.27" lengthAdjust="spacingAndGlyphs">ms</text>
<text x="29.3" y="204.9" textLength="30.31" lengthAdjust="spacingAndGlyphs">140</text><text x="64.6" y="204.9" textLength="25.27" lengthAdjust="spacingAndGlyphs">ms</text>
<text x="29.9" y="234" textLength="29.67" lengthAdjust="spacingAndGlyphs">120</text><text x="64.6" y="234" textLength="25.27" lengthAdjust="spacingAndGlyphs">ms</text>
<text x="29.5" y="263" textLength="30.05" lengthAdjust="spacingAndGlyphs">100</text><text x="64.6" y="263" textLength="25.27" lengthAdjust="spacingAndGlyphs">ms</text>
<text x="37.1" y="292.1" textLength="22.50" lengthAdjust="spacingAndGlyphs">80</text><text x="64.6" y="292.1" textLength="25.27" lengthAdjust="spacingAndGlyphs">ms</text>
<text x="818" y="75.1" textLength="47.72" lengthAdjust="spacingAndGlyphs">100%</text>
<text x="818" y="118.8" textLength="40.17" lengthAdjust="spacingAndGlyphs">80%</text>
<text x="818" y="162.4" textLength="40.19" lengthAdjust="spacingAndGlyphs">60%</text>
<text x="818" y="206.1" textLength="40.66" lengthAdjust="spacingAndGlyphs">40%</text>
<text x="818" y="249.7" textLength="40.02" lengthAdjust="spacingAndGlyphs">20%</text>
<text x="818" y="293.4" textLength="29.03" lengthAdjust="spacingAndGlyphs">0%</text>
<text x="112" y="318.2" textLength="50.42" lengthAdjust="spacingAndGlyphs">06:00</text>
<text x="230.7" y="318.2" textLength="50.41" lengthAdjust="spacingAndGlyphs">08:00</text>
<text x="351.3" y="318.2" textLength="46.59" lengthAdjust="spacingAndGlyphs">10:00</text>
<text x="470.2" y="318.2" textLength="46.22" lengthAdjust="spacingAndGlyphs">12:00</text>
<text x="588.6" y="318.2" textLength="46.86" lengthAdjust="spacingAndGlyphs">14:00</text>
<text x="707.5" y="318.2" textLength="46.39" lengthAdjust="spacingAndGlyphs">16:00</text>
<text x="64.5" y="341.8" class="h" style="fill:#799ef8;stroke:#799ef8" textLength="51.07" lengthAdjust="spacingAndGlyphs">Name</text>
<text x="621.6" y="341.8" class="h" style="fill:#799ef8;stroke:#799ef8" textLength="32.23" lengthAdjust="spacingAndGlyphs">Min</text>
<text x="715.5" y="341.8" class="h" style="fill:#799ef8;stroke:#799ef8" textLength="48.89" lengthAdjust="spacingAndGlyphs">Mean</text>
<text x="822.3" y="341.8" class="h" style="fill:#799ef8;stroke:#799ef8" textLength="37.12" lengthAdjust="spacingAndGlyphs">Max</text>
<path class="r" d="M20 354H872M20 390H872"/><path class="r2" d="M20 426H872"/>
<rect x="32" y="369" width="21" height="6" rx="3" fill="#85bd72"/>
<rect x="32" y="405" width="21" height="6" rx="3" fill="#eccd47"/>
<text x="64.5" y="377.9" textLength="46.42" lengthAdjust="spacingAndGlyphs">ICMP</text><text x="116.4" y="377.9" textLength="80.51" lengthAdjust="spacingAndGlyphs">response</text><text x="202.5" y="377.9" textLength="37.19" lengthAdjust="spacingAndGlyphs">time</text>
<text x="64.5" y="413.9" textLength="46.42" lengthAdjust="spacingAndGlyphs">ICMP</text><text x="116.4" y="413.9" textLength="34.83" lengthAdjust="spacingAndGlyphs">loss</text>
<text x="156.8" y="413.9" style="fill:#8e8e9b;stroke:#8e8e9b" textLength="46.69" lengthAdjust="spacingAndGlyphs">(right</text><text x="209" y="413.9" style="fill:#8e8e9b;stroke:#8e8e9b" textLength="59.38" lengthAdjust="spacingAndGlyphs">y-axis)</text>
<text x="588.7" y="377.9" textLength="38.69" lengthAdjust="spacingAndGlyphs">92.5</text><text x="632.9" y="377.9" textLength="25.49" lengthAdjust="spacingAndGlyphs">ms</text>
<text x="706.6" y="377.9" textLength="26.73" lengthAdjust="spacingAndGlyphs">114</text><text x="738.9" y="377.9" textLength="25.49" lengthAdjust="spacingAndGlyphs">ms</text>
<text x="802.3" y="377.9" textLength="26.09" lengthAdjust="spacingAndGlyphs">211</text><text x="833.9" y="377.9" textLength="25.49" lengthAdjust="spacingAndGlyphs">ms</text>
<text x="629.1" y="413.9" textLength="29.26" lengthAdjust="spacingAndGlyphs">0%</text>
<text x="696.8" y="413.9" textLength="67.61" lengthAdjust="spacingAndGlyphs">0.385%</text>
<text x="806" y="413.9" textLength="53.42" lengthAdjust="spacingAndGlyphs">27.8%</text>
<path class="rh" d="M869.5 436.5L884 422.3M876 436L884 428.8"/>
</g>
<g transform="translate(2673,456)">
<text x="20" y="28" class="t" textLength="87.68" lengthAdjust="spacingAndGlyphs">LIBERTY</text><text x="113.7" y="28" class="t" textLength="9.70" lengthAdjust="spacingAndGlyphs">-</text><text x="129.5" y="28" class="t" textLength="44.95" lengthAdjust="spacingAndGlyphs">DUB</text><text x="180.5" y="28" class="t" textLength="185.04" lengthAdjust="spacingAndGlyphs">(109.255.253.216)</text>
<path class="g" d="M97.3 81.5H810.3M97.3 110.5H810.3M97.3 140.5H810.3M97.3 169.5H810.3M97.3 198.5H810.3M97.3 228.5H810.3M97.3 257.5H810.3M137.5 68.9V293.2M256.5 68.9V293.2M374.5 68.9V293.2M493.5 68.9V293.2M612.5 68.9V293.2M730.5 68.9V293.2"/>
<path d="M97.3 161.5L383.5 161.5L384.7 287.2L389.7 287.2L391 160.6L392.2 161.5L395.9 161.5L397.2 160.8L398.4 161.5L415.8 161.5L417.1 160.8L418.3 160.4L419.6 161.5L435.8 161.5L437 160.9L438.2 161.5L447 161.5L448.2 160.7L449.4 161.5L450.7 160.5L451.9 161.5L471.8 161.5L473.1 160.5L474.3 161.5L506.7 161.5L507.9 160.8L509.2 161.5L514.1 161.5L515.4 160.6L516.6 161.5L522.9 161.5L524.1 161.1L525.3 160.6L526.6 161.5L571.4 161.5L572.6 160.5L573.9 161.5L587.6 161.5L588.8 160.7L590.1 161.5L592.5 161.5L593.8 161.1L595 161.5L596.3 161.5L597.5 161L598.8 161.5L600 161.5L601.3 160.7L602.5 161.5L607.5 161.5L608.7 160.4L610 161.5L621.2 161.5L622.4 160.6L623.7 161.5L624.9 160.6L626.1 161.5L639.8 161.5L641.1 160.8L642.3 161.5L659.7 161.5L661 160.9L662.2 161.5L668.4 161.5L669.7 160.8L670.9 161.5L673.4 161.5L674.7 160.4L675.9 161.5L694.6 161.5L695.8 160.9L697.1 161.5L702 161.5L703.3 160.4L704.5 161.5L712 161.5L713.2 161L714.5 161.5L715.7 160.6L717 161.5L733.2 161.5L734.4 160.8L735.6 161.5L740.6 161.5L741.9 160.9L743.1 161.5L753.1 161.5L754.3 160.5L755.5 91.9L756.8 161.5L776.7 161.5L777.9 160.7L779.2 161.5L784.2 161.5L785.4 160.7L786.7 161.5L799.1 161.5L800.3 160.4L801.6 161.5L802.8 161.5L804.1 161L805.3 161.5L810.3 161.5L810.3 287.2L97.3 287.2Z" fill="url(#gf)" stroke="none"/>
<path class="gl" d="M97.3 161.5L383.5 161.5L384.7 287.2L389.7 287.2L391 160.6L392.2 161.5L395.9 161.5L397.2 160.8L398.4 161.5L415.8 161.5L417.1 160.8L418.3 160.4L419.6 161.5L435.8 161.5L437 160.9L438.2 161.5L447 161.5L448.2 160.7L449.4 161.5L450.7 160.5L451.9 161.5L471.8 161.5L473.1 160.5L474.3 161.5L506.7 161.5L507.9 160.8L509.2 161.5L514.1 161.5L515.4 160.6L516.6 161.5L522.9 161.5L524.1 161.1L525.3 160.6L526.6 161.5L571.4 161.5L572.6 160.5L573.9 161.5L587.6 161.5L588.8 160.7L590.1 161.5L592.5 161.5L593.8 161.1L595 161.5L596.3 161.5L597.5 161L598.8 161.5L600 161.5L601.3 160.7L602.5 161.5L607.5 161.5L608.7 160.4L610 161.5L621.2 161.5L622.4 160.6L623.7 161.5L624.9 160.6L626.1 161.5L639.8 161.5L641.1 160.8L642.3 161.5L659.7 161.5L661 160.9L662.2 161.5L668.4 161.5L669.7 160.8L670.9 161.5L673.4 161.5L674.7 160.4L675.9 161.5L694.6 161.5L695.8 160.9L697.1 161.5L702 161.5L703.3 160.4L704.5 161.5L712 161.5L713.2 161L714.5 161.5L715.7 160.6L717 161.5L733.2 161.5L734.4 160.8L735.6 161.5L740.6 161.5L741.9 160.9L743.1 161.5L753.1 161.5L754.3 160.5L755.5 91.9L756.8 161.5L776.7 161.5L777.9 160.7L779.2 161.5L784.2 161.5L785.4 160.7L786.7 161.5L799.1 161.5L800.3 160.4L801.6 161.5L802.8 161.5L804.1 161L805.3 161.5L810.3 161.5"/>
<path class="yl" d="M97.3 287.2L383.5 287.2L384.7 68.9L388.5 68.9L389.7 287.2L495.5 287.2L496.7 274.8L498 287.2L688.4 287.2L689.6 274.8L690.8 287.2L753.1 287.2L754.3 274.8L755.5 287.2L773 287.2L774.2 265.9L775.5 287.2L810.3 287.2"/>
<text x="26.2" y="86.5" textLength="33.42" lengthAdjust="spacingAndGlyphs">350</text><text x="64.7" y="86.5" textLength="25.27" lengthAdjust="spacingAndGlyphs">ms</text>
<text x="25.8" y="115.9" textLength="33.84" lengthAdjust="spacingAndGlyphs">300</text><text x="64.7" y="115.9" textLength="25.27" lengthAdjust="spacingAndGlyphs">ms</text>
<text x="26.4" y="145.4" textLength="33.28" lengthAdjust="spacingAndGlyphs">250</text><text x="64.7" y="145.4" textLength="25.27" lengthAdjust="spacingAndGlyphs">ms</text>
<text x="26" y="174.8" textLength="33.70" lengthAdjust="spacingAndGlyphs">200</text><text x="64.7" y="174.8" textLength="25.27" lengthAdjust="spacingAndGlyphs">ms</text>
<text x="30" y="204.2" textLength="29.62" lengthAdjust="spacingAndGlyphs">150</text><text x="64.7" y="204.2" textLength="25.27" lengthAdjust="spacingAndGlyphs">ms</text>
<text x="29.6" y="233.6" textLength="30.05" lengthAdjust="spacingAndGlyphs">100</text><text x="64.7" y="233.6" textLength="25.27" lengthAdjust="spacingAndGlyphs">ms</text>
<text x="37.4" y="263.1" textLength="22.30" lengthAdjust="spacingAndGlyphs">50</text><text x="64.7" y="263.1" textLength="25.27" lengthAdjust="spacingAndGlyphs">ms</text>
<text x="64.1" y="292.5" textLength="11.36" lengthAdjust="spacingAndGlyphs">0</text><text x="80.5" y="292.5" textLength="9.50" lengthAdjust="spacingAndGlyphs">s</text>
<text x="818" y="75.1" textLength="47.72" lengthAdjust="spacingAndGlyphs">100%</text>
<text x="818" y="118.8" textLength="40.17" lengthAdjust="spacingAndGlyphs">80%</text>
<text x="818" y="162.4" textLength="40.19" lengthAdjust="spacingAndGlyphs">60%</text>
<text x="818" y="206.1" textLength="40.66" lengthAdjust="spacingAndGlyphs">40%</text>
<text x="818" y="249.7" textLength="40.02" lengthAdjust="spacingAndGlyphs">20%</text>
<text x="818" y="293.4" textLength="29.03" lengthAdjust="spacingAndGlyphs">0%</text>
<text x="112.1" y="318.2" textLength="50.42" lengthAdjust="spacingAndGlyphs">06:00</text>
<text x="230.8" y="318.2" textLength="50.41" lengthAdjust="spacingAndGlyphs">08:00</text>
<text x="351.4" y="318.2" textLength="46.59" lengthAdjust="spacingAndGlyphs">10:00</text>
<text x="470.3" y="318.2" textLength="46.22" lengthAdjust="spacingAndGlyphs">12:00</text>
<text x="588.6" y="318.2" textLength="46.86" lengthAdjust="spacingAndGlyphs">14:00</text>
<text x="707.5" y="318.2" textLength="46.39" lengthAdjust="spacingAndGlyphs">16:00</text>
<text x="64.5" y="341.8" class="h" style="fill:#799ef8;stroke:#799ef8" textLength="51.07" lengthAdjust="spacingAndGlyphs">Name</text>
<text x="626.1" y="341.8" class="h" style="fill:#799ef8;stroke:#799ef8" textLength="32.23" lengthAdjust="spacingAndGlyphs">Min</text>
<text x="715.5" y="341.8" class="h" style="fill:#799ef8;stroke:#799ef8" textLength="48.89" lengthAdjust="spacingAndGlyphs">Mean</text>
<text x="822.3" y="341.8" class="h" style="fill:#799ef8;stroke:#799ef8" textLength="37.12" lengthAdjust="spacingAndGlyphs">Max</text>
<path class="r" d="M20 354H872M20 390H872"/><path class="r2" d="M20 426H872"/>
<rect x="32" y="369" width="21" height="6" rx="3" fill="#85bd72"/>
<rect x="32" y="405" width="21" height="6" rx="3" fill="#eccd47"/>
<text x="64.5" y="377.9" textLength="46.42" lengthAdjust="spacingAndGlyphs">ICMP</text><text x="116.4" y="377.9" textLength="80.51" lengthAdjust="spacingAndGlyphs">response</text><text x="202.5" y="377.9" textLength="37.19" lengthAdjust="spacingAndGlyphs">time</text>
<text x="64.5" y="413.9" textLength="46.42" lengthAdjust="spacingAndGlyphs">ICMP</text><text x="116.4" y="413.9" textLength="34.83" lengthAdjust="spacingAndGlyphs">loss</text>
<text x="156.8" y="413.9" style="fill:#8e8e9b;stroke:#8e8e9b" textLength="46.69" lengthAdjust="spacingAndGlyphs">(right</text><text x="209" y="413.9" style="fill:#8e8e9b;stroke:#8e8e9b" textLength="59.38" lengthAdjust="spacingAndGlyphs">y-axis)</text>
<text x="632" y="377.9" textLength="11.36" lengthAdjust="spacingAndGlyphs">0</text><text x="648.9" y="377.9" textLength="9.50" lengthAdjust="spacingAndGlyphs">s</text>
<text x="703.6" y="377.9" textLength="29.75" lengthAdjust="spacingAndGlyphs">212</text><text x="738.9" y="377.9" textLength="25.49" lengthAdjust="spacingAndGlyphs">ms</text>
<text x="798.3" y="377.9" textLength="30.03" lengthAdjust="spacingAndGlyphs">331</text><text x="833.9" y="377.9" textLength="25.49" lengthAdjust="spacingAndGlyphs">ms</text>
<text x="629.1" y="413.9" textLength="29.26" lengthAdjust="spacingAndGlyphs">0%</text>
<text x="697.8" y="413.9" textLength="66.59" lengthAdjust="spacingAndGlyphs">0.697%</text>
<text x="811" y="413.9" textLength="48.39" lengthAdjust="spacingAndGlyphs">100%</text>
<path class="rh" d="M869.5 436.5L884 422.3M876 436L884 428.8"/>
</g>
<g transform="translate(0,912)">
<text x="20" y="28" class="t" textLength="52.42" lengthAdjust="spacingAndGlyphs">TATA</text><text x="78.5" y="28" class="t" textLength="9.70" lengthAdjust="spacingAndGlyphs">-</text><text x="94.2" y="28" class="t" textLength="40.23" lengthAdjust="spacingAndGlyphs">MIA</text><text x="140.5" y="28" class="t" textLength="142.68" lengthAdjust="spacingAndGlyphs">(66.110.72.30)</text>
<path class="g" d="M94.3 74.5H810.3M94.3 102.5H810.3M94.3 129.5H810.3M94.3 157.5H810.3M94.3 185.5H810.3M94.3 213.5H810.3M94.3 240.5H810.3M94.3 268.5H810.3M134.5 68.9V293.2M253.5 68.9V293.2M372.5 68.9V293.2M492.5 68.9V293.2M611.5 68.9V293.2M730.5 68.9V293.2"/>
<path d="M94.3 268.9L95.5 267.2L96.8 268.9L100.5 268.9L101.8 267.6L103 268.9L104.3 267.7L105.5 266.9L106.8 268.9L108 268.9L109.3 268.1L110.5 268.9L119.3 268.9L120.5 266.9L121.8 268.9L129.3 268.9L130.5 261L131.8 268.9L135.5 268.9L136.8 260.8L138 268.9L139.3 268.3L140.5 268.9L141.8 266.4L143 268.9L145.5 268.9L146.8 267.5L148 257.5L149.3 268.9L150.5 268.9L151.8 260L153 268.9L154.3 268.9L155.5 268.8L156.8 268.9L158 266L159.3 268.9L160.5 268.8L161.8 268.9L164.3 268.9L165.5 185.4L166.8 268.9L173 268.9L174.3 268.7L175.5 268.9L176.8 267.4L178 268.9L180.5 268.9L181.8 265.4L183 268.9L186.8 268.9L188 268.6L189.3 268.9L199.3 268.9L200.5 267.8L201.8 268.9L208 268.9L209.3 263.2L210.5 268.9L220.5 268.9L221.8 263.5L223 268.9L226.8 268.9L228 265.8L229.3 268.9L234.3 268.9L235.5 267.1L236.8 265.9L238 268.9L239.2 263.1L240.5 264.7L241.7 268.9L243 268.9L244.2 267.7L245.5 268.9L246.7 268.9L248 268.9L250.5 268.9L251.7 267.8L253 267.5L254.2 268.9L255.5 259.9L256.7 268.9L265.5 268.9L266.7 263.5L268 268.9L275.5 268.9L276.7 268.4L278 268.9L279.2 268.9L280.5 266.7L281.7 268.9L283 267.9L284.2 268.9L285.5 268.9L286.7 268.1L288 268.9L290.5 268.9L291.7 267.2L293 268.9L294.2 268.9L295.5 268.9L296.7 268.7L298 268.9L301.7 268.9L303 268.3L304.2 268.9L311.7 268.9L313 265.2L314.2 268.9L315.5 261.4L316.7 268.9L320.5 268.9L321.7 267.9L323 268.9L324.2 268.9L328 268.9L329.2 266.8L330.5 268.9L331.7 265.8L333 268.9L334.2 265.8L335.5 266.4L336.7 268.9L341.7 268.9L343 268.2L344.2 268.9L355.5 268.9L356.7 267.3L358 268.9L363 268.9L364.2 268.5L365.5 268L366.7 265.7L368 267.2L369.2 268.9L371.7 268.9L373 268.1L374.2 268.9L375.5 268.9L376.7 265.9L378 268.9L386.7 268.9L387.9 267.2L389.2 268.9L397.9 268.9L399.2 259.9L400.4 268.9L401.7 268.9L402.9 267.9L404.2 268.9L419.2 268.9L420.4 261.5L421.7 268.9L424.2 268.9L425.4 268L426.7 268.1L427.9 268.9L441.7 268.9L442.9 267.4L444.2 268.9L451.7 268.9L452.9 262.3L454.2 268.9L455.4 261L456.7 268.3L457.9 268.9L465.4 268.9L466.7 259.9L467.9 268.9L469.2 268.9L470.4 268.9L471.7 268.9L474.2 268.9L475.4 268.3L476.7 265.6L477.9 268.9L480.4 268.9L481.7 264.3L482.9 268.9L484.2 268.9L485.4 265.8L486.7 268.9L489.2 268.9L490.4 267.7L491.7 268.9L492.9 267.5L494.2 268.9L495.4 259.9L496.7 268.7L497.9 268.9L499.2 265.1L500.4 268.9L502.9 268.9L504.2 267.7L505.4 268.9L506.7 268.9L507.9 268.7L509.2 268.9L514.2 268.9L515.4 263.2L516.7 268.9L526.6 268.9L527.9 268.7L529.1 268.9L532.9 268.9L534.1 267.5L535.4 268.9L536.6 267.5L537.9 268.9L539.1 265.3L540.4 268.9L542.9 268.9L544.1 265.8L545.4 267.9L546.6 268.9L547.9 268.9L549.1 268.5L550.4 268.9L551.6 268.9L552.9 267.8L554.1 268.9L565.4 268.9L566.6 264.4L567.9 268.9L569.1 268.9L570.4 267.4L571.6 268.9L575.4 268.9L576.6 267.9L577.9 268.2L579.1 268.9L580.4 268.8L581.6 268.9L582.9 268.9L584.1 268.2L585.4 268.7L586.6 265.3L587.9 268.9L617.9 268.9L619.1 267.6L620.4 268.9L639.1 268.9L640.4 266.8L641.6 268.9L657.9 268.9L659.1 267.2L660.4 268.9L661.6 268.9L662.9 267.8L664.1 268.3L665.4 268.9L666.6 259L667.8 268.9L669.1 268.9L670.3 268.1L671.6 268.9L677.8 268.9L679.1 250L680.3 268.9L684.1 268.9L685.3 268.2L686.6 268.9L694.1 268.9L695.3 262.5L696.6 268.6L697.8 268.9L705.3 268.9L706.6 253L707.8 263.7L709.1 259.9L710.3 268.9L711.6 267.1L712.8 268.9L714.1 268.9L715.3 263.4L716.6 248.6L717.8 268.9L719.1 267.5L720.3 265.3L721.6 248.6L722.8 268.2L724.1 268.9L726.6 268.9L727.8 266.5L729.1 262L730.3 261.6L731.6 268.9L732.8 268.9L734.1 253.8L735.3 268.9L739.1 268.9L740.3 87.2L741.6 268.9L742.8 267.1L744.1 268.9L754.1 268.9L755.3 268.2L756.6 264L757.8 260.5L759.1 265.9L760.3 268.9L761.6 268.9L762.8 268.5L764.1 268.9L767.8 268.9L769.1 265.2L770.3 268.9L771.6 264.3L772.8 268.9L774.1 268.5L775.3 268.9L776.6 268.9L777.8 267.5L779.1 264.2L780.3 265.8L781.6 268.9L784.1 268.9L785.3 268.1L786.6 268.9L792.8 268.9L794.1 268L795.3 268.9L796.6 268.5L797.8 264.3L799.1 266.8L800.3 268.9L801.6 268.9L802.8 261.9L804.1 268.9L805.3 268.8L806.6 268.9L810.3 268.9L810.3 287.2L94.3 287.2Z" fill="url(#gf)" stroke="none"/>
<path class="gl" d="M94.3 268.9L95.5 267.2L96.8 268.9L100.5 268.9L101.8 267.6L103 268.9L104.3 267.7L105.5 266.9L106.8 268.9L108 268.9L109.3 268.1L110.5 268.9L119.3 268.9L120.5 266.9L121.8 268.9L129.3 268.9L130.5 261L131.8 268.9L135.5 268.9L136.8 260.8L138 268.9L139.3 268.3L140.5 268.9L141.8 266.4L143 268.9L145.5 268.9L146.8 267.5L148 257.5L149.3 268.9L150.5 268.9L151.8 260L153 268.9L154.3 268.9L155.5 268.8L156.8 268.9L158 266L159.3 268.9L160.5 268.8L161.8 268.9L164.3 268.9L165.5 185.4L166.8 268.9L173 268.9L174.3 268.7L175.5 268.9L176.8 267.4L178 268.9L180.5 268.9L181.8 265.4L183 268.9L186.8 268.9L188 268.6L189.3 268.9L199.3 268.9L200.5 267.8L201.8 268.9L208 268.9L209.3 263.2L210.5 268.9L220.5 268.9L221.8 263.5L223 268.9L226.8 268.9L228 265.8L229.3 268.9L234.3 268.9L235.5 267.1L236.8 265.9L238 268.9L239.2 263.1L240.5 264.7L241.7 268.9L243 268.9L244.2 267.7L245.5 268.9L246.7 268.9L248 268.9L250.5 268.9L251.7 267.8L253 267.5L254.2 268.9L255.5 259.9L256.7 268.9L265.5 268.9L266.7 263.5L268 268.9L275.5 268.9L276.7 268.4L278 268.9L279.2 268.9L280.5 266.7L281.7 268.9L283 267.9L284.2 268.9L285.5 268.9L286.7 268.1L288 268.9L290.5 268.9L291.7 267.2L293 268.9L294.2 268.9L295.5 268.9L296.7 268.7L298 268.9L301.7 268.9L303 268.3L304.2 268.9L311.7 268.9L313 265.2L314.2 268.9L315.5 261.4L316.7 268.9L320.5 268.9L321.7 267.9L323 268.9L324.2 268.9L328 268.9L329.2 266.8L330.5 268.9L331.7 265.8L333 268.9L334.2 265.8L335.5 266.4L336.7 268.9L341.7 268.9L343 268.2L344.2 268.9L355.5 268.9L356.7 267.3L358 268.9L363 268.9L364.2 268.5L365.5 268L366.7 265.7L368 267.2L369.2 268.9L371.7 268.9L373 268.1L374.2 268.9L375.5 268.9L376.7 265.9L378 268.9L386.7 268.9L387.9 267.2L389.2 268.9L397.9 268.9L399.2 259.9L400.4 268.9L401.7 268.9L402.9 267.9L404.2 268.9L419.2 268.9L420.4 261.5L421.7 268.9L424.2 268.9L425.4 268L426.7 268.1L427.9 268.9L441.7 268.9L442.9 267.4L444.2 268.9L451.7 268.9L452.9 262.3L454.2 268.9L455.4 261L456.7 268.3L457.9 268.9L465.4 268.9L466.7 259.9L467.9 268.9L469.2 268.9L470.4 268.9L471.7 268.9L474.2 268.9L475.4 268.3L476.7 265.6L477.9 268.9L480.4 268.9L481.7 264.3L482.9 268.9L484.2 268.9L485.4 265.8L486.7 268.9L489.2 268.9L490.4 267.7L491.7 268.9L492.9 267.5L494.2 268.9L495.4 259.9L496.7 268.7L497.9 268.9L499.2 265.1L500.4 268.9L502.9 268.9L504.2 267.7L505.4 268.9L506.7 268.9L507.9 268.7L509.2 268.9L514.2 268.9L515.4 263.2L516.7 268.9L526.6 268.9L527.9 268.7L529.1 268.9L532.9 268.9L534.1 267.5L535.4 268.9L536.6 267.5L537.9 268.9L539.1 265.3L540.4 268.9L542.9 268.9L544.1 265.8L545.4 267.9L546.6 268.9L547.9 268.9L549.1 268.5L550.4 268.9L551.6 268.9L552.9 267.8L554.1 268.9L565.4 268.9L566.6 264.4L567.9 268.9L569.1 268.9L570.4 267.4L571.6 268.9L575.4 268.9L576.6 267.9L577.9 268.2L579.1 268.9L580.4 268.8L581.6 268.9L582.9 268.9L584.1 268.2L585.4 268.7L586.6 265.3L587.9 268.9L617.9 268.9L619.1 267.6L620.4 268.9L639.1 268.9L640.4 266.8L641.6 268.9L657.9 268.9L659.1 267.2L660.4 268.9L661.6 268.9L662.9 267.8L664.1 268.3L665.4 268.9L666.6 259L667.8 268.9L669.1 268.9L670.3 268.1L671.6 268.9L677.8 268.9L679.1 250L680.3 268.9L684.1 268.9L685.3 268.2L686.6 268.9L694.1 268.9L695.3 262.5L696.6 268.6L697.8 268.9L705.3 268.9L706.6 253L707.8 263.7L709.1 259.9L710.3 268.9L711.6 267.1L712.8 268.9L714.1 268.9L715.3 263.4L716.6 248.6L717.8 268.9L719.1 267.5L720.3 265.3L721.6 248.6L722.8 268.2L724.1 268.9L726.6 268.9L727.8 266.5L729.1 262L730.3 261.6L731.6 268.9L732.8 268.9L734.1 253.8L735.3 268.9L739.1 268.9L740.3 87.2L741.6 268.9L742.8 267.1L744.1 268.9L754.1 268.9L755.3 268.2L756.6 264L757.8 260.5L759.1 265.9L760.3 268.9L761.6 268.9L762.8 268.5L764.1 268.9L767.8 268.9L769.1 265.2L770.3 268.9L771.6 264.3L772.8 268.9L774.1 268.5L775.3 268.9L776.6 268.9L777.8 267.5L779.1 264.2L780.3 265.8L781.6 268.9L784.1 268.9L785.3 268.1L786.6 268.9L792.8 268.9L794.1 268L795.3 268.9L796.6 268.5L797.8 264.3L799.1 266.8L800.3 268.9L801.6 268.9L802.8 261.9L804.1 268.9L805.3 268.8L806.6 268.9L810.3 268.9"/>
<path class="yl" d="M94.3 287.2L164.3 287.2L165.5 263.6L166.8 287.2L772.8 287.2L774.1 263.6L775.3 287.2L810.3 287.2"/>
<text x="26.8" y="79.8" textLength="29.84" lengthAdjust="spacingAndGlyphs">160</text><text x="61.7" y="79.8" textLength="25.27" lengthAdjust="spacingAndGlyphs">ms</text>
<text x="27" y="107.5" textLength="29.62" lengthAdjust="spacingAndGlyphs">150</text><text x="61.7" y="107.5" textLength="25.27" lengthAdjust="spacingAndGlyphs">ms</text>
<text x="26.4" y="135.3" textLength="30.31" lengthAdjust="spacingAndGlyphs">140</text><text x="61.7" y="135.3" textLength="25.27" lengthAdjust="spacingAndGlyphs">ms</text>
<text x="26.9" y="163" textLength="29.81" lengthAdjust="spacingAndGlyphs">130</text><text x="61.7" y="163" textLength="25.27" lengthAdjust="spacingAndGlyphs">ms</text>
<text x="27" y="190.8" textLength="29.67" lengthAdjust="spacingAndGlyphs">120</text><text x="61.7" y="190.8" textLength="25.27" lengthAdjust="spacingAndGlyphs">ms</text>
<text x="30.7" y="218.5" textLength="26.02" lengthAdjust="spacingAndGlyphs">110</text><text x="61.7" y="218.5" textLength="25.27" lengthAdjust="spacingAndGlyphs">ms</text>
<text x="26.6" y="246.3" textLength="30.05" lengthAdjust="spacingAndGlyphs">100</text><text x="61.7" y="246.3" textLength="25.27" lengthAdjust="spacingAndGlyphs">ms</text>
<text x="34.2" y="274" textLength="22.52" lengthAdjust="spacingAndGlyphs">90</text><text x="61.7" y="274" textLength="25.27" lengthAdjust="spacingAndGlyphs">ms</text>
<text x="818" y="75.1" textLength="47.72" lengthAdjust="spacingAndGlyphs">100%</text>
<text x="818" y="118.8" textLength="40.17" lengthAdjust="spacingAndGlyphs">80%</text>
<text x="818" y="162.4" textLength="40.19" lengthAdjust="spacingAndGlyphs">60%</text>
<text x="818" y="206.1" textLength="40.66" lengthAdjust="spacingAndGlyphs">40%</text>
<text x="818" y="249.7" textLength="40.02" lengthAdjust="spacingAndGlyphs">20%</text>
<text x="818" y="293.4" textLength="29.03" lengthAdjust="spacingAndGlyphs">0%</text>
<text x="109.3" y="318.2" textLength="50.42" lengthAdjust="spacingAndGlyphs">06:00</text>
<text x="228.5" y="318.2" textLength="50.41" lengthAdjust="spacingAndGlyphs">08:00</text>
<text x="349.6" y="318.2" textLength="46.59" lengthAdjust="spacingAndGlyphs">10:00</text>
<text x="468.9" y="318.2" textLength="46.22" lengthAdjust="spacingAndGlyphs">12:00</text>
<text x="587.8" y="318.2" textLength="46.86" lengthAdjust="spacingAndGlyphs">14:00</text>
<text x="707.2" y="318.2" textLength="46.39" lengthAdjust="spacingAndGlyphs">16:00</text>
<text x="64.5" y="341.8" class="h" style="fill:#799ef8;stroke:#799ef8" textLength="51.07" lengthAdjust="spacingAndGlyphs">Name</text>
<text x="621.9" y="341.8" class="h" style="fill:#799ef8;stroke:#799ef8" textLength="32.23" lengthAdjust="spacingAndGlyphs">Min</text>
<text x="715.5" y="341.8" class="h" style="fill:#799ef8;stroke:#799ef8" textLength="48.89" lengthAdjust="spacingAndGlyphs">Mean</text>
<text x="822.3" y="341.8" class="h" style="fill:#799ef8;stroke:#799ef8" textLength="37.12" lengthAdjust="spacingAndGlyphs">Max</text>
<path class="r" d="M20 354H872M20 390H872"/><path class="r2" d="M20 426H872"/>
<rect x="32" y="369" width="21" height="6" rx="3" fill="#85bd72"/>
<rect x="32" y="405" width="21" height="6" rx="3" fill="#eccd47"/>
<text x="64.5" y="377.9" textLength="46.42" lengthAdjust="spacingAndGlyphs">ICMP</text><text x="116.4" y="377.9" textLength="80.51" lengthAdjust="spacingAndGlyphs">response</text><text x="202.5" y="377.9" textLength="37.19" lengthAdjust="spacingAndGlyphs">time</text>
<text x="64.5" y="413.9" textLength="46.42" lengthAdjust="spacingAndGlyphs">ICMP</text><text x="116.4" y="413.9" textLength="34.83" lengthAdjust="spacingAndGlyphs">loss</text>
<text x="156.8" y="413.9" style="fill:#8e8e9b;stroke:#8e8e9b" textLength="46.69" lengthAdjust="spacingAndGlyphs">(right</text><text x="209" y="413.9" style="fill:#8e8e9b;stroke:#8e8e9b" textLength="59.38" lengthAdjust="spacingAndGlyphs">y-axis)</text>
<text x="589" y="377.9" textLength="38.41" lengthAdjust="spacingAndGlyphs">89.6</text><text x="632.9" y="377.9" textLength="25.49" lengthAdjust="spacingAndGlyphs">ms</text>
<text x="699.7" y="377.9" textLength="33.69" lengthAdjust="spacingAndGlyphs">90.1</text><text x="738.9" y="377.9" textLength="25.49" lengthAdjust="spacingAndGlyphs">ms</text>
<text x="798.7" y="377.9" textLength="29.65" lengthAdjust="spacingAndGlyphs">155</text><text x="833.9" y="377.9" textLength="25.49" lengthAdjust="spacingAndGlyphs">ms</text>
<text x="629.1" y="413.9" textLength="29.26" lengthAdjust="spacingAndGlyphs">0%</text>
<text x="685.1" y="413.9" textLength="79.22" lengthAdjust="spacingAndGlyphs">0.0385%</text>
<text x="815.2" y="413.9" textLength="44.18" lengthAdjust="spacingAndGlyphs">11.1%</text>
<path class="rh" d="M869.5 436.5L884 422.3M876 436L884 428.8"/>
</g>
<g transform="translate(891,912)">
<text x="20" y="28" class="t" textLength="92.08" lengthAdjust="spacingAndGlyphs">ARELION</text><text x="118.1" y="28" class="t" textLength="9.70" lengthAdjust="spacingAndGlyphs">-</text><text x="133.9" y="28" class="t" textLength="44.43" lengthAdjust="spacingAndGlyphs">ASH</text><text x="184.4" y="28" class="t" textLength="170.30" lengthAdjust="spacingAndGlyphs">(213.248.66.142)</text>
<path class="g" d="M94.5 72.5H810.3M94.5 104.5H810.3M94.5 137.5H810.3M94.5 169.5H810.3M94.5 202.5H810.3M94.5 235.5H810.3M94.5 267.5H810.3M134.5 68.9V293.2M253.5 68.9V293.2M372.5 68.9V293.2M492.5 68.9V293.2M611.5 68.9V293.2M730.5 68.9V293.2"/>
<path d="M94.5 263.6L95.7 260L97 259.6L98.2 255.8L99.5 260.5L100.7 259.9L102 259.5L103.2 261L104.5 261.2L105.7 258.6L107 258.9L108.2 259.6L109.5 261.7L110.7 261.5L112 258.1L113.2 258.4L114.5 261.8L115.7 258.1L117 260.4L118.2 259.2L119.5 262.3L120.7 259.9L122 261.8L123.2 263.3L124.5 222.8L125.7 260.6L127 261.8L128.2 259.2L129.5 260.1L130.7 259.4L132 260L133.2 259.5L134.5 260.1L135.7 259.7L137 260.6L138.2 260.5L139.5 156.6L140.7 263L142 222L143.2 262.8L144.5 260L145.7 258.1L147 260.1L148.2 205.5L149.5 245.4L150.7 258.4L152 242L153.2 257L154.5 257.2L155.7 258.1L157 261.5L158.2 261.7L159.5 262.4L160.7 261.4L162 261.1L163.2 260.6L164.5 262.7L165.7 258.7L167 260.1L168.2 261.1L169.5 257L170.7 262.9L172 258.8L173.2 260.2L174.4 264.5L175.7 258.7L176.9 259.3L178.2 263.4L179.4 256.9L180.7 259.5L181.9 261.3L183.2 261.2L184.4 261.5L185.7 261L186.9 257.3L188.2 223.7L189.4 261.5L190.7 258.9L191.9 258.9L193.2 256.5L194.4 261.7L195.7 256.7L196.9 257.8L198.2 264L199.4 258.2L200.7 258.9L201.9 259.3L203.2 261.9L204.4 216.9L205.7 260L206.9 259.2L208.2 259.8L209.4 262.9L210.7 258.3L211.9 260.4L213.2 260.8L214.4 262L215.7 257.7L216.9 262.5L218.2 261.1L219.4 262L220.7 260.4L221.9 256.9L223.2 258.9L224.4 261.9L225.7 259.5L226.9 260.1L228.2 263.9L229.4 264.8L230.7 260.1L231.9 264.2L233.2 229.5L234.4 256L235.7 262L236.9 211L238.2 261.4L239.4 261.3L240.7 260L241.9 261.6L243.2 158.8L244.4 257L245.7 260.6L246.9 198.5L248.2 264L249.4 197L250.7 260.2L251.9 259.3L253.2 259.9L254.4 263.7L255.6 217L256.9 259.2L258.1 260.5L259.4 261.8L260.6 258L261.9 259.6L263.1 263.4L264.4 262L265.6 260L266.9 251L268.1 259.8L269.4 256.8L270.6 262.2L271.9 260.9L273.1 260.4L274.4 247.4L275.6 243.8L276.9 261.2L278.1 260.7L279.4 259L280.6 261.2L281.9 262.2L283.1 258.6L284.4 258.9L285.6 258.2L286.9 257.6L288.1 261.8L289.4 261.2L290.6 260.8L291.9 257.5L293.1 256.6L294.4 259.9L295.6 259.2L296.9 260.3L298.1 173.2L299.4 261.5L300.6 264.1L301.9 263.5L303.1 263.6L304.4 260.2L305.6 262.1L306.9 259.2L308.1 262.1L309.4 259.2L310.6 259L311.9 258.6L313.1 261.6L314.4 260.7L315.6 260.5L316.9 257.5L318.1 260.4L319.4 256.8L320.6 263.4L321.9 259.7L323.1 260.5L324.4 259.8L325.6 256.4L326.9 256.9L328.1 259.9L329.4 263.4L330.6 257.5L331.9 258.4L333.1 259.9L334.3 256.1L335.6 256.1L336.8 214.5L338.1 259.9L339.3 259.1L340.6 263.5L341.8 209.2L343.1 260.8L344.3 220.3L345.6 263.9L346.8 256.3L348.1 259.1L349.3 198.8L350.6 256.7L351.8 199L353.1 256.9L354.3 209.2L355.6 257.3L356.8 260.4L358.1 262.9L359.3 263.5L360.6 260L361.8 255.3L363.1 259.8L364.3 259.1L365.6 260.8L366.8 259.6L368.1 255.7L369.3 260.9L370.6 255L371.8 258.3L373.1 260.7L374.3 260.7L375.6 263.7L376.8 254.3L378.1 260.7L379.3 244L380.6 259.1L381.8 261.4L383.1 257.2L384.3 261.5L385.6 261.2L386.8 257.5L388.1 258.3L389.3 217L390.6 258.3L391.8 262.4L393.1 260.3L394.3 263.1L395.6 262.7L396.8 196.6L398.1 259.4L399.3 257.6L400.6 257.9L401.8 257.9L403.1 260.7L404.3 253.1L405.6 260L406.8 260.3L408.1 258.6L409.3 259.4L410.6 263.4L411.8 263.8L413 257.9L414.3 259.3L415.5 258.9L416.8 259.1L418 239L419.3 261.5L420.5 263L421.8 260.8L423 258.7L424.3 213.2L425.5 259.9L426.8 214.5L428 259.6L429.3 261.4L430.5 262.7L431.8 174.8L433 260.9L434.3 257.8L435.5 255.9L436.8 260.4L438 260.9L439.3 194.8L440.5 258.5L441.8 187.4L443 255.5L444.3 260.4L445.5 257.8L446.8 259L448 261.6L449.3 259.5L450.5 261.1L451.8 260.8L453 259.8L454.3 259.9L455.5 264.5L456.8 250.6L458 263.9L459.3 257.4L460.5 261.6L461.8 260.2L463 257.8L464.3 252.9L465.5 263.9L466.8 256.7L468 257.2L469.3 260.1L470.5 259.9L471.8 115.4L473 259L474.3 255.8L475.5 172.9L476.8 257.3L478 177.2L479.3 261.2L480.5 262.8L481.8 202.2L483 258.9L484.3 259.1L485.5 254.8L486.8 257.7L488 257L489.3 256.6L490.5 255.8L491.8 258.8L493 263.9L494.2 263.6L495.5 254.7L496.7 229.8L498 244.9L499.2 261.1L500.5 260.1L501.7 262.1L503 260.5L504.2 205.5L505.5 258.8L506.7 252.9L508 88.3L509.2 257.3L510.5 258.3L511.7 256.9L513 200L514.2 246.2L515.5 222.8L516.7 258.7L518 256.8L519.2 256.4L520.5 261.2L521.7 246.9L523 260.8L524.2 263.9L525.5 248.5L526.7 257.2L528 231.4L529.2 259.1L530.5 255.8L531.7 262.6L533 259.7L534.2 263.1L535.5 259.5L536.7 213.2L538 258.2L539.2 217L540.5 255.7L541.7 258.3L543 140.9L544.2 262.4L545.5 261.8L546.7 255.5L548 182.2L549.2 259.1L550.5 259.6L551.7 257.4L553 258.9L554.2 256.8L555.5 258.6L556.7 263.2L558 255.7L559.2 252.7L560.5 261L561.7 260.5L563 261.6L564.2 264.4L565.5 236.3L566.7 257.4L568 260.9L569.2 263L570.5 262.4L571.7 257.1L572.9 255.6L574.2 258.7L575.4 146.5L576.7 262.6L577.9 207.7L579.2 258.3L580.4 255.3L581.7 155.4L582.9 260.3L584.2 258.3L585.4 261.2L586.7 258.9L587.9 261.2L589.2 263.2L590.4 258.7L591.7 260.9L592.9 260.8L594.2 229.5L595.4 261.2L596.7 259.5L597.9 257.6L599.2 260.3L600.4 256.4L601.7 243.4L602.9 259.6L604.2 261L605.4 257.9L606.7 222.2L607.9 256.8L609.2 257.9L610.4 200L611.7 258.7L612.9 254.2L614.2 251.9L615.4 249.3L616.7 259.8L617.9 258.7L619.2 162.8L620.4 255.2L621.7 256.2L622.9 213.2L624.2 258.8L625.4 260.7L626.7 263.1L627.9 261.3L629.2 229.5L630.4 256.5L631.7 256L632.9 256.7L634.2 178.5L635.4 253.3L636.7 257.2L637.9 257.6L639.2 159.1L640.4 258.4L641.7 261.2L642.9 253L644.2 255.2L645.4 260.1L646.7 258.5L647.9 256.4L649.2 261.6L650.4 262.6L651.6 263.3L652.9 258.1L654.1 259.3L655.4 260L656.6 259.5L657.9 262.4L659.1 257.8L660.4 260.4L661.6 252.6L662.9 261.6L664.1 264.3L665.4 259.2L666.6 262.4L667.9 254.2L669.1 258.3L670.4 254.6L671.6 260.3L672.9 260.9L674.1 255.1L675.4 256.7L676.6 225.8L677.9 266.5L679.1 259L680.4 255.8L681.6 260.4L682.9 260.2L684.1 258.5L685.4 255.2L686.6 257.2L687.9 264.3L689.1 260L690.4 258.1L691.6 255.1L692.9 259.1L694.1 198.8L695.4 257.2L696.6 262L697.9 257.4L699.1 111.4L700.4 261.9L701.6 181.5L702.9 262.7L704.1 258.5L705.4 178.8L706.6 260.7L707.9 259.9L709.1 262.9L710.4 260.5L711.6 259.1L712.9 260.6L714.1 261.3L715.4 255.7L716.6 258.7L717.9 258.1L719.1 263L720.4 252.2L721.6 262.5L722.9 255.2L724.1 259L725.4 262.6L726.6 258.3L727.9 256.6L729.1 252.7L730.4 259.3L731.6 259.7L732.8 165.5L734.1 254.3L735.3 261.3L736.6 251.7L737.8 262.2L739.1 174.8L740.3 262.3L741.6 207.7L742.8 255.6L744.1 248.1L745.3 257.6L746.6 261.1L747.8 236.3L749.1 260.5L750.3 260.7L751.6 263.7L752.8 252.7L754.1 257.8L755.3 261.4L756.6 261.4L757.8 191.1L759.1 258.3L760.3 258.8L761.6 256.7L762.8 257.3L764.1 151.4L765.3 255.5L766.6 257.9L767.8 263.7L769.1 256L770.3 262.3L771.6 265.5L772.8 259.8L774.1 266.5L775.3 258.7L776.6 264.6L777.8 259L779.1 255.2L780.3 260.3L781.6 265.4L782.8 257.2L784.1 260.8L785.3 255.9L786.6 214.5L787.8 260.7L789.1 258.6L790.3 261L791.6 263.4L792.8 255.3L794.1 156.3L795.3 163L796.6 266.5L797.8 258.1L799.1 257.6L800.3 260.7L801.6 266.2L802.8 257.3L804.1 258.2L805.3 242L806.6 261.8L807.8 266.5L809.1 255L810.3 246L810.3 287.2L94.5 287.2Z" fill="url(#gf)" stroke="none"/>
<path class="gl" d="M94.5 263.6L95.7 260L97 259.6L98.2 255.8L99.5 260.5L100.7 259.9L102 259.5L103.2 261L104.5 261.2L105.7 258.6L107 258.9L108.2 259.6L109.5 261.7L110.7 261.5L112 258.1L113.2 258.4L114.5 261.8L115.7 258.1L117 260.4L118.2 259.2L119.5 262.3L120.7 259.9L122 261.8L123.2 263.3L124.5 222.8L125.7 260.6L127 261.8L128.2 259.2L129.5 260.1L130.7 259.4L132 260L133.2 259.5L134.5 260.1L135.7 259.7L137 260.6L138.2 260.5L139.5 156.6L140.7 263L142 222L143.2 262.8L144.5 260L145.7 258.1L147 260.1L148.2 205.5L149.5 245.4L150.7 258.4L152 242L153.2 257L154.5 257.2L155.7 258.1L157 261.5L158.2 261.7L159.5 262.4L160.7 261.4L162 261.1L163.2 260.6L164.5 262.7L165.7 258.7L167 260.1L168.2 261.1L169.5 257L170.7 262.9L172 258.8L173.2 260.2L174.4 264.5L175.7 258.7L176.9 259.3L178.2 263.4L179.4 256.9L180.7 259.5L181.9 261.3L183.2 261.2L184.4 261.5L185.7 261L186.9 257.3L188.2 223.7L189.4 261.5L190.7 258.9L191.9 258.9L193.2 256.5L194.4 261.7L195.7 256.7L196.9 257.8L198.2 264L199.4 258.2L200.7 258.9L201.9 259.3L203.2 261.9L204.4 216.9L205.7 260L206.9 259.2L208.2 259.8L209.4 262.9L210.7 258.3L211.9 260.4L213.2 260.8L214.4 262L215.7 257.7L216.9 262.5L218.2 261.1L219.4 262L220.7 260.4L221.9 256.9L223.2 258.9L224.4 261.9L225.7 259.5L226.9 260.1L228.2 263.9L229.4 264.8L230.7 260.1L231.9 264.2L233.2 229.5L234.4 256L235.7 262L236.9 211L238.2 261.4L239.4 261.3L240.7 260L241.9 261.6L243.2 158.8L244.4 257L245.7 260.6L246.9 198.5L248.2 264L249.4 197L250.7 260.2L251.9 259.3L253.2 259.9L254.4 263.7L255.6 217L256.9 259.2L258.1 260.5L259.4 261.8L260.6 258L261.9 259.6L263.1 263.4L264.4 262L265.6 260L266.9 251L268.1 259.8L269.4 256.8L270.6 262.2L271.9 260.9L273.1 260.4L274.4 247.4L275.6 243.8L276.9 261.2L278.1 260.7L279.4 259L280.6 261.2L281.9 262.2L283.1 258.6L284.4 258.9L285.6 258.2L286.9 257.6L288.1 261.8L289.4 261.2L290.6 260.8L291.9 257.5L293.1 256.6L294.4 259.9L295.6 259.2L296.9 260.3L298.1 173.2L299.4 261.5L300.6 264.1L301.9 263.5L303.1 263.6L304.4 260.2L305.6 262.1L306.9 259.2L308.1 262.1L309.4 259.2L310.6 259L311.9 258.6L313.1 261.6L314.4 260.7L315.6 260.5L316.9 257.5L318.1 260.4L319.4 256.8L320.6 263.4L321.9 259.7L323.1 260.5L324.4 259.8L325.6 256.4L326.9 256.9L328.1 259.9L329.4 263.4L330.6 257.5L331.9 258.4L333.1 259.9L334.3 256.1L335.6 256.1L336.8 214.5L338.1 259.9L339.3 259.1L340.6 263.5L341.8 209.2L343.1 260.8L344.3 220.3L345.6 263.9L346.8 256.3L348.1 259.1L349.3 198.8L350.6 256.7L351.8 199L353.1 256.9L354.3 209.2L355.6 257.3L356.8 260.4L358.1 262.9L359.3 263.5L360.6 260L361.8 255.3L363.1 259.8L364.3 259.1L365.6 260.8L366.8 259.6L368.1 255.7L369.3 260.9L370.6 255L371.8 258.3L373.1 260.7L374.3 260.7L375.6 263.7L376.8 254.3L378.1 260.7L379.3 244L380.6 259.1L381.8 261.4L383.1 257.2L384.3 261.5L385.6 261.2L386.8 257.5L388.1 258.3L389.3 217L390.6 258.3L391.8 262.4L393.1 260.3L394.3 263.1L395.6 262.7L396.8 196.6L398.1 259.4L399.3 257.6L400.6 257.9L401.8 257.9L403.1 260.7L404.3 253.1L405.6 260L406.8 260.3L408.1 258.6L409.3 259.4L410.6 263.4L411.8 263.8L413 257.9L414.3 259.3L415.5 258.9L416.8 259.1L418 239L419.3 261.5L420.5 263L421.8 260.8L423 258.7L424.3 213.2L425.5 259.9L426.8 214.5L428 259.6L429.3 261.4L430.5 262.7L431.8 174.8L433 260.9L434.3 257.8L435.5 255.9L436.8 260.4L438 260.9L439.3 194.8L440.5 258.5L441.8 187.4L443 255.5L444.3 260.4L445.5 257.8L446.8 259L448 261.6L449.3 259.5L450.5 261.1L451.8 260.8L453 259.8L454.3 259.9L455.5 264.5L456.8 250.6L458 263.9L459.3 257.4L460.5 261.6L461.8 260.2L463 257.8L464.3 252.9L465.5 263.9L466.8 256.7L468 257.2L469.3 260.1L470.5 259.9L471.8 115.4L473 259L474.3 255.8L475.5 172.9L476.8 257.3L478 177.2L479.3 261.2L480.5 262.8L481.8 202.2L483 258.9L484.3 259.1L485.5 254.8L486.8 257.7L488 257L489.3 256.6L490.5 255.8L491.8 258.8L493 263.9L494.2 263.6L495.5 254.7L496.7 229.8L498 244.9L499.2 261.1L500.5 260.1L501.7 262.1L503 260.5L504.2 205.5L505.5 258.8L506.7 252.9L508 88.3L509.2 257.3L510.5 258.3L511.7 256.9L513 200L514.2 246.2L515.5 222.8L516.7 258.7L518 256.8L519.2 256.4L520.5 261.2L521.7 246.9L523 260.8L524.2 263.9L525.5 248.5L526.7 257.2L528 231.4L529.2 259.1L530.5 255.8L531.7 262.6L533 259.7L534.2 263.1L535.5 259.5L536.7 213.2L538 258.2L539.2 217L540.5 255.7L541.7 258.3L543 140.9L544.2 262.4L545.5 261.8L546.7 255.5L548 182.2L549.2 259.1L550.5 259.6L551.7 257.4L553 258.9L554.2 256.8L555.5 258.6L556.7 263.2L558 255.7L559.2 252.7L560.5 261L561.7 260.5L563 261.6L564.2 264.4L565.5 236.3L566.7 257.4L568 260.9L569.2 263L570.5 262.4L571.7 257.1L572.9 255.6L574.2 258.7L575.4 146.5L576.7 262.6L577.9 207.7L579.2 258.3L580.4 255.3L581.7 155.4L582.9 260.3L584.2 258.3L585.4 261.2L586.7 258.9L587.9 261.2L589.2 263.2L590.4 258.7L591.7 260.9L592.9 260.8L594.2 229.5L595.4 261.2L596.7 259.5L597.9 257.6L599.2 260.3L600.4 256.4L601.7 243.4L602.9 259.6L604.2 261L605.4 257.9L606.7 222.2L607.9 256.8L609.2 257.9L610.4 200L611.7 258.7L612.9 254.2L614.2 251.9L615.4 249.3L616.7 259.8L617.9 258.7L619.2 162.8L620.4 255.2L621.7 256.2L622.9 213.2L624.2 258.8L625.4 260.7L626.7 263.1L627.9 261.3L629.2 229.5L630.4 256.5L631.7 256L632.9 256.7L634.2 178.5L635.4 253.3L636.7 257.2L637.9 257.6L639.2 159.1L640.4 258.4L641.7 261.2L642.9 253L644.2 255.2L645.4 260.1L646.7 258.5L647.9 256.4L649.2 261.6L650.4 262.6L651.6 263.3L652.9 258.1L654.1 259.3L655.4 260L656.6 259.5L657.9 262.4L659.1 257.8L660.4 260.4L661.6 252.6L662.9 261.6L664.1 264.3L665.4 259.2L666.6 262.4L667.9 254.2L669.1 258.3L670.4 254.6L671.6 260.3L672.9 260.9L674.1 255.1L675.4 256.7L676.6 225.8L677.9 266.5L679.1 259L680.4 255.8L681.6 260.4L682.9 260.2L684.1 258.5L685.4 255.2L686.6 257.2L687.9 264.3L689.1 260L690.4 258.1L691.6 255.1L692.9 259.1L694.1 198.8L695.4 257.2L696.6 262L697.9 257.4L699.1 111.4L700.4 261.9L701.6 181.5L702.9 262.7L704.1 258.5L705.4 178.8L706.6 260.7L707.9 259.9L709.1 262.9L710.4 260.5L711.6 259.1L712.9 260.6L714.1 261.3L715.4 255.7L716.6 258.7L717.9 258.1L719.1 263L720.4 252.2L721.6 262.5L722.9 255.2L724.1 259L725.4 262.6L726.6 258.3L727.9 256.6L729.1 252.7L730.4 259.3L731.6 259.7L732.8 165.5L734.1 254.3L735.3 261.3L736.6 251.7L737.8 262.2L739.1 174.8L740.3 262.3L741.6 207.7L742.8 255.6L744.1 248.1L745.3 257.6L746.6 261.1L747.8 236.3L749.1 260.5L750.3 260.7L751.6 263.7L752.8 252.7L754.1 257.8L755.3 261.4L756.6 261.4L757.8 191.1L759.1 258.3L760.3 258.8L761.6 256.7L762.8 257.3L764.1 151.4L765.3 255.5L766.6 257.9L767.8 263.7L769.1 256L770.3 262.3L771.6 265.5L772.8 259.8L774.1 266.5L775.3 258.7L776.6 264.6L777.8 259L779.1 255.2L780.3 260.3L781.6 265.4L782.8 257.2L784.1 260.8L785.3 255.9L786.6 214.5L787.8 260.7L789.1 258.6L790.3 261L791.6 263.4L792.8 255.3L794.1 156.3L795.3 163L796.6 266.5L797.8 258.1L799.1 257.6L800.3 260.7L801.6 266.2L802.8 257.3L804.1 258.2L805.3 242L806.6 261.8L807.8 266.5L809.1 255L810.3 246"/>
<path class="yl" d="M94.5 287.2L600.4 287.2L601.7 275.4L602.9 287.2L771.6 287.2L772.8 275.4L774.1 287.2L810.3 287.2"/>
<text x="26.8" y="77.3" textLength="30.08" lengthAdjust="spacingAndGlyphs">134</text><text x="61.9" y="77.3" textLength="25.27" lengthAdjust="spacingAndGlyphs">ms</text>
<text x="27.3" y="109.9" textLength="29.58" lengthAdjust="spacingAndGlyphs">133</text><text x="61.9" y="109.9" textLength="25.27" lengthAdjust="spacingAndGlyphs">ms</text>
<text x="27.4" y="142.5" textLength="29.44" lengthAdjust="spacingAndGlyphs">132</text><text x="61.9" y="142.5" textLength="25.27" lengthAdjust="spacingAndGlyphs">ms</text>
<text x="31.1" y="175.1" textLength="25.78" lengthAdjust="spacingAndGlyphs">131</text><text x="61.9" y="175.1" textLength="25.27" lengthAdjust="spacingAndGlyphs">ms</text>
<text x="27.1" y="207.8" textLength="29.81" lengthAdjust="spacingAndGlyphs">130</text><text x="61.9" y="207.8" textLength="25.27" lengthAdjust="spacingAndGlyphs">ms</text>
<text x="27.4" y="240.4" textLength="29.47" lengthAdjust="spacingAndGlyphs">129</text><text x="61.9" y="240.4" textLength="25.27" lengthAdjust="spacingAndGlyphs">ms</text>
<text x="27.4" y="273" textLength="29.45" lengthAdjust="spacingAndGlyphs">128</text><text x="61.9" y="273" textLength="25.27" lengthAdjust="spacingAndGlyphs">ms</text>
<text x="818" y="75.1" textLength="47.72" lengthAdjust="spacingAndGlyphs">100%</text>
<text x="818" y="118.8" textLength="40.17" lengthAdjust="spacingAndGlyphs">80%</text>
<text x="818" y="162.4" textLength="40.19" lengthAdjust="spacingAndGlyphs">60%</text>
<text x="818" y="206.1" textLength="40.66" lengthAdjust="spacingAndGlyphs">40%</text>
<text x="818" y="249.7" textLength="40.02" lengthAdjust="spacingAndGlyphs">20%</text>
<text x="818" y="293.4" textLength="29.03" lengthAdjust="spacingAndGlyphs">0%</text>
<text x="109.5" y="318.2" textLength="50.42" lengthAdjust="spacingAndGlyphs">06:00</text>
<text x="228.6" y="318.2" textLength="50.41" lengthAdjust="spacingAndGlyphs">08:00</text>
<text x="349.7" y="318.2" textLength="46.59" lengthAdjust="spacingAndGlyphs">10:00</text>
<text x="469" y="318.2" textLength="46.22" lengthAdjust="spacingAndGlyphs">12:00</text>
<text x="587.8" y="318.2" textLength="46.86" lengthAdjust="spacingAndGlyphs">14:00</text>
<text x="707.2" y="318.2" textLength="46.39" lengthAdjust="spacingAndGlyphs">16:00</text>
<text x="64.5" y="341.8" class="h" style="fill:#799ef8;stroke:#799ef8" textLength="51.07" lengthAdjust="spacingAndGlyphs">Name</text>
<text x="626.1" y="341.8" class="h" style="fill:#799ef8;stroke:#799ef8" textLength="32.23" lengthAdjust="spacingAndGlyphs">Min</text>
<text x="715.5" y="341.8" class="h" style="fill:#799ef8;stroke:#799ef8" textLength="48.89" lengthAdjust="spacingAndGlyphs">Mean</text>
<text x="822.3" y="341.8" class="h" style="fill:#799ef8;stroke:#799ef8" textLength="37.12" lengthAdjust="spacingAndGlyphs">Max</text>
<path class="r" d="M20 354H872M20 390H872"/><path class="r2" d="M20 426H872"/>
<rect x="32" y="369" width="21" height="6" rx="3" fill="#85bd72"/>
<rect x="32" y="405" width="21" height="6" rx="3" fill="#eccd47"/>
<text x="64.5" y="377.9" textLength="46.42" lengthAdjust="spacingAndGlyphs">ICMP</text><text x="116.4" y="377.9" textLength="80.51" lengthAdjust="spacingAndGlyphs">response</text><text x="202.5" y="377.9" textLength="37.19" lengthAdjust="spacingAndGlyphs">time</text>
<text x="64.5" y="413.9" textLength="46.42" lengthAdjust="spacingAndGlyphs">ICMP</text><text x="116.4" y="413.9" textLength="34.83" lengthAdjust="spacingAndGlyphs">loss</text>
<text x="156.8" y="413.9" style="fill:#8e8e9b;stroke:#8e8e9b" textLength="46.69" lengthAdjust="spacingAndGlyphs">(right</text><text x="209" y="413.9" style="fill:#8e8e9b;stroke:#8e8e9b" textLength="59.38" lengthAdjust="spacingAndGlyphs">y-axis)</text>
<text x="597.5" y="377.9" textLength="29.90" lengthAdjust="spacingAndGlyphs">128</text><text x="632.9" y="377.9" textLength="25.49" lengthAdjust="spacingAndGlyphs">ms</text>
<text x="703.5" y="377.9" textLength="29.92" lengthAdjust="spacingAndGlyphs">129</text><text x="738.9" y="377.9" textLength="25.49" lengthAdjust="spacingAndGlyphs">ms</text>
<text x="798.3" y="377.9" textLength="30.03" lengthAdjust="spacingAndGlyphs">133</text><text x="833.9" y="377.9" textLength="25.49" lengthAdjust="spacingAndGlyphs">ms</text>
<text x="629.1" y="413.9" textLength="29.26" lengthAdjust="spacingAndGlyphs">0%</text>
<text x="688.5" y="413.9" textLength="75.91" lengthAdjust="spacingAndGlyphs">0.0154%</text>
<text x="803.3" y="413.9" textLength="56.06" lengthAdjust="spacingAndGlyphs">5.56%</text>
<path class="rh" d="M869.5 436.5L884 422.3M876 436L884 428.8"/>
</g>
<g transform="translate(1782,912)">
<text x="20" y="28" class="t" textLength="77.97" lengthAdjust="spacingAndGlyphs">KENTIK</text><text x="104" y="28" class="t" textLength="9.70" lengthAdjust="spacingAndGlyphs">-</text><text x="119.8" y="28" class="t" textLength="61.32" lengthAdjust="spacingAndGlyphs">FLOW</text><text x="187.1" y="28" class="t" textLength="160.51" lengthAdjust="spacingAndGlyphs">(208.76.14.254)</text>
<path class="g" d="M94.3 81.5H810.3M94.3 111.5H810.3M94.3 141.5H810.3M94.3 172.5H810.3M94.3 202.5H810.3M94.3 232.5H810.3M94.3 263.5H810.3M134.5 68.9V293.2M253.5 68.9V293.2M372.5 68.9V293.2M492.5 68.9V293.2M611.5 68.9V293.2M730.5 68.9V293.2"/>
<path d="M94.3 153.9L98 153.9L99.3 152.8L100.5 153.9L101.8 153.9L103 152.6L104.3 153.9L110.5 153.9L111.8 152.8L113 153.9L119.3 153.9L120.5 153.3L121.8 268L123 153.9L154.3 153.9L155.5 153.3L156.8 153.9L159.3 153.9L160.5 152.7L161.8 153.9L163 153.9L164.3 153.1L165.5 153.9L166.8 153.9L168 153L169.3 153.9L176.8 153.9L178 170L179.3 184L190.5 184L191.8 182.8L193 184L211.8 184L213 183.1L214.3 184L215.5 184L216.8 183.1L218 184L224.3 184L225.5 183L226.8 184L256.7 184L258 183L259.2 184L260.5 168L261.7 155L263 152.9L264.2 149L265.5 153.9L295.5 153.9L296.7 152.6L298 153.9L306.7 153.9L308 142.4L309.2 153.9L320.5 153.9L321.7 153.1L323 153.9L346.7 153.9L348 152.7L349.2 153.9L376.7 153.9L378 152.7L379.2 153.9L409.2 153.9L410.4 160L411.7 88.2L412.9 184L422.9 184L424.2 182.9L425.4 184L432.9 184L434.2 179.8L435.4 184L437.9 184L439.2 153.9L440.4 153.9L441.7 153.4L442.9 153.9L454.2 153.9L455.4 153.1L456.7 153.9L500.4 153.9L501.7 152.8L502.9 153.9L511.7 153.9L512.9 153.2L514.2 146.6L515.4 153.9L524.1 153.9L525.4 153L526.6 149.7L527.9 153.9L559.1 153.9L560.4 153L561.6 153.9L585.4 153.9L586.6 153.3L587.9 153.9L607.9 153.9L609.1 153.5L610.4 153.9L625.4 153.9L626.6 151L627.9 153.9L630.4 153.9L631.6 152.9L632.9 153.9L637.9 153.9L639.1 175L640.4 184L664.1 184L665.4 183.4L666.6 184L679.1 184L680.3 148.3L681.6 153.9L690.3 153.9L691.6 153.5L692.8 153.9L694.1 153.3L695.3 153.9L697.8 153.9L699.1 153.2L700.3 153.9L706.6 153.9L707.8 152.8L709.1 153.9L737.8 153.9L739.1 152.7L740.3 153.9L744.1 153.9L745.3 153.1L746.6 153.9L761.6 153.9L762.8 148L764.1 153.9L772.8 153.9L774.1 150.4L775.3 153.9L797.8 153.9L799.1 150.8L800.3 153.9L810.3 153.9L810.3 287.2L94.3 287.2Z" fill="url(#gf)" stroke="none"/>
<path class="gl" d="M94.3 153.9L98 153.9L99.3 152.8L100.5 153.9L101.8 153.9L103 152.6L104.3 153.9L110.5 153.9L111.8 152.8L113 153.9L119.3 153.9L120.5 153.3L121.8 268L123 153.9L154.3 153.9L155.5 153.3L156.8 153.9L159.3 153.9L160.5 152.7L161.8 153.9L163 153.9L164.3 153.1L165.5 153.9L166.8 153.9L168 153L169.3 153.9L176.8 153.9L178 170L179.3 184L190.5 184L191.8 182.8L193 184L211.8 184L213 183.1L214.3 184L215.5 184L216.8 183.1L218 184L224.3 184L225.5 183L226.8 184L256.7 184L258 183L259.2 184L260.5 168L261.7 155L263 152.9L264.2 149L265.5 153.9L295.5 153.9L296.7 152.6L298 153.9L306.7 153.9L308 142.4L309.2 153.9L320.5 153.9L321.7 153.1L323 153.9L346.7 153.9L348 152.7L349.2 153.9L376.7 153.9L378 152.7L379.2 153.9L409.2 153.9L410.4 160L411.7 88.2L412.9 184L422.9 184L424.2 182.9L425.4 184L432.9 184L434.2 179.8L435.4 184L437.9 184L439.2 153.9L440.4 153.9L441.7 153.4L442.9 153.9L454.2 153.9L455.4 153.1L456.7 153.9L500.4 153.9L501.7 152.8L502.9 153.9L511.7 153.9L512.9 153.2L514.2 146.6L515.4 153.9L524.1 153.9L525.4 153L526.6 149.7L527.9 153.9L559.1 153.9L560.4 153L561.6 153.9L585.4 153.9L586.6 153.3L587.9 153.9L607.9 153.9L609.1 153.5L610.4 153.9L625.4 153.9L626.6 151L627.9 153.9L630.4 153.9L631.6 152.9L632.9 153.9L637.9 153.9L639.1 175L640.4 184L664.1 184L665.4 183.4L666.6 184L679.1 184L680.3 148.3L681.6 153.9L690.3 153.9L691.6 153.5L692.8 153.9L694.1 153.3L695.3 153.9L697.8 153.9L699.1 153.2L700.3 153.9L706.6 153.9L707.8 152.8L709.1 153.9L737.8 153.9L739.1 152.7L740.3 153.9L744.1 153.9L745.3 153.1L746.6 153.9L761.6 153.9L762.8 148L764.1 153.9L772.8 153.9L774.1 150.4L775.3 153.9L797.8 153.9L799.1 150.8L800.3 153.9L810.3 153.9"/>
<path class="yl" d="M94.3 287.2L120.5 287.2L121.8 250.7L123 287.2L223 287.2L224.3 274.8L225.5 287.2L410.4 287.2L411.7 250.7L412.9 287.2L771.6 287.2L772.8 274.8L774.1 262.9L775.3 287.2L810.3 287.2"/>
<text x="27.4" y="86.5" textLength="29.25" lengthAdjust="spacingAndGlyphs">125</text><text x="61.7" y="86.5" textLength="25.27" lengthAdjust="spacingAndGlyphs">ms</text>
<text x="27" y="116.9" textLength="29.67" lengthAdjust="spacingAndGlyphs">120</text><text x="61.7" y="116.9" textLength="25.27" lengthAdjust="spacingAndGlyphs">ms</text>
<text x="31.1" y="147.2" textLength="25.59" lengthAdjust="spacingAndGlyphs">115</text><text x="61.7" y="147.2" textLength="25.27" lengthAdjust="spacingAndGlyphs">ms</text>
<text x="30.7" y="177.6" textLength="26.02" lengthAdjust="spacingAndGlyphs">110</text><text x="61.7" y="177.6" textLength="25.27" lengthAdjust="spacingAndGlyphs">ms</text>
<text x="27" y="207.9" textLength="29.62" lengthAdjust="spacingAndGlyphs">105</text><text x="61.7" y="207.9" textLength="25.27" lengthAdjust="spacingAndGlyphs">ms</text>
<text x="26.6" y="238.3" textLength="30.05" lengthAdjust="spacingAndGlyphs">100</text><text x="61.7" y="238.3" textLength="25.27" lengthAdjust="spacingAndGlyphs">ms</text>
<text x="34.6" y="268.6" textLength="22.09" lengthAdjust="spacingAndGlyphs">95</text><text x="61.7" y="268.6" textLength="25.27" lengthAdjust="spacingAndGlyphs">ms</text>
<text x="818" y="75.1" textLength="47.72" lengthAdjust="spacingAndGlyphs">100%</text>
<text x="818" y="118.8" textLength="40.17" lengthAdjust="spacingAndGlyphs">80%</text>
<text x="818" y="162.4" textLength="40.19" lengthAdjust="spacingAndGlyphs">60%</text>
<text x="818" y="206.1" textLength="40.66" lengthAdjust="spacingAndGlyphs">40%</text>
<text x="818" y="249.7" textLength="40.02" lengthAdjust="spacingAndGlyphs">20%</text>
<text x="818" y="293.4" textLength="29.03" lengthAdjust="spacingAndGlyphs">0%</text>
<text x="109.3" y="318.2" textLength="50.42" lengthAdjust="spacingAndGlyphs">06:00</text>
<text x="228.5" y="318.2" textLength="50.41" lengthAdjust="spacingAndGlyphs">08:00</text>
<text x="349.6" y="318.2" textLength="46.59" lengthAdjust="spacingAndGlyphs">10:00</text>
<text x="468.9" y="318.2" textLength="46.22" lengthAdjust="spacingAndGlyphs">12:00</text>
<text x="587.8" y="318.2" textLength="46.86" lengthAdjust="spacingAndGlyphs">14:00</text>
<text x="707.2" y="318.2" textLength="46.39" lengthAdjust="spacingAndGlyphs">16:00</text>
<text x="64.5" y="341.8" class="h" style="fill:#799ef8;stroke:#799ef8" textLength="51.07" lengthAdjust="spacingAndGlyphs">Name</text>
<text x="621.3" y="341.8" class="h" style="fill:#799ef8;stroke:#799ef8" textLength="32.23" lengthAdjust="spacingAndGlyphs">Min</text>
<text x="715.5" y="341.8" class="h" style="fill:#799ef8;stroke:#799ef8" textLength="48.89" lengthAdjust="spacingAndGlyphs">Mean</text>
<text x="822.3" y="341.8" class="h" style="fill:#799ef8;stroke:#799ef8" textLength="37.12" lengthAdjust="spacingAndGlyphs">Max</text>
<path class="r" d="M20 354H872M20 390H872"/><path class="r2" d="M20 426H872"/>
<rect x="32" y="369" width="21" height="6" rx="3" fill="#85bd72"/>
<rect x="32" y="405" width="21" height="6" rx="3" fill="#eccd47"/>
<text x="64.5" y="377.9" textLength="46.42" lengthAdjust="spacingAndGlyphs">ICMP</text><text x="116.4" y="377.9" textLength="80.51" lengthAdjust="spacingAndGlyphs">response</text><text x="202.5" y="377.9" textLength="37.19" lengthAdjust="spacingAndGlyphs">time</text>
<text x="64.5" y="413.9" textLength="46.42" lengthAdjust="spacingAndGlyphs">ICMP</text><text x="116.4" y="413.9" textLength="34.83" lengthAdjust="spacingAndGlyphs">loss</text>
<text x="156.8" y="413.9" style="fill:#8e8e9b;stroke:#8e8e9b" textLength="46.69" lengthAdjust="spacingAndGlyphs">(right</text><text x="209" y="413.9" style="fill:#8e8e9b;stroke:#8e8e9b" textLength="59.38" lengthAdjust="spacingAndGlyphs">y-axis)</text>
<text x="588.4" y="377.9" textLength="39.02" lengthAdjust="spacingAndGlyphs">94.2</text><text x="632.9" y="377.9" textLength="25.49" lengthAdjust="spacingAndGlyphs">ms</text>
<text x="707.3" y="377.9" textLength="26.09" lengthAdjust="spacingAndGlyphs">112</text><text x="738.9" y="377.9" textLength="25.49" lengthAdjust="spacingAndGlyphs">ms</text>
<text x="798.3" y="377.9" textLength="30.11" lengthAdjust="spacingAndGlyphs">124</text><text x="833.9" y="377.9" textLength="25.49" lengthAdjust="spacingAndGlyphs">ms</text>
<text x="629.1" y="413.9" textLength="29.26" lengthAdjust="spacingAndGlyphs">0%</text>
<text x="690.6" y="413.9" textLength="73.74" lengthAdjust="spacingAndGlyphs">0.0771%</text>
<text x="807.8" y="413.9" textLength="51.57" lengthAdjust="spacingAndGlyphs">16.7%</text>
<path class="rh" d="M869.5 436.5L884 422.3M876 436L884 428.8"/>
</g>
<g transform="translate(2673,912)">
<text x="20" y="28" class="t" textLength="114.08" lengthAdjust="spacingAndGlyphs">HOSTPAPA</text><text x="140.1" y="28" class="t" textLength="9.70" lengthAdjust="spacingAndGlyphs">-</text><text x="155.9" y="28" class="t" textLength="37.22" lengthAdjust="spacingAndGlyphs">CHI</text><text x="199.1" y="28" class="t" textLength="156.81" lengthAdjust="spacingAndGlyphs">(198.23.228.18)</text>
<path class="g" d="M94.2 79.5H810.3M94.2 111.5H810.3M94.2 143.5H810.3M94.2 175.5H810.3M94.2 207.5H810.3M94.2 239.5H810.3M94.2 271.5H810.3M134.5 68.9V293.2M253.5 68.9V293.2M372.5 68.9V293.2M491.5 68.9V293.2M611.5 68.9V293.2M730.5 68.9V293.2"/>
<path d="M94.2 152.2L105.4 152.2L106.7 151.3L107.9 152.2L109.2 150.8L110.4 152.2L115.4 152.2L116.7 150.9L117.9 152.2L120.4 152.2L121.7 88.8L122.9 152.2L124.2 151.1L125.4 151.6L126.7 152.2L127.9 152.2L129.2 151.7L130.4 152.2L131.7 152.2L132.9 151.7L134.2 152.2L137.9 152.2L139.2 151.1L140.4 152.2L154.2 152.2L155.4 151L156.7 152.2L159.2 152.2L160.4 151.1L161.7 152.2L169.2 152.2L170.4 151.1L171.7 152.2L209.2 152.2L210.4 151.7L211.7 152.2L212.9 152.2L214.2 151.4L215.4 152.2L229.2 152.2L230.4 150.9L231.7 152.2L236.7 152.2L237.9 151.5L239.2 152.2L247.9 152.2L249.2 151.5L250.4 152.2L251.7 152.2L252.9 151.4L254.2 152.2L259.2 152.2L260.4 151.7L261.7 152.2L267.9 152.2L269.2 151.1L270.4 152.2L271.7 152.2L272.9 151.5L274.2 152.2L281.7 152.2L282.9 151.1L284.2 152.2L301.7 152.2L302.9 151.3L304.2 152.2L307.9 152.2L309.2 151L310.4 152.2L335.4 152.2L336.6 151.5L337.9 152.2L344.1 152.2L345.4 151.2L346.6 152.2L360.4 152.2L361.6 151.3L362.9 152.2L397.9 152.2L399.1 150.9L400.4 152.2L402.9 152.2L404.1 151.4L405.4 152.2L409.1 152.2L410.4 151.6L411.6 220.2L412.9 147.5L414.1 146L415.4 152.2L416.6 110.6L417.9 204L419.1 152.2L422.9 152.2L424.1 151.4L425.4 152.2L440.4 152.2L441.6 151.4L442.9 152.2L444.1 152.2L445.4 151.2L446.6 152.2L449.1 152.2L450.4 101.1L451.6 151.1L452.9 152.2L456.6 152.2L457.9 148.5L459.1 151.3L460.4 152.2L461.6 151.6L462.9 152.2L477.9 152.2L479.1 151.6L480.4 152.2L507.9 152.2L509.1 151.5L510.4 152.2L517.9 152.2L519.1 150.8L520.4 151.8L521.6 152.2L522.9 152.2L524.1 151.7L525.4 152.2L534.1 152.2L535.4 151.7L536.6 152.2L542.9 152.2L544.1 150.8L545.4 152.2L551.6 152.2L552.9 151.6L554.1 152.2L579.1 152.2L580.3 151.5L581.6 152.2L614.1 152.2L615.3 97L616.6 152.2L617.8 151.2L619.1 152.2L624.1 152.2L625.3 151.2L626.6 152.2L645.3 152.2L646.6 151.2L647.8 152.2L649.1 143L650.3 152.2L655.3 152.2L656.6 151.7L657.8 152.2L662.8 152.2L664.1 150.9L665.3 152.2L672.8 152.2L674.1 150.8L675.3 152.2L722.8 152.2L724.1 151.6L725.3 152.2L727.8 152.2L729.1 151.7L730.3 152.2L731.6 152.2L732.8 150.9L734.1 152.2L735.3 151.4L736.6 151.3L737.8 151.1L739.1 152.2L742.8 152.2L744.1 151.8L745.3 152.2L760.3 152.2L761.6 150.8L762.8 152.2L772.8 152.2L774.1 148.5L775.3 148.5L776.6 152.2L810.3 152.2L810.3 287.2L94.2 287.2Z" fill="url(#gf)" stroke="none"/>
<path class="gl" d="M94.2 152.2L105.4 152.2L106.7 151.3L107.9 152.2L109.2 150.8L110.4 152.2L115.4 152.2L116.7 150.9L117.9 152.2L120.4 152.2L121.7 88.8L122.9 152.2L124.2 151.1L125.4 151.6L126.7 152.2L127.9 152.2L129.2 151.7L130.4 152.2L131.7 152.2L132.9 151.7L134.2 152.2L137.9 152.2L139.2 151.1L140.4 152.2L154.2 152.2L155.4 151L156.7 152.2L159.2 152.2L160.4 151.1L161.7 152.2L169.2 152.2L170.4 151.1L171.7 152.2L209.2 152.2L210.4 151.7L211.7 152.2L212.9 152.2L214.2 151.4L215.4 152.2L229.2 152.2L230.4 150.9L231.7 152.2L236.7 152.2L237.9 151.5L239.2 152.2L247.9 152.2L249.2 151.5L250.4 152.2L251.7 152.2L252.9 151.4L254.2 152.2L259.2 152.2L260.4 151.7L261.7 152.2L267.9 152.2L269.2 151.1L270.4 152.2L271.7 152.2L272.9 151.5L274.2 152.2L281.7 152.2L282.9 151.1L284.2 152.2L301.7 152.2L302.9 151.3L304.2 152.2L307.9 152.2L309.2 151L310.4 152.2L335.4 152.2L336.6 151.5L337.9 152.2L344.1 152.2L345.4 151.2L346.6 152.2L360.4 152.2L361.6 151.3L362.9 152.2L397.9 152.2L399.1 150.9L400.4 152.2L402.9 152.2L404.1 151.4L405.4 152.2L409.1 152.2L410.4 151.6L411.6 220.2L412.9 147.5L414.1 146L415.4 152.2L416.6 110.6L417.9 204L419.1 152.2L422.9 152.2L424.1 151.4L425.4 152.2L440.4 152.2L441.6 151.4L442.9 152.2L444.1 152.2L445.4 151.2L446.6 152.2L449.1 152.2L450.4 101.1L451.6 151.1L452.9 152.2L456.6 152.2L457.9 148.5L459.1 151.3L460.4 152.2L461.6 151.6L462.9 152.2L477.9 152.2L479.1 151.6L480.4 152.2L507.9 152.2L509.1 151.5L510.4 152.2L517.9 152.2L519.1 150.8L520.4 151.8L521.6 152.2L522.9 152.2L524.1 151.7L525.4 152.2L534.1 152.2L535.4 151.7L536.6 152.2L542.9 152.2L544.1 150.8L545.4 152.2L551.6 152.2L552.9 151.6L554.1 152.2L579.1 152.2L580.3 151.5L581.6 152.2L614.1 152.2L615.3 97L616.6 152.2L617.8 151.2L619.1 152.2L624.1 152.2L625.3 151.2L626.6 152.2L645.3 152.2L646.6 151.2L647.8 152.2L649.1 143L650.3 152.2L655.3 152.2L656.6 151.7L657.8 152.2L662.8 152.2L664.1 150.9L665.3 152.2L672.8 152.2L674.1 150.8L675.3 152.2L722.8 152.2L724.1 151.6L725.3 152.2L727.8 152.2L729.1 151.7L730.3 152.2L731.6 152.2L732.8 150.9L734.1 152.2L735.3 151.4L736.6 151.3L737.8 151.1L739.1 152.2L742.8 152.2L744.1 151.8L745.3 152.2L760.3 152.2L761.6 150.8L762.8 152.2L772.8 152.2L774.1 148.5L775.3 148.5L776.6 152.2L810.3 152.2"/>
<path class="yl" d="M94.2 287.2L120.4 287.2L121.7 274.8L122.9 287.2L410.4 287.2L411.6 250.5L412.9 287.2L415.4 287.2L416.6 201.7L417.9 287.2L449.1 287.2L450.4 214L451.6 287.2L510.4 287.2L511.6 141.3L512.9 287.2L614.1 287.2L615.3 189.5L616.6 287.2L772.8 287.2L774.1 274.8L775.3 274.8L776.6 287.2L810.3 287.2"/>
<text x="26.9" y="84.3" textLength="29.62" lengthAdjust="spacingAndGlyphs">150</text><text x="61.6" y="84.3" textLength="25.27" lengthAdjust="spacingAndGlyphs">ms</text>
<text x="26.3" y="116.4" textLength="30.31" lengthAdjust="spacingAndGlyphs">140</text><text x="61.6" y="116.4" textLength="25.27" lengthAdjust="spacingAndGlyphs">ms</text>
<text x="26.8" y="148.4" textLength="29.81" lengthAdjust="spacingAndGlyphs">130</text><text x="61.6" y="148.4" textLength="25.27" lengthAdjust="spacingAndGlyphs">ms</text>
<text x="26.9" y="180.5" textLength="29.67" lengthAdjust="spacingAndGlyphs">120</text><text x="61.6" y="180.5" textLength="25.27" lengthAdjust="spacingAndGlyphs">ms</text>
<text x="30.6" y="212.6" textLength="26.02" lengthAdjust="spacingAndGlyphs">110</text><text x="61.6" y="212.6" textLength="25.27" lengthAdjust="spacingAndGlyphs">ms</text>
<text x="26.5" y="244.6" textLength="30.05" lengthAdjust="spacingAndGlyphs">100</text><text x="61.6" y="244.6" textLength="25.27" lengthAdjust="spacingAndGlyphs">ms</text>
<text x="34.1" y="276.7" textLength="22.52" lengthAdjust="spacingAndGlyphs">90</text><text x="61.6" y="276.7" textLength="25.27" lengthAdjust="spacingAndGlyphs">ms</text>
<text x="818" y="75.1" textLength="47.72" lengthAdjust="spacingAndGlyphs">100%</text>
<text x="818" y="118.8" textLength="40.17" lengthAdjust="spacingAndGlyphs">80%</text>
<text x="818" y="162.4" textLength="40.19" lengthAdjust="spacingAndGlyphs">60%</text>
<text x="818" y="206.1" textLength="40.66" lengthAdjust="spacingAndGlyphs">40%</text>
<text x="818" y="249.7" textLength="40.02" lengthAdjust="spacingAndGlyphs">20%</text>
<text x="818" y="293.4" textLength="29.03" lengthAdjust="spacingAndGlyphs">0%</text>
<text x="109.2" y="318.2" textLength="50.42" lengthAdjust="spacingAndGlyphs">06:00</text>
<text x="228.4" y="318.2" textLength="50.41" lengthAdjust="spacingAndGlyphs">08:00</text>
<text x="349.5" y="318.2" textLength="46.59" lengthAdjust="spacingAndGlyphs">10:00</text>
<text x="468.9" y="318.2" textLength="46.22" lengthAdjust="spacingAndGlyphs">12:00</text>
<text x="587.8" y="318.2" textLength="46.86" lengthAdjust="spacingAndGlyphs">14:00</text>
<text x="707.2" y="318.2" textLength="46.39" lengthAdjust="spacingAndGlyphs">16:00</text>
<text x="64.5" y="341.8" class="h" style="fill:#799ef8;stroke:#799ef8" textLength="51.07" lengthAdjust="spacingAndGlyphs">Name</text>
<text x="625.3" y="341.8" class="h" style="fill:#799ef8;stroke:#799ef8" textLength="32.23" lengthAdjust="spacingAndGlyphs">Min</text>
<text x="715.5" y="341.8" class="h" style="fill:#799ef8;stroke:#799ef8" textLength="48.89" lengthAdjust="spacingAndGlyphs">Mean</text>
<text x="822.3" y="341.8" class="h" style="fill:#799ef8;stroke:#799ef8" textLength="37.12" lengthAdjust="spacingAndGlyphs">Max</text>
<path class="r" d="M20 354H872M20 390H872"/><path class="r2" d="M20 426H872"/>
<rect x="32" y="369" width="21" height="6" rx="3" fill="#85bd72"/>
<rect x="32" y="405" width="21" height="6" rx="3" fill="#eccd47"/>
<text x="64.5" y="377.9" textLength="46.42" lengthAdjust="spacingAndGlyphs">ICMP</text><text x="116.4" y="377.9" textLength="80.51" lengthAdjust="spacingAndGlyphs">response</text><text x="202.5" y="377.9" textLength="37.19" lengthAdjust="spacingAndGlyphs">time</text>
<text x="64.5" y="413.9" textLength="46.42" lengthAdjust="spacingAndGlyphs">ICMP</text><text x="116.4" y="413.9" textLength="34.83" lengthAdjust="spacingAndGlyphs">loss</text>
<text x="156.8" y="413.9" style="fill:#8e8e9b;stroke:#8e8e9b" textLength="46.69" lengthAdjust="spacingAndGlyphs">(right</text><text x="209" y="413.9" style="fill:#8e8e9b;stroke:#8e8e9b" textLength="59.38" lengthAdjust="spacingAndGlyphs">y-axis)</text>
<text x="592.4" y="377.9" textLength="34.99" lengthAdjust="spacingAndGlyphs">91.3</text><text x="632.9" y="377.9" textLength="25.49" lengthAdjust="spacingAndGlyphs">ms</text>
<text x="704.4" y="377.9" textLength="28.95" lengthAdjust="spacingAndGlyphs">127</text><text x="738.9" y="377.9" textLength="25.49" lengthAdjust="spacingAndGlyphs">ms</text>
<text x="798.8" y="377.9" textLength="29.59" lengthAdjust="spacingAndGlyphs">147</text><text x="833.9" y="377.9" textLength="25.49" lengthAdjust="spacingAndGlyphs">ms</text>
<text x="629.1" y="413.9" textLength="29.26" lengthAdjust="spacingAndGlyphs">0%</text>
<text x="696.3" y="413.9" textLength="68.09" lengthAdjust="spacingAndGlyphs">0.354%</text>
<text x="804" y="413.9" textLength="55.40" lengthAdjust="spacingAndGlyphs">66.7%</text>
<path class="rh" d="M869.5 436.5L884 422.3M876 436L884 428.8"/>
</g>
</svg></body></html>
